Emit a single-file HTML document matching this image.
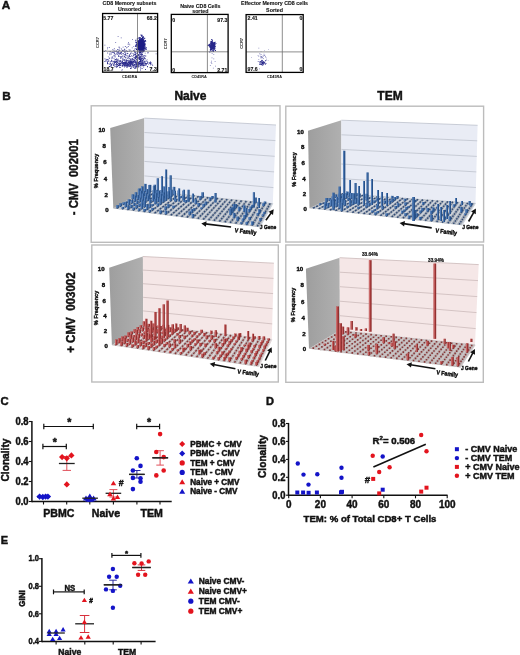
<!DOCTYPE html>
<html><head><meta charset="utf-8"><style>
html,body{margin:0;padding:0;background:#fff;width:520px;height:655px;overflow:hidden}
svg{display:block;font-family:"Liberation Sans",sans-serif;will-change:transform}
text{stroke:#111;stroke-width:0.45px;paint-order:stroke}
</style></head><body>
<svg width="520" height="655" viewBox="0 0 520 655">
<rect width="520" height="655" fill="#fff"/>
<text x="1.80" y="8.70" font-size="11.8" font-weight="bold" text-anchor="start" fill="#111">A</text>
<path d="M143.0 49.9h1.1v1.1h-1.1zM140.7 42.1h1.1v1.1h-1.1zM138.5 44.9h1.1v1.1h-1.1zM138.7 39.8h1.1v1.1h-1.1zM141.0 45.3h1.1v1.1h-1.1zM141.6 41.6h1.1v1.1h-1.1zM140.6 44.6h1.1v1.1h-1.1zM137.7 46.7h1.1v1.1h-1.1zM141.2 53.2h1.1v1.1h-1.1zM141.0 44.3h1.1v1.1h-1.1zM142.9 45.5h1.1v1.1h-1.1zM142.3 43.5h1.1v1.1h-1.1zM141.0 48.4h1.1v1.1h-1.1zM141.9 45.2h1.1v1.1h-1.1zM138.5 46.4h1.1v1.1h-1.1zM140.7 47.3h1.1v1.1h-1.1zM141.0 48.6h1.1v1.1h-1.1zM140.5 45.5h1.1v1.1h-1.1zM141.9 41.0h1.1v1.1h-1.1zM139.8 43.0h1.1v1.1h-1.1zM144.4 44.5h1.1v1.1h-1.1zM141.8 47.0h1.1v1.1h-1.1zM140.1 39.4h1.1v1.1h-1.1zM142.4 43.4h1.1v1.1h-1.1zM142.0 40.2h1.1v1.1h-1.1zM139.8 49.2h1.1v1.1h-1.1zM143.3 40.2h1.1v1.1h-1.1zM138.1 44.6h1.1v1.1h-1.1zM142.0 45.4h1.1v1.1h-1.1zM141.2 41.3h1.1v1.1h-1.1zM141.7 48.7h1.1v1.1h-1.1zM139.8 39.8h1.1v1.1h-1.1zM139.2 47.5h1.1v1.1h-1.1zM137.3 44.5h1.1v1.1h-1.1zM138.7 44.3h1.1v1.1h-1.1zM140.1 44.9h1.1v1.1h-1.1zM143.5 46.3h1.1v1.1h-1.1zM143.1 44.3h1.1v1.1h-1.1zM139.7 46.1h1.1v1.1h-1.1zM135.2 44.7h1.1v1.1h-1.1zM140.9 40.5h1.1v1.1h-1.1zM141.5 42.8h1.1v1.1h-1.1zM135.9 44.1h1.1v1.1h-1.1zM138.7 43.0h1.1v1.1h-1.1zM140.3 49.2h1.1v1.1h-1.1zM140.8 44.7h1.1v1.1h-1.1zM141.3 38.5h1.1v1.1h-1.1zM143.0 41.0h1.1v1.1h-1.1zM141.4 40.9h1.1v1.1h-1.1zM138.7 43.4h1.1v1.1h-1.1zM144.2 47.2h1.1v1.1h-1.1zM139.5 43.8h1.1v1.1h-1.1zM138.4 44.7h1.1v1.1h-1.1zM139.5 47.3h1.1v1.1h-1.1zM138.0 43.6h1.1v1.1h-1.1zM139.0 42.3h1.1v1.1h-1.1zM142.0 45.2h1.1v1.1h-1.1zM141.7 49.0h1.1v1.1h-1.1zM142.8 40.0h1.1v1.1h-1.1zM141.6 38.6h1.1v1.1h-1.1zM140.5 51.5h1.1v1.1h-1.1zM140.2 43.5h1.1v1.1h-1.1zM140.9 44.9h1.1v1.1h-1.1zM140.7 42.1h1.1v1.1h-1.1zM142.7 47.9h1.1v1.1h-1.1zM140.2 45.9h1.1v1.1h-1.1zM141.9 48.4h1.1v1.1h-1.1zM141.3 47.2h1.1v1.1h-1.1zM140.1 41.1h1.1v1.1h-1.1zM139.7 48.4h1.1v1.1h-1.1zM142.5 45.3h1.1v1.1h-1.1zM139.5 45.9h1.1v1.1h-1.1zM143.8 49.5h1.1v1.1h-1.1zM139.3 44.6h1.1v1.1h-1.1zM137.8 40.8h1.1v1.1h-1.1zM141.0 44.9h1.1v1.1h-1.1zM142.4 49.2h1.1v1.1h-1.1zM142.2 49.4h1.1v1.1h-1.1zM139.6 40.8h1.1v1.1h-1.1zM141.6 54.2h1.1v1.1h-1.1zM141.3 40.8h1.1v1.1h-1.1zM141.1 49.8h1.1v1.1h-1.1zM138.6 47.6h1.1v1.1h-1.1zM139.4 49.3h1.1v1.1h-1.1zM142.1 45.9h1.1v1.1h-1.1zM144.4 43.4h1.1v1.1h-1.1zM139.3 51.3h1.1v1.1h-1.1zM138.9 52.5h1.1v1.1h-1.1zM140.5 41.2h1.1v1.1h-1.1zM140.6 45.3h1.1v1.1h-1.1zM141.0 44.1h1.1v1.1h-1.1zM142.7 36.7h1.1v1.1h-1.1zM139.5 43.9h1.1v1.1h-1.1zM144.1 37.8h1.1v1.1h-1.1zM140.0 40.8h1.1v1.1h-1.1zM139.3 47.0h1.1v1.1h-1.1zM141.4 49.8h1.1v1.1h-1.1zM139.5 45.7h1.1v1.1h-1.1zM142.8 48.0h1.1v1.1h-1.1zM140.0 48.7h1.1v1.1h-1.1zM138.8 51.1h1.1v1.1h-1.1zM140.9 44.4h1.1v1.1h-1.1zM141.1 47.8h1.1v1.1h-1.1zM143.9 44.3h1.1v1.1h-1.1zM139.9 46.9h1.1v1.1h-1.1zM138.9 38.9h1.1v1.1h-1.1zM142.2 43.5h1.1v1.1h-1.1zM142.7 41.2h1.1v1.1h-1.1zM135.1 45.8h1.1v1.1h-1.1zM140.9 50.4h1.1v1.1h-1.1zM141.6 45.9h1.1v1.1h-1.1zM141.7 43.5h1.1v1.1h-1.1zM140.7 40.1h1.1v1.1h-1.1zM141.6 42.0h1.1v1.1h-1.1zM139.8 47.2h1.1v1.1h-1.1zM142.3 41.3h1.1v1.1h-1.1zM144.4 42.7h1.1v1.1h-1.1zM142.2 48.1h1.1v1.1h-1.1zM141.0 45.4h1.1v1.1h-1.1zM144.0 47.9h1.1v1.1h-1.1zM141.4 38.4h1.1v1.1h-1.1zM139.2 48.9h1.1v1.1h-1.1zM141.0 41.5h1.1v1.1h-1.1zM139.4 43.7h1.1v1.1h-1.1zM141.9 46.2h1.1v1.1h-1.1zM142.5 41.9h1.1v1.1h-1.1zM142.5 43.0h1.1v1.1h-1.1zM140.0 50.9h1.1v1.1h-1.1zM140.7 44.3h1.1v1.1h-1.1zM140.2 43.5h1.1v1.1h-1.1zM143.6 49.6h1.1v1.1h-1.1zM142.0 45.4h1.1v1.1h-1.1zM142.6 44.5h1.1v1.1h-1.1zM141.5 46.2h1.1v1.1h-1.1zM140.8 50.6h1.1v1.1h-1.1zM143.9 49.4h1.1v1.1h-1.1zM137.0 51.2h1.1v1.1h-1.1zM141.9 43.2h1.1v1.1h-1.1zM140.6 48.8h1.1v1.1h-1.1zM142.8 47.8h1.1v1.1h-1.1zM140.9 44.9h1.1v1.1h-1.1zM142.2 44.5h1.1v1.1h-1.1zM138.9 42.6h1.1v1.1h-1.1zM140.3 46.0h1.1v1.1h-1.1zM144.9 40.0h1.1v1.1h-1.1zM141.5 44.5h1.1v1.1h-1.1zM141.2 49.5h1.1v1.1h-1.1zM143.0 44.2h1.1v1.1h-1.1zM139.5 40.0h1.1v1.1h-1.1zM140.5 49.2h1.1v1.1h-1.1zM140.1 47.3h1.1v1.1h-1.1zM141.9 46.2h1.1v1.1h-1.1zM142.7 44.4h1.1v1.1h-1.1zM139.0 40.7h1.1v1.1h-1.1zM142.4 43.5h1.1v1.1h-1.1zM140.0 47.7h1.1v1.1h-1.1zM139.1 51.0h1.1v1.1h-1.1zM141.9 43.0h1.1v1.1h-1.1zM139.4 48.6h1.1v1.1h-1.1zM138.4 42.6h1.1v1.1h-1.1zM140.6 45.5h1.1v1.1h-1.1zM140.6 46.2h1.1v1.1h-1.1zM139.9 44.4h1.1v1.1h-1.1zM143.0 47.1h1.1v1.1h-1.1zM139.7 50.8h1.1v1.1h-1.1zM136.8 45.1h1.1v1.1h-1.1zM141.9 48.2h1.1v1.1h-1.1zM140.8 43.5h1.1v1.1h-1.1zM141.7 44.1h1.1v1.1h-1.1zM141.5 34.8h1.1v1.1h-1.1zM141.3 42.0h1.1v1.1h-1.1zM142.4 47.4h1.1v1.1h-1.1zM142.0 43.4h1.1v1.1h-1.1zM141.4 43.6h1.1v1.1h-1.1zM141.0 44.3h1.1v1.1h-1.1zM138.9 51.7h1.1v1.1h-1.1zM142.0 37.6h1.1v1.1h-1.1zM142.3 39.9h1.1v1.1h-1.1zM140.2 42.8h1.1v1.1h-1.1zM139.6 45.6h1.1v1.1h-1.1zM140.0 39.7h1.1v1.1h-1.1zM140.6 46.1h1.1v1.1h-1.1zM144.0 43.3h1.1v1.1h-1.1zM138.3 43.5h1.1v1.1h-1.1zM141.8 41.7h1.1v1.1h-1.1zM139.2 46.7h1.1v1.1h-1.1zM140.6 45.6h1.1v1.1h-1.1zM139.4 41.9h1.1v1.1h-1.1zM140.0 44.3h1.1v1.1h-1.1zM140.0 46.3h1.1v1.1h-1.1zM141.6 46.7h1.1v1.1h-1.1zM141.5 41.7h1.1v1.1h-1.1zM138.5 47.6h1.1v1.1h-1.1zM140.6 45.2h1.1v1.1h-1.1zM138.4 44.1h1.1v1.1h-1.1zM139.4 41.8h1.1v1.1h-1.1zM139.4 39.6h1.1v1.1h-1.1zM140.8 48.9h1.1v1.1h-1.1zM139.3 45.1h1.1v1.1h-1.1zM138.5 47.2h1.1v1.1h-1.1zM144.1 40.5h1.1v1.1h-1.1zM140.2 49.8h1.1v1.1h-1.1zM141.3 45.2h1.1v1.1h-1.1zM136.7 44.3h1.1v1.1h-1.1zM142.3 49.8h1.1v1.1h-1.1zM141.8 42.8h1.1v1.1h-1.1zM139.3 38.4h1.1v1.1h-1.1zM138.6 48.7h1.1v1.1h-1.1zM140.4 40.1h1.1v1.1h-1.1zM143.1 38.9h1.1v1.1h-1.1zM143.0 43.7h1.1v1.1h-1.1zM141.2 47.2h1.1v1.1h-1.1zM141.1 49.3h1.1v1.1h-1.1zM140.6 43.7h1.1v1.1h-1.1zM139.3 39.7h1.1v1.1h-1.1zM139.3 48.2h1.1v1.1h-1.1zM142.2 49.7h1.1v1.1h-1.1zM145.8 47.3h1.1v1.1h-1.1zM141.6 40.2h1.1v1.1h-1.1zM140.1 52.5h1.1v1.1h-1.1zM141.6 44.3h1.1v1.1h-1.1zM141.2 38.2h1.1v1.1h-1.1zM139.0 40.2h1.1v1.1h-1.1zM136.5 47.5h1.1v1.1h-1.1zM142.4 44.2h1.1v1.1h-1.1zM141.3 41.3h1.1v1.1h-1.1zM141.5 47.5h1.1v1.1h-1.1zM143.5 50.3h1.1v1.1h-1.1zM141.5 44.4h1.1v1.1h-1.1zM139.0 42.7h1.1v1.1h-1.1zM141.8 46.8h1.1v1.1h-1.1zM140.6 50.6h1.1v1.1h-1.1zM141.8 44.9h1.1v1.1h-1.1zM140.2 45.1h1.1v1.1h-1.1zM138.8 41.4h1.1v1.1h-1.1zM141.3 42.8h1.1v1.1h-1.1zM140.1 49.1h1.1v1.1h-1.1zM140.2 49.4h1.1v1.1h-1.1zM140.6 50.1h1.1v1.1h-1.1zM141.5 38.6h1.1v1.1h-1.1zM143.0 44.1h1.1v1.1h-1.1zM136.9 45.2h1.1v1.1h-1.1zM140.9 40.3h1.1v1.1h-1.1zM139.4 46.7h1.1v1.1h-1.1zM143.3 48.8h1.1v1.1h-1.1zM142.9 48.7h1.1v1.1h-1.1zM135.9 42.3h1.1v1.1h-1.1zM141.0 35.4h1.1v1.1h-1.1zM142.1 47.9h1.1v1.1h-1.1zM139.1 43.5h1.1v1.1h-1.1zM138.8 44.7h1.1v1.1h-1.1zM140.5 44.8h1.1v1.1h-1.1zM138.7 46.2h1.1v1.1h-1.1zM140.0 48.1h1.1v1.1h-1.1zM141.2 39.6h1.1v1.1h-1.1zM137.9 45.0h1.1v1.1h-1.1zM139.7 46.4h1.1v1.1h-1.1zM142.1 44.9h1.1v1.1h-1.1zM137.4 40.6h1.1v1.1h-1.1zM141.7 41.1h1.1v1.1h-1.1zM142.7 44.5h1.1v1.1h-1.1zM141.6 41.7h1.1v1.1h-1.1zM140.4 34.4h1.1v1.1h-1.1zM140.2 46.8h1.1v1.1h-1.1zM138.9 41.9h1.1v1.1h-1.1zM140.5 45.0h1.1v1.1h-1.1zM139.1 47.2h1.1v1.1h-1.1zM137.5 48.7h1.1v1.1h-1.1zM137.9 41.9h1.1v1.1h-1.1zM143.1 41.3h1.1v1.1h-1.1zM137.5 45.1h1.1v1.1h-1.1zM138.9 40.9h1.1v1.1h-1.1zM139.3 42.2h1.1v1.1h-1.1zM138.7 41.2h1.1v1.1h-1.1zM143.7 42.4h1.1v1.1h-1.1zM142.4 39.9h1.1v1.1h-1.1zM141.6 40.4h1.1v1.1h-1.1zM139.7 47.0h1.1v1.1h-1.1zM139.6 37.9h1.1v1.1h-1.1zM139.6 44.2h1.1v1.1h-1.1zM141.7 41.3h1.1v1.1h-1.1zM140.0 45.0h1.1v1.1h-1.1zM137.5 44.4h1.1v1.1h-1.1zM139.0 46.3h1.1v1.1h-1.1zM140.4 44.2h1.1v1.1h-1.1zM136.0 44.4h1.1v1.1h-1.1zM139.9 41.5h1.1v1.1h-1.1zM139.6 40.4h1.1v1.1h-1.1zM140.9 47.1h1.1v1.1h-1.1zM141.7 43.0h1.1v1.1h-1.1zM143.8 47.8h1.1v1.1h-1.1zM138.8 44.3h1.1v1.1h-1.1zM137.5 44.4h1.1v1.1h-1.1zM142.0 49.2h1.1v1.1h-1.1zM139.8 38.5h1.1v1.1h-1.1zM140.3 49.6h1.1v1.1h-1.1zM140.9 49.3h1.1v1.1h-1.1zM142.2 50.3h1.1v1.1h-1.1zM141.7 42.5h1.1v1.1h-1.1zM141.4 53.7h1.1v1.1h-1.1zM139.6 38.3h1.1v1.1h-1.1zM144.6 46.2h1.1v1.1h-1.1zM139.4 42.7h1.1v1.1h-1.1zM137.7 47.3h1.1v1.1h-1.1zM140.9 42.6h1.1v1.1h-1.1zM139.8 43.3h1.1v1.1h-1.1zM142.6 44.2h1.1v1.1h-1.1zM143.2 41.9h1.1v1.1h-1.1zM139.4 43.1h1.1v1.1h-1.1zM139.6 44.5h1.1v1.1h-1.1zM142.5 49.0h1.1v1.1h-1.1zM138.6 49.3h1.1v1.1h-1.1zM140.8 50.4h1.1v1.1h-1.1zM140.3 41.9h1.1v1.1h-1.1zM142.1 47.0h1.1v1.1h-1.1zM139.7 44.9h1.1v1.1h-1.1zM140.8 45.9h1.1v1.1h-1.1zM137.3 40.6h1.1v1.1h-1.1zM140.7 45.7h1.1v1.1h-1.1zM139.6 38.6h1.1v1.1h-1.1zM143.2 43.7h1.1v1.1h-1.1zM138.6 50.4h1.1v1.1h-1.1zM142.8 48.4h1.1v1.1h-1.1zM142.2 46.8h1.1v1.1h-1.1zM138.7 44.9h1.1v1.1h-1.1zM141.3 47.0h1.1v1.1h-1.1zM141.5 41.3h1.1v1.1h-1.1zM139.5 43.6h1.1v1.1h-1.1zM140.2 41.7h1.1v1.1h-1.1zM137.1 40.5h1.1v1.1h-1.1zM141.2 44.8h1.1v1.1h-1.1zM141.7 38.2h1.1v1.1h-1.1zM139.8 47.9h1.1v1.1h-1.1zM136.9 41.0h1.1v1.1h-1.1zM137.4 49.0h1.1v1.1h-1.1zM140.7 42.8h1.1v1.1h-1.1zM140.9 44.5h1.1v1.1h-1.1zM142.3 48.9h1.1v1.1h-1.1zM142.3 46.0h1.1v1.1h-1.1zM142.1 47.6h1.1v1.1h-1.1zM142.8 38.4h1.1v1.1h-1.1zM141.3 45.1h1.1v1.1h-1.1zM140.9 43.9h1.1v1.1h-1.1zM140.5 46.5h1.1v1.1h-1.1zM141.0 45.2h1.1v1.1h-1.1zM138.6 40.4h1.1v1.1h-1.1zM139.2 38.6h1.1v1.1h-1.1zM139.6 41.8h1.1v1.1h-1.1zM137.2 38.0h1.1v1.1h-1.1zM139.7 42.8h1.1v1.1h-1.1zM144.7 47.8h1.1v1.1h-1.1zM139.1 43.1h1.1v1.1h-1.1zM138.7 42.0h1.1v1.1h-1.1zM139.9 44.6h1.1v1.1h-1.1zM139.4 47.7h1.1v1.1h-1.1zM141.8 51.6h1.1v1.1h-1.1zM138.1 47.2h1.1v1.1h-1.1zM139.9 39.2h1.1v1.1h-1.1zM140.0 39.0h1.1v1.1h-1.1zM140.5 54.4h1.1v1.1h-1.1zM143.1 51.2h1.1v1.1h-1.1zM142.9 39.4h1.1v1.1h-1.1zM141.4 45.3h1.1v1.1h-1.1zM141.4 41.2h1.1v1.1h-1.1zM136.8 52.2h1.1v1.1h-1.1zM142.9 45.9h1.1v1.1h-1.1zM139.7 45.4h1.1v1.1h-1.1zM138.2 48.2h1.1v1.1h-1.1zM140.9 44.3h1.1v1.1h-1.1zM139.8 44.6h1.1v1.1h-1.1zM140.9 43.4h1.1v1.1h-1.1zM142.4 45.5h1.1v1.1h-1.1zM140.4 41.8h1.1v1.1h-1.1zM142.9 49.3h1.1v1.1h-1.1zM141.9 38.3h1.1v1.1h-1.1zM139.9 48.3h1.1v1.1h-1.1zM140.7 49.3h1.1v1.1h-1.1zM139.8 47.6h1.1v1.1h-1.1zM141.6 36.2h1.1v1.1h-1.1zM139.8 44.0h1.1v1.1h-1.1zM139.4 41.7h1.1v1.1h-1.1zM143.6 44.4h1.1v1.1h-1.1zM142.1 40.1h1.1v1.1h-1.1zM136.7 43.1h1.1v1.1h-1.1zM141.4 42.3h1.1v1.1h-1.1zM141.6 47.6h1.1v1.1h-1.1zM139.7 44.6h1.1v1.1h-1.1zM139.2 48.6h1.1v1.1h-1.1zM144.0 46.5h1.1v1.1h-1.1zM139.6 42.3h1.1v1.1h-1.1zM140.1 47.9h1.1v1.1h-1.1zM139.2 50.0h1.1v1.1h-1.1zM138.3 44.8h1.1v1.1h-1.1zM143.1 51.0h1.1v1.1h-1.1zM139.8 47.6h1.1v1.1h-1.1zM145.4 48.9h1.1v1.1h-1.1zM136.4 45.8h1.1v1.1h-1.1zM145.1 40.7h1.1v1.1h-1.1zM142.3 37.5h1.1v1.1h-1.1zM143.6 41.8h1.1v1.1h-1.1zM142.1 48.0h1.1v1.1h-1.1zM135.3 39.8h1.1v1.1h-1.1zM141.2 39.5h1.1v1.1h-1.1zM140.6 41.5h1.1v1.1h-1.1zM143.2 43.0h1.1v1.1h-1.1zM138.9 47.0h1.1v1.1h-1.1zM142.9 44.3h1.1v1.1h-1.1zM141.1 46.5h1.1v1.1h-1.1zM139.7 40.6h1.1v1.1h-1.1zM141.6 43.6h1.1v1.1h-1.1zM138.0 47.8h1.1v1.1h-1.1zM141.4 45.3h1.1v1.1h-1.1zM139.2 44.0h1.1v1.1h-1.1zM141.8 46.5h1.1v1.1h-1.1zM139.0 41.6h1.1v1.1h-1.1zM141.3 45.4h1.1v1.1h-1.1zM142.2 40.7h1.1v1.1h-1.1zM142.4 51.0h1.1v1.1h-1.1zM142.4 45.3h1.1v1.1h-1.1zM142.3 40.3h1.1v1.1h-1.1zM139.8 52.0h1.1v1.1h-1.1zM137.5 40.7h1.1v1.1h-1.1zM142.2 42.5h1.1v1.1h-1.1zM139.5 40.9h1.1v1.1h-1.1zM143.8 42.7h1.1v1.1h-1.1zM140.1 38.5h1.1v1.1h-1.1zM142.1 44.8h1.1v1.1h-1.1zM141.5 50.3h1.1v1.1h-1.1zM140.9 40.6h1.1v1.1h-1.1zM138.7 45.1h1.1v1.1h-1.1zM143.1 40.6h1.1v1.1h-1.1zM140.1 44.3h1.1v1.1h-1.1zM141.8 41.7h1.1v1.1h-1.1zM141.2 47.5h1.1v1.1h-1.1zM140.5 44.5h1.1v1.1h-1.1zM141.8 46.8h1.1v1.1h-1.1zM143.0 41.0h1.1v1.1h-1.1zM142.9 44.0h1.1v1.1h-1.1zM138.4 42.9h1.1v1.1h-1.1zM138.3 44.1h1.1v1.1h-1.1zM142.6 36.9h1.1v1.1h-1.1zM138.4 47.5h1.1v1.1h-1.1zM140.0 47.6h1.1v1.1h-1.1zM138.1 44.6h1.1v1.1h-1.1zM135.6 41.8h1.1v1.1h-1.1zM142.0 49.1h1.1v1.1h-1.1zM143.7 44.6h1.1v1.1h-1.1zM138.9 43.4h1.1v1.1h-1.1zM137.0 49.5h1.1v1.1h-1.1zM142.8 41.6h1.1v1.1h-1.1z" fill="#1c1c84" fill-opacity="0.9"/>
<path d="M143.3 40.5h1.1v1.1h-1.1zM141.4 41.9h1.1v1.1h-1.1zM138.0 45.0h1.1v1.1h-1.1zM138.9 47.1h1.1v1.1h-1.1zM139.3 44.3h1.1v1.1h-1.1zM139.9 44.4h1.1v1.1h-1.1zM139.7 46.1h1.1v1.1h-1.1zM141.5 44.2h1.1v1.1h-1.1zM140.4 49.1h1.1v1.1h-1.1zM139.6 42.9h1.1v1.1h-1.1zM141.8 44.0h1.1v1.1h-1.1zM138.1 43.6h1.1v1.1h-1.1zM140.0 41.4h1.1v1.1h-1.1zM140.9 41.0h1.1v1.1h-1.1zM140.2 41.0h1.1v1.1h-1.1zM142.9 43.3h1.1v1.1h-1.1zM141.3 44.7h1.1v1.1h-1.1zM141.7 43.6h1.1v1.1h-1.1zM141.7 44.3h1.1v1.1h-1.1zM136.9 44.8h1.1v1.1h-1.1zM138.7 46.5h1.1v1.1h-1.1zM140.9 43.0h1.1v1.1h-1.1zM136.8 38.4h1.1v1.1h-1.1zM138.8 43.0h1.1v1.1h-1.1zM138.5 49.2h1.1v1.1h-1.1zM141.3 43.8h1.1v1.1h-1.1zM139.1 43.1h1.1v1.1h-1.1zM140.2 42.8h1.1v1.1h-1.1zM140.5 46.1h1.1v1.1h-1.1zM138.0 44.6h1.1v1.1h-1.1zM142.3 40.4h1.1v1.1h-1.1zM140.3 43.0h1.1v1.1h-1.1zM138.9 46.5h1.1v1.1h-1.1zM140.1 47.0h1.1v1.1h-1.1zM141.2 43.3h1.1v1.1h-1.1zM141.0 43.0h1.1v1.1h-1.1zM138.1 47.7h1.1v1.1h-1.1zM141.1 47.0h1.1v1.1h-1.1zM137.9 46.7h1.1v1.1h-1.1zM141.8 43.9h1.1v1.1h-1.1zM137.4 44.3h1.1v1.1h-1.1zM139.6 43.5h1.1v1.1h-1.1zM140.7 41.6h1.1v1.1h-1.1zM140.4 44.0h1.1v1.1h-1.1zM142.8 43.7h1.1v1.1h-1.1zM144.1 40.9h1.1v1.1h-1.1zM140.4 47.2h1.1v1.1h-1.1zM138.2 45.6h1.1v1.1h-1.1zM141.2 42.4h1.1v1.1h-1.1zM140.2 48.0h1.1v1.1h-1.1zM139.9 44.7h1.1v1.1h-1.1zM141.2 47.1h1.1v1.1h-1.1zM137.5 40.2h1.1v1.1h-1.1zM138.6 43.3h1.1v1.1h-1.1zM141.5 46.2h1.1v1.1h-1.1zM140.2 47.9h1.1v1.1h-1.1zM140.5 45.8h1.1v1.1h-1.1zM139.5 46.2h1.1v1.1h-1.1zM139.5 47.0h1.1v1.1h-1.1zM141.9 48.9h1.1v1.1h-1.1zM140.0 41.0h1.1v1.1h-1.1zM141.8 44.8h1.1v1.1h-1.1zM139.8 40.5h1.1v1.1h-1.1zM141.8 38.9h1.1v1.1h-1.1zM139.9 46.8h1.1v1.1h-1.1zM140.2 45.2h1.1v1.1h-1.1zM141.3 45.5h1.1v1.1h-1.1zM142.2 45.7h1.1v1.1h-1.1zM140.0 40.8h1.1v1.1h-1.1zM140.2 42.3h1.1v1.1h-1.1zM141.2 47.2h1.1v1.1h-1.1zM141.8 42.2h1.1v1.1h-1.1zM140.9 44.0h1.1v1.1h-1.1zM139.9 47.4h1.1v1.1h-1.1zM141.5 44.9h1.1v1.1h-1.1zM138.8 37.2h1.1v1.1h-1.1zM139.5 47.0h1.1v1.1h-1.1zM140.3 43.9h1.1v1.1h-1.1zM140.2 45.2h1.1v1.1h-1.1zM140.6 48.5h1.1v1.1h-1.1zM140.4 43.3h1.1v1.1h-1.1zM142.7 46.0h1.1v1.1h-1.1zM141.6 45.4h1.1v1.1h-1.1zM140.5 44.8h1.1v1.1h-1.1zM141.4 44.3h1.1v1.1h-1.1zM137.8 47.6h1.1v1.1h-1.1zM139.9 42.5h1.1v1.1h-1.1zM140.1 42.1h1.1v1.1h-1.1zM139.3 43.8h1.1v1.1h-1.1zM141.9 43.2h1.1v1.1h-1.1zM141.3 40.5h1.1v1.1h-1.1zM141.7 41.0h1.1v1.1h-1.1zM141.6 42.1h1.1v1.1h-1.1zM139.7 40.7h1.1v1.1h-1.1zM138.7 43.4h1.1v1.1h-1.1zM139.1 43.4h1.1v1.1h-1.1zM142.3 41.8h1.1v1.1h-1.1zM140.1 43.7h1.1v1.1h-1.1zM139.7 43.9h1.1v1.1h-1.1zM140.9 46.7h1.1v1.1h-1.1zM139.5 43.4h1.1v1.1h-1.1zM140.4 47.2h1.1v1.1h-1.1zM139.1 44.4h1.1v1.1h-1.1zM141.8 45.5h1.1v1.1h-1.1zM139.5 41.3h1.1v1.1h-1.1zM137.8 42.6h1.1v1.1h-1.1zM140.2 40.1h1.1v1.1h-1.1zM141.9 44.4h1.1v1.1h-1.1zM140.2 42.6h1.1v1.1h-1.1zM141.3 43.3h1.1v1.1h-1.1zM141.4 42.8h1.1v1.1h-1.1zM142.2 39.8h1.1v1.1h-1.1zM139.0 48.7h1.1v1.1h-1.1zM142.2 48.3h1.1v1.1h-1.1zM139.4 45.9h1.1v1.1h-1.1zM142.1 46.4h1.1v1.1h-1.1zM140.3 47.8h1.1v1.1h-1.1zM141.2 40.6h1.1v1.1h-1.1zM144.3 44.3h1.1v1.1h-1.1zM142.5 42.2h1.1v1.1h-1.1zM139.2 46.3h1.1v1.1h-1.1zM141.8 42.1h1.1v1.1h-1.1zM141.0 40.5h1.1v1.1h-1.1zM137.5 46.8h1.1v1.1h-1.1zM138.9 45.9h1.1v1.1h-1.1zM142.2 45.0h1.1v1.1h-1.1zM142.9 44.9h1.1v1.1h-1.1zM141.0 44.0h1.1v1.1h-1.1zM141.2 44.9h1.1v1.1h-1.1zM139.2 43.9h1.1v1.1h-1.1zM140.0 51.4h1.1v1.1h-1.1zM142.4 41.9h1.1v1.1h-1.1zM141.5 39.4h1.1v1.1h-1.1zM140.7 48.7h1.1v1.1h-1.1zM140.7 47.3h1.1v1.1h-1.1zM140.0 45.2h1.1v1.1h-1.1zM141.2 38.3h1.1v1.1h-1.1zM139.4 48.9h1.1v1.1h-1.1zM139.4 47.1h1.1v1.1h-1.1zM143.2 43.9h1.1v1.1h-1.1zM142.1 45.0h1.1v1.1h-1.1zM139.7 45.5h1.1v1.1h-1.1zM141.3 41.4h1.1v1.1h-1.1zM139.9 40.5h1.1v1.1h-1.1zM140.1 43.9h1.1v1.1h-1.1zM139.1 39.1h1.1v1.1h-1.1zM141.6 47.3h1.1v1.1h-1.1zM139.2 44.2h1.1v1.1h-1.1zM139.6 37.1h1.1v1.1h-1.1zM143.8 44.8h1.1v1.1h-1.1zM138.5 47.3h1.1v1.1h-1.1zM141.7 47.7h1.1v1.1h-1.1zM141.7 45.4h1.1v1.1h-1.1zM142.8 43.3h1.1v1.1h-1.1zM141.0 41.2h1.1v1.1h-1.1zM138.9 44.5h1.1v1.1h-1.1zM140.9 39.9h1.1v1.1h-1.1zM141.2 46.6h1.1v1.1h-1.1zM138.7 43.1h1.1v1.1h-1.1zM143.2 41.8h1.1v1.1h-1.1zM141.5 46.0h1.1v1.1h-1.1zM140.9 44.4h1.1v1.1h-1.1zM141.5 44.7h1.1v1.1h-1.1zM140.8 40.2h1.1v1.1h-1.1zM141.0 42.0h1.1v1.1h-1.1zM142.8 49.8h1.1v1.1h-1.1zM142.3 38.4h1.1v1.1h-1.1zM142.1 44.3h1.1v1.1h-1.1zM139.0 40.8h1.1v1.1h-1.1zM142.2 42.3h1.1v1.1h-1.1zM140.5 44.2h1.1v1.1h-1.1zM142.0 37.0h1.1v1.1h-1.1zM142.4 41.9h1.1v1.1h-1.1zM140.0 45.6h1.1v1.1h-1.1zM141.1 38.0h1.1v1.1h-1.1zM141.5 43.6h1.1v1.1h-1.1zM139.1 42.4h1.1v1.1h-1.1zM138.2 46.0h1.1v1.1h-1.1zM142.8 42.4h1.1v1.1h-1.1zM139.9 40.2h1.1v1.1h-1.1zM139.5 41.3h1.1v1.1h-1.1zM140.6 48.5h1.1v1.1h-1.1zM142.2 46.5h1.1v1.1h-1.1zM139.1 46.2h1.1v1.1h-1.1zM139.5 41.7h1.1v1.1h-1.1zM141.7 43.7h1.1v1.1h-1.1zM144.3 44.5h1.1v1.1h-1.1zM140.1 45.9h1.1v1.1h-1.1zM138.9 45.8h1.1v1.1h-1.1zM142.9 43.6h1.1v1.1h-1.1zM139.8 46.9h1.1v1.1h-1.1zM138.9 45.0h1.1v1.1h-1.1zM139.8 44.8h1.1v1.1h-1.1zM139.4 45.6h1.1v1.1h-1.1zM141.4 48.6h1.1v1.1h-1.1zM140.1 45.1h1.1v1.1h-1.1zM138.0 42.0h1.1v1.1h-1.1zM141.0 40.4h1.1v1.1h-1.1zM140.4 41.7h1.1v1.1h-1.1zM141.3 45.6h1.1v1.1h-1.1zM139.9 45.7h1.1v1.1h-1.1zM139.8 44.3h1.1v1.1h-1.1zM141.4 45.4h1.1v1.1h-1.1zM141.5 48.4h1.1v1.1h-1.1zM139.6 43.6h1.1v1.1h-1.1zM137.9 46.3h1.1v1.1h-1.1zM138.9 42.5h1.1v1.1h-1.1zM139.8 45.1h1.1v1.1h-1.1zM140.2 43.3h1.1v1.1h-1.1zM140.7 43.1h1.1v1.1h-1.1zM140.6 41.4h1.1v1.1h-1.1zM139.8 40.8h1.1v1.1h-1.1zM141.9 46.3h1.1v1.1h-1.1zM141.6 44.9h1.1v1.1h-1.1zM139.7 45.4h1.1v1.1h-1.1zM138.3 37.5h1.1v1.1h-1.1zM138.8 47.9h1.1v1.1h-1.1zM141.0 48.0h1.1v1.1h-1.1zM139.5 46.6h1.1v1.1h-1.1zM143.0 46.6h1.1v1.1h-1.1zM141.0 46.8h1.1v1.1h-1.1zM139.9 48.6h1.1v1.1h-1.1zM138.9 42.0h1.1v1.1h-1.1zM140.6 42.0h1.1v1.1h-1.1zM143.2 45.7h1.1v1.1h-1.1zM139.5 48.4h1.1v1.1h-1.1zM142.6 43.0h1.1v1.1h-1.1zM142.9 47.1h1.1v1.1h-1.1zM139.8 42.5h1.1v1.1h-1.1zM141.1 47.0h1.1v1.1h-1.1zM143.0 47.9h1.1v1.1h-1.1zM139.9 39.4h1.1v1.1h-1.1zM138.1 47.9h1.1v1.1h-1.1zM142.2 47.1h1.1v1.1h-1.1zM140.6 44.2h1.1v1.1h-1.1zM141.3 45.2h1.1v1.1h-1.1zM140.7 41.5h1.1v1.1h-1.1zM138.5 44.4h1.1v1.1h-1.1zM140.4 47.7h1.1v1.1h-1.1zM139.0 38.8h1.1v1.1h-1.1zM137.7 43.9h1.1v1.1h-1.1zM143.1 43.1h1.1v1.1h-1.1zM139.5 45.0h1.1v1.1h-1.1zM142.9 46.8h1.1v1.1h-1.1zM141.9 46.4h1.1v1.1h-1.1zM140.2 44.2h1.1v1.1h-1.1zM141.2 48.7h1.1v1.1h-1.1zM137.3 42.6h1.1v1.1h-1.1zM141.2 43.4h1.1v1.1h-1.1zM140.4 43.3h1.1v1.1h-1.1zM139.2 45.3h1.1v1.1h-1.1zM142.5 43.1h1.1v1.1h-1.1zM141.3 46.9h1.1v1.1h-1.1zM139.6 43.8h1.1v1.1h-1.1zM138.6 48.1h1.1v1.1h-1.1zM143.2 43.5h1.1v1.1h-1.1zM143.6 46.2h1.1v1.1h-1.1zM137.9 45.3h1.1v1.1h-1.1zM141.0 45.3h1.1v1.1h-1.1zM141.6 42.8h1.1v1.1h-1.1zM142.3 44.8h1.1v1.1h-1.1zM143.4 43.7h1.1v1.1h-1.1zM136.8 49.0h1.1v1.1h-1.1zM141.4 39.2h1.1v1.1h-1.1zM139.7 41.9h1.1v1.1h-1.1zM142.0 42.4h1.1v1.1h-1.1zM142.3 42.7h1.1v1.1h-1.1zM142.0 42.4h1.1v1.1h-1.1zM138.8 45.5h1.1v1.1h-1.1zM140.2 45.3h1.1v1.1h-1.1zM138.1 41.3h1.1v1.1h-1.1zM140.1 49.1h1.1v1.1h-1.1zM141.2 39.6h1.1v1.1h-1.1zM135.9 48.8h1.1v1.1h-1.1zM141.1 40.7h1.1v1.1h-1.1zM142.1 46.2h1.1v1.1h-1.1zM143.8 44.5h1.1v1.1h-1.1zM139.9 46.1h1.1v1.1h-1.1zM138.6 42.8h1.1v1.1h-1.1zM139.1 42.5h1.1v1.1h-1.1zM138.7 40.2h1.1v1.1h-1.1zM138.9 45.0h1.1v1.1h-1.1zM140.6 43.8h1.1v1.1h-1.1zM141.3 46.0h1.1v1.1h-1.1zM141.3 49.4h1.1v1.1h-1.1zM141.0 45.0h1.1v1.1h-1.1zM139.9 46.8h1.1v1.1h-1.1zM142.7 36.3h1.1v1.1h-1.1zM141.8 41.1h1.1v1.1h-1.1zM141.1 44.2h1.1v1.1h-1.1zM138.7 40.5h1.1v1.1h-1.1zM140.2 50.8h1.1v1.1h-1.1zM138.7 42.9h1.1v1.1h-1.1zM140.2 43.3h1.1v1.1h-1.1zM142.3 49.4h1.1v1.1h-1.1zM140.5 45.1h1.1v1.1h-1.1zM140.1 48.1h1.1v1.1h-1.1zM140.5 45.8h1.1v1.1h-1.1zM140.3 46.9h1.1v1.1h-1.1zM140.5 41.8h1.1v1.1h-1.1z" fill="#1c1c84" fill-opacity="1.0"/>
<path d="M145.7 49.2h0.9v0.9h-0.9zM139.6 56.4h0.9v0.9h-0.9zM135.8 67.4h0.9v0.9h-0.9zM140.2 56.1h0.9v0.9h-0.9zM135.9 59.5h0.9v0.9h-0.9zM139.0 56.9h0.9v0.9h-0.9zM136.7 64.9h0.9v0.9h-0.9zM139.8 57.2h0.9v0.9h-0.9zM134.6 54.5h0.9v0.9h-0.9zM141.6 54.6h0.9v0.9h-0.9zM141.3 57.5h0.9v0.9h-0.9zM140.4 59.6h0.9v0.9h-0.9zM137.5 56.8h0.9v0.9h-0.9zM138.8 61.0h0.9v0.9h-0.9zM147.4 61.9h0.9v0.9h-0.9zM134.4 68.0h0.9v0.9h-0.9zM138.6 54.9h0.9v0.9h-0.9zM139.4 57.7h0.9v0.9h-0.9zM139.9 57.9h0.9v0.9h-0.9zM138.9 63.7h0.9v0.9h-0.9zM144.9 58.4h0.9v0.9h-0.9zM144.6 62.2h0.9v0.9h-0.9zM143.2 59.2h0.9v0.9h-0.9zM139.7 61.6h0.9v0.9h-0.9zM135.6 58.3h0.9v0.9h-0.9zM135.0 62.1h0.9v0.9h-0.9zM139.7 60.7h0.9v0.9h-0.9zM137.8 54.5h0.9v0.9h-0.9zM142.4 56.1h0.9v0.9h-0.9zM138.3 58.2h0.9v0.9h-0.9zM140.6 58.3h0.9v0.9h-0.9zM135.4 53.3h0.9v0.9h-0.9zM142.6 56.6h0.9v0.9h-0.9zM138.2 54.0h0.9v0.9h-0.9zM142.3 60.1h0.9v0.9h-0.9zM137.1 50.2h0.9v0.9h-0.9zM145.3 55.5h0.9v0.9h-0.9zM134.9 55.8h0.9v0.9h-0.9zM135.0 58.0h0.9v0.9h-0.9zM137.1 52.7h0.9v0.9h-0.9zM141.4 54.2h0.9v0.9h-0.9zM132.5 59.5h0.9v0.9h-0.9zM137.1 53.1h0.9v0.9h-0.9zM133.2 54.8h0.9v0.9h-0.9zM136.9 55.8h0.9v0.9h-0.9zM137.2 63.7h0.9v0.9h-0.9zM142.7 59.4h0.9v0.9h-0.9zM141.0 55.9h0.9v0.9h-0.9zM133.9 60.4h0.9v0.9h-0.9zM143.8 54.9h0.9v0.9h-0.9zM136.6 54.9h0.9v0.9h-0.9zM134.4 60.5h0.9v0.9h-0.9zM135.2 64.2h0.9v0.9h-0.9zM144.8 58.4h0.9v0.9h-0.9zM138.9 54.2h0.9v0.9h-0.9zM142.2 58.4h0.9v0.9h-0.9zM133.8 53.8h0.9v0.9h-0.9zM140.6 55.8h0.9v0.9h-0.9zM140.5 59.1h0.9v0.9h-0.9zM144.0 57.6h0.9v0.9h-0.9zM142.7 63.0h0.9v0.9h-0.9zM143.6 56.5h0.9v0.9h-0.9zM140.0 69.5h0.9v0.9h-0.9zM138.3 55.3h0.9v0.9h-0.9zM139.4 52.7h0.9v0.9h-0.9zM136.0 56.1h0.9v0.9h-0.9zM138.0 62.5h0.9v0.9h-0.9zM135.2 57.2h0.9v0.9h-0.9zM139.9 56.7h0.9v0.9h-0.9zM141.6 68.1h0.9v0.9h-0.9zM135.2 54.1h0.9v0.9h-0.9zM137.2 55.6h0.9v0.9h-0.9zM137.1 59.9h0.9v0.9h-0.9zM145.1 69.1h0.9v0.9h-0.9zM138.7 48.8h0.9v0.9h-0.9zM144.5 58.1h0.9v0.9h-0.9zM137.6 62.9h0.9v0.9h-0.9zM138.6 57.0h0.9v0.9h-0.9zM135.9 62.1h0.9v0.9h-0.9zM142.0 54.2h0.9v0.9h-0.9zM137.0 63.6h0.9v0.9h-0.9zM136.5 56.1h0.9v0.9h-0.9zM136.3 56.9h0.9v0.9h-0.9zM142.0 58.3h0.9v0.9h-0.9zM142.5 60.7h0.9v0.9h-0.9zM131.9 57.9h0.9v0.9h-0.9zM138.9 50.5h0.9v0.9h-0.9zM141.7 57.8h0.9v0.9h-0.9zM137.2 60.3h0.9v0.9h-0.9zM142.4 61.3h0.9v0.9h-0.9zM137.2 57.8h0.9v0.9h-0.9zM147.6 52.2h0.9v0.9h-0.9zM139.3 58.1h0.9v0.9h-0.9zM144.3 60.8h0.9v0.9h-0.9zM139.8 56.7h0.9v0.9h-0.9zM143.3 58.3h0.9v0.9h-0.9zM138.7 58.8h0.9v0.9h-0.9zM141.4 58.2h0.9v0.9h-0.9zM139.9 61.6h0.9v0.9h-0.9zM136.5 56.9h0.9v0.9h-0.9zM139.2 61.1h0.9v0.9h-0.9zM141.0 55.8h0.9v0.9h-0.9zM135.4 56.3h0.9v0.9h-0.9zM137.2 62.0h0.9v0.9h-0.9zM141.2 58.3h0.9v0.9h-0.9zM135.2 52.1h0.9v0.9h-0.9zM139.4 60.7h0.9v0.9h-0.9zM140.3 56.9h0.9v0.9h-0.9zM141.0 49.1h0.9v0.9h-0.9zM143.0 64.8h0.9v0.9h-0.9zM139.6 59.1h0.9v0.9h-0.9zM138.3 62.0h0.9v0.9h-0.9zM135.8 55.4h0.9v0.9h-0.9zM140.4 51.6h0.9v0.9h-0.9zM140.7 60.1h0.9v0.9h-0.9zM139.0 55.8h0.9v0.9h-0.9zM145.1 55.6h0.9v0.9h-0.9zM139.5 61.6h0.9v0.9h-0.9zM139.0 62.7h0.9v0.9h-0.9zM139.0 59.2h0.9v0.9h-0.9z" fill="#1c1c84" fill-opacity="0.9"/>
<path d="M123.9 58.9h0.8v0.8h-0.8zM117.5 60.3h0.8v0.8h-0.8zM134.3 48.7h0.8v0.8h-0.8zM109.0 47.0h0.8v0.8h-0.8zM116.0 59.1h0.8v0.8h-0.8zM124.7 66.3h0.8v0.8h-0.8zM139.8 45.8h0.8v0.8h-0.8zM120.1 53.2h0.8v0.8h-0.8zM140.1 59.7h0.8v0.8h-0.8zM133.3 50.1h0.8v0.8h-0.8zM144.3 48.4h0.8v0.8h-0.8zM124.3 49.2h0.8v0.8h-0.8zM115.0 56.5h0.8v0.8h-0.8zM115.0 59.1h0.8v0.8h-0.8zM129.2 55.3h0.8v0.8h-0.8zM130.4 61.8h0.8v0.8h-0.8zM134.9 48.2h0.8v0.8h-0.8zM130.5 60.4h0.8v0.8h-0.8zM120.2 52.7h0.8v0.8h-0.8zM136.1 59.0h0.8v0.8h-0.8zM125.3 63.6h0.8v0.8h-0.8zM133.3 65.4h0.8v0.8h-0.8zM120.1 60.9h0.8v0.8h-0.8zM104.2 51.1h0.8v0.8h-0.8zM140.7 49.2h0.8v0.8h-0.8zM122.5 52.9h0.8v0.8h-0.8zM128.8 61.8h0.8v0.8h-0.8zM140.0 54.1h0.8v0.8h-0.8zM127.4 60.3h0.8v0.8h-0.8zM135.6 53.3h0.8v0.8h-0.8zM137.6 46.4h0.8v0.8h-0.8zM126.8 46.7h0.8v0.8h-0.8zM119.4 50.3h0.8v0.8h-0.8zM141.7 65.0h0.8v0.8h-0.8zM131.8 56.0h0.8v0.8h-0.8zM104.5 44.8h0.8v0.8h-0.8zM125.9 59.4h0.8v0.8h-0.8zM129.1 50.6h0.8v0.8h-0.8zM116.3 58.2h0.8v0.8h-0.8zM146.7 59.4h0.8v0.8h-0.8zM123.6 54.3h0.8v0.8h-0.8zM128.4 56.9h0.8v0.8h-0.8zM109.7 64.3h0.8v0.8h-0.8zM128.6 58.3h0.8v0.8h-0.8zM119.5 61.6h0.8v0.8h-0.8zM134.1 50.6h0.8v0.8h-0.8zM134.3 50.7h0.8v0.8h-0.8zM105.6 60.0h0.8v0.8h-0.8zM114.1 51.7h0.8v0.8h-0.8zM114.7 54.6h0.8v0.8h-0.8zM120.4 56.0h0.8v0.8h-0.8zM128.7 64.8h0.8v0.8h-0.8zM128.6 58.1h0.8v0.8h-0.8zM128.9 59.9h0.8v0.8h-0.8zM133.0 56.7h0.8v0.8h-0.8zM112.4 49.3h0.8v0.8h-0.8zM126.9 53.1h0.8v0.8h-0.8zM119.9 51.9h0.8v0.8h-0.8zM116.8 61.6h0.8v0.8h-0.8zM131.8 47.4h0.8v0.8h-0.8zM125.9 54.9h0.8v0.8h-0.8zM119.4 61.3h0.8v0.8h-0.8zM127.2 55.4h0.8v0.8h-0.8zM115.4 60.7h0.8v0.8h-0.8zM126.5 56.7h0.8v0.8h-0.8zM117.1 64.0h0.8v0.8h-0.8zM107.4 47.3h0.8v0.8h-0.8zM113.7 52.0h0.8v0.8h-0.8zM120.7 56.2h0.8v0.8h-0.8zM137.5 58.4h0.8v0.8h-0.8zM125.2 54.1h0.8v0.8h-0.8zM127.8 59.8h0.8v0.8h-0.8zM116.7 65.5h0.8v0.8h-0.8zM123.9 60.1h0.8v0.8h-0.8zM120.1 63.2h0.8v0.8h-0.8zM134.1 56.9h0.8v0.8h-0.8zM130.3 53.1h0.8v0.8h-0.8zM115.0 61.9h0.8v0.8h-0.8zM112.0 51.9h0.8v0.8h-0.8zM112.4 49.3h0.8v0.8h-0.8zM119.9 60.0h0.8v0.8h-0.8zM114.3 59.4h0.8v0.8h-0.8zM105.4 50.0h0.8v0.8h-0.8zM115.3 59.0h0.8v0.8h-0.8zM137.2 41.1h0.8v0.8h-0.8zM124.7 64.7h0.8v0.8h-0.8zM124.2 64.9h0.8v0.8h-0.8zM135.5 56.7h0.8v0.8h-0.8zM110.0 51.0h0.8v0.8h-0.8zM139.4 49.7h0.8v0.8h-0.8zM113.2 52.3h0.8v0.8h-0.8zM136.6 55.6h0.8v0.8h-0.8zM108.8 51.2h0.8v0.8h-0.8zM130.8 61.9h0.8v0.8h-0.8zM139.3 58.1h0.8v0.8h-0.8zM128.7 49.2h0.8v0.8h-0.8zM118.4 46.8h0.8v0.8h-0.8zM122.6 57.4h0.8v0.8h-0.8zM124.5 49.4h0.8v0.8h-0.8zM129.7 60.5h0.8v0.8h-0.8zM136.4 42.1h0.8v0.8h-0.8zM129.4 61.2h0.8v0.8h-0.8zM131.3 55.2h0.8v0.8h-0.8zM126.5 53.5h0.8v0.8h-0.8zM117.3 49.1h0.8v0.8h-0.8zM155.7 53.5h0.8v0.8h-0.8zM129.6 58.3h0.8v0.8h-0.8zM132.9 54.7h0.8v0.8h-0.8zM133.3 67.0h0.8v0.8h-0.8zM117.6 51.5h0.8v0.8h-0.8zM114.1 52.9h0.8v0.8h-0.8zM111.8 57.0h0.8v0.8h-0.8zM130.7 62.3h0.8v0.8h-0.8zM136.9 52.8h0.8v0.8h-0.8zM125.9 50.2h0.8v0.8h-0.8zM124.6 55.6h0.8v0.8h-0.8zM129.0 54.6h0.8v0.8h-0.8zM113.4 61.0h0.8v0.8h-0.8zM122.7 46.7h0.8v0.8h-0.8zM106.9 59.1h0.8v0.8h-0.8zM106.2 59.0h0.8v0.8h-0.8zM139.1 58.2h0.8v0.8h-0.8zM132.1 58.4h0.8v0.8h-0.8zM118.1 56.3h0.8v0.8h-0.8zM105.4 58.7h0.8v0.8h-0.8zM130.4 55.9h0.8v0.8h-0.8zM134.8 54.0h0.8v0.8h-0.8zM107.0 63.5h0.8v0.8h-0.8zM125.0 51.3h0.8v0.8h-0.8zM118.8 52.8h0.8v0.8h-0.8zM126.1 47.4h0.8v0.8h-0.8zM125.1 52.9h0.8v0.8h-0.8zM130.5 53.1h0.8v0.8h-0.8zM130.3 49.8h0.8v0.8h-0.8zM127.5 53.2h0.8v0.8h-0.8zM134.6 57.2h0.8v0.8h-0.8zM134.1 52.2h0.8v0.8h-0.8zM118.0 54.8h0.8v0.8h-0.8zM113.8 53.4h0.8v0.8h-0.8zM136.5 48.6h0.8v0.8h-0.8zM118.4 55.5h0.8v0.8h-0.8zM140.2 67.7h0.8v0.8h-0.8zM118.5 52.2h0.8v0.8h-0.8zM126.6 51.1h0.8v0.8h-0.8zM104.4 58.5h0.8v0.8h-0.8zM127.7 56.7h0.8v0.8h-0.8zM129.4 56.1h0.8v0.8h-0.8zM117.8 58.7h0.8v0.8h-0.8zM123.7 56.0h0.8v0.8h-0.8zM113.2 55.5h0.8v0.8h-0.8zM123.5 49.9h0.8v0.8h-0.8zM116.4 52.5h0.8v0.8h-0.8zM124.1 51.3h0.8v0.8h-0.8zM113.2 55.4h0.8v0.8h-0.8zM112.0 56.9h0.8v0.8h-0.8zM115.5 53.8h0.8v0.8h-0.8zM135.0 41.8h0.8v0.8h-0.8zM110.8 51.9h0.8v0.8h-0.8zM122.6 49.8h0.8v0.8h-0.8zM114.7 51.3h0.8v0.8h-0.8zM114.0 55.6h0.8v0.8h-0.8zM117.2 54.0h0.8v0.8h-0.8zM124.4 59.0h0.8v0.8h-0.8zM117.8 52.5h0.8v0.8h-0.8zM128.2 42.2h0.8v0.8h-0.8zM124.5 49.7h0.8v0.8h-0.8zM132.6 53.1h0.8v0.8h-0.8zM115.3 61.2h0.8v0.8h-0.8zM118.5 49.8h0.8v0.8h-0.8zM128.5 43.6h0.8v0.8h-0.8zM122.3 59.2h0.8v0.8h-0.8zM111.6 60.6h0.8v0.8h-0.8zM121.0 51.7h0.8v0.8h-0.8zM107.5 63.3h0.8v0.8h-0.8zM137.2 53.0h0.8v0.8h-0.8zM127.6 43.7h0.8v0.8h-0.8zM124.6 57.2h0.8v0.8h-0.8zM116.5 51.2h0.8v0.8h-0.8zM122.0 50.1h0.8v0.8h-0.8zM107.4 59.4h0.8v0.8h-0.8zM132.5 58.4h0.8v0.8h-0.8zM131.1 61.1h0.8v0.8h-0.8zM120.8 37.4h0.8v0.8h-0.8zM124.1 51.7h0.8v0.8h-0.8zM112.5 57.9h0.8v0.8h-0.8zM113.9 47.9h0.8v0.8h-0.8zM147.5 52.6h0.8v0.8h-0.8zM125.5 58.4h0.8v0.8h-0.8zM129.8 54.3h0.8v0.8h-0.8zM129.0 54.4h0.8v0.8h-0.8zM119.5 53.4h0.8v0.8h-0.8zM130.0 59.0h0.8v0.8h-0.8zM128.2 46.0h0.8v0.8h-0.8zM121.8 58.0h0.8v0.8h-0.8zM120.1 57.9h0.8v0.8h-0.8zM125.1 62.0h0.8v0.8h-0.8zM134.4 59.0h0.8v0.8h-0.8zM118.9 53.7h0.8v0.8h-0.8zM120.5 57.5h0.8v0.8h-0.8zM131.3 51.6h0.8v0.8h-0.8zM134.4 57.7h0.8v0.8h-0.8zM122.7 51.0h0.8v0.8h-0.8zM124.8 54.7h0.8v0.8h-0.8zM123.0 53.3h0.8v0.8h-0.8zM126.7 51.5h0.8v0.8h-0.8zM129.4 44.5h0.8v0.8h-0.8zM124.7 52.1h0.8v0.8h-0.8zM120.2 56.7h0.8v0.8h-0.8zM117.7 36.2h0.8v0.8h-0.8zM109.6 53.8h0.8v0.8h-0.8zM121.2 52.1h0.8v0.8h-0.8zM117.6 59.0h0.8v0.8h-0.8zM124.0 48.8h0.8v0.8h-0.8zM115.5 60.6h0.8v0.8h-0.8zM125.0 57.1h0.8v0.8h-0.8zM124.2 56.2h0.8v0.8h-0.8zM118.6 49.2h0.8v0.8h-0.8zM114.4 49.8h0.8v0.8h-0.8zM141.3 58.7h0.8v0.8h-0.8zM124.5 54.3h0.8v0.8h-0.8zM108.1 59.5h0.8v0.8h-0.8zM106.9 61.0h0.8v0.8h-0.8zM119.0 46.7h0.8v0.8h-0.8zM138.4 49.2h0.8v0.8h-0.8zM121.3 54.0h0.8v0.8h-0.8zM109.3 57.6h0.8v0.8h-0.8zM110.9 53.8h0.8v0.8h-0.8zM112.8 64.3h0.8v0.8h-0.8zM124.4 63.6h0.8v0.8h-0.8zM118.8 56.3h0.8v0.8h-0.8zM129.2 55.4h0.8v0.8h-0.8zM121.3 61.6h0.8v0.8h-0.8zM127.7 55.4h0.8v0.8h-0.8zM132.1 38.9h0.8v0.8h-0.8zM113.8 57.8h0.8v0.8h-0.8zM120.4 53.4h0.8v0.8h-0.8zM109.5 52.8h0.8v0.8h-0.8zM137.5 52.0h0.8v0.8h-0.8zM114.1 53.3h0.8v0.8h-0.8zM134.4 51.2h0.8v0.8h-0.8zM107.9 56.4h0.8v0.8h-0.8zM120.5 55.9h0.8v0.8h-0.8zM107.2 48.4h0.8v0.8h-0.8zM120.9 57.0h0.8v0.8h-0.8zM141.1 63.0h0.8v0.8h-0.8zM135.2 60.6h0.8v0.8h-0.8zM134.2 58.8h0.8v0.8h-0.8zM130.2 52.7h0.8v0.8h-0.8zM119.2 62.7h0.8v0.8h-0.8zM112.5 51.6h0.8v0.8h-0.8zM121.8 56.1h0.8v0.8h-0.8zM117.3 52.3h0.8v0.8h-0.8zM116.2 50.6h0.8v0.8h-0.8zM112.4 69.4h0.8v0.8h-0.8zM111.8 56.0h0.8v0.8h-0.8zM123.3 58.7h0.8v0.8h-0.8zM121.0 48.6h0.8v0.8h-0.8zM118.5 53.1h0.8v0.8h-0.8zM109.4 54.4h0.8v0.8h-0.8zM124.9 46.1h0.8v0.8h-0.8zM111.0 59.7h0.8v0.8h-0.8zM114.7 51.1h0.8v0.8h-0.8zM118.2 51.3h0.8v0.8h-0.8zM129.2 56.3h0.8v0.8h-0.8zM144.8 52.8h0.8v0.8h-0.8zM127.6 50.9h0.8v0.8h-0.8zM133.4 46.0h0.8v0.8h-0.8zM115.8 53.7h0.8v0.8h-0.8zM151.4 68.0h0.8v0.8h-0.8zM143.5 54.9h0.8v0.8h-0.8zM108.8 58.2h0.8v0.8h-0.8zM134.6 51.0h0.8v0.8h-0.8zM143.3 66.6h0.8v0.8h-0.8zM107.3 52.6h0.8v0.8h-0.8zM121.4 53.5h0.8v0.8h-0.8zM122.5 55.2h0.8v0.8h-0.8zM121.5 70.2h0.8v0.8h-0.8zM119.4 47.8h0.8v0.8h-0.8zM135.6 60.9h0.8v0.8h-0.8zM112.8 49.7h0.8v0.8h-0.8zM115.3 42.3h0.8v0.8h-0.8zM111.0 57.7h0.8v0.8h-0.8zM110.9 53.5h0.8v0.8h-0.8zM121.2 51.5h0.8v0.8h-0.8zM128.7 56.0h0.8v0.8h-0.8zM136.3 57.0h0.8v0.8h-0.8zM118.1 64.9h0.8v0.8h-0.8zM127.0 57.9h0.8v0.8h-0.8zM126.9 53.1h0.8v0.8h-0.8zM114.8 62.3h0.8v0.8h-0.8zM116.7 53.2h0.8v0.8h-0.8zM132.7 60.9h0.8v0.8h-0.8zM124.2 66.8h0.8v0.8h-0.8zM121.8 68.9h0.8v0.8h-0.8z" fill="#1c1c84" fill-opacity="0.85"/>
<path d="M141.6 63.6h0.9v0.9h-0.9zM125.7 65.3h0.9v0.9h-0.9zM111.2 64.6h0.9v0.9h-0.9zM134.8 66.1h0.9v0.9h-0.9zM141.9 63.8h0.9v0.9h-0.9zM132.7 61.6h0.9v0.9h-0.9zM133.5 61.9h0.9v0.9h-0.9zM114.5 66.4h0.9v0.9h-0.9zM145.6 63.1h0.9v0.9h-0.9zM131.1 67.6h0.9v0.9h-0.9zM114.6 66.0h0.9v0.9h-0.9zM124.9 64.4h0.9v0.9h-0.9zM127.3 66.1h0.9v0.9h-0.9zM140.0 63.0h0.9v0.9h-0.9zM139.9 65.0h0.9v0.9h-0.9zM142.0 61.4h0.9v0.9h-0.9zM136.7 63.3h0.9v0.9h-0.9zM130.6 60.5h0.9v0.9h-0.9zM149.4 63.2h0.9v0.9h-0.9zM132.6 60.7h0.9v0.9h-0.9zM126.0 63.6h0.9v0.9h-0.9zM129.3 61.3h0.9v0.9h-0.9zM131.5 62.6h0.9v0.9h-0.9zM137.0 61.3h0.9v0.9h-0.9zM139.7 61.5h0.9v0.9h-0.9zM116.9 64.1h0.9v0.9h-0.9zM134.1 64.1h0.9v0.9h-0.9zM122.4 62.8h0.9v0.9h-0.9zM119.0 65.3h0.9v0.9h-0.9zM110.5 61.2h0.9v0.9h-0.9zM116.4 64.2h0.9v0.9h-0.9zM113.2 64.7h0.9v0.9h-0.9zM111.0 60.2h0.9v0.9h-0.9zM131.3 64.0h0.9v0.9h-0.9zM124.3 65.7h0.9v0.9h-0.9zM123.7 62.4h0.9v0.9h-0.9zM126.2 65.7h0.9v0.9h-0.9zM126.3 66.7h0.9v0.9h-0.9zM141.7 65.3h0.9v0.9h-0.9zM137.1 65.6h0.9v0.9h-0.9zM132.8 59.1h0.9v0.9h-0.9zM129.8 63.1h0.9v0.9h-0.9zM116.4 59.9h0.9v0.9h-0.9zM129.4 61.3h0.9v0.9h-0.9zM128.0 61.8h0.9v0.9h-0.9zM131.3 61.6h0.9v0.9h-0.9zM130.3 63.2h0.9v0.9h-0.9zM123.4 62.8h0.9v0.9h-0.9zM130.7 58.5h0.9v0.9h-0.9zM108.8 63.5h0.9v0.9h-0.9zM128.3 63.7h0.9v0.9h-0.9zM131.4 61.6h0.9v0.9h-0.9zM140.9 64.7h0.9v0.9h-0.9zM131.4 62.9h0.9v0.9h-0.9zM120.9 62.2h0.9v0.9h-0.9zM131.8 63.5h0.9v0.9h-0.9zM136.2 63.7h0.9v0.9h-0.9zM123.6 65.4h0.9v0.9h-0.9zM113.9 60.9h0.9v0.9h-0.9zM131.8 62.4h0.9v0.9h-0.9zM113.8 60.7h0.9v0.9h-0.9zM128.0 65.7h0.9v0.9h-0.9zM142.1 63.1h0.9v0.9h-0.9zM125.4 61.8h0.9v0.9h-0.9zM146.8 63.1h0.9v0.9h-0.9zM124.3 64.7h0.9v0.9h-0.9zM139.5 63.4h0.9v0.9h-0.9zM140.3 61.0h0.9v0.9h-0.9zM132.5 64.4h0.9v0.9h-0.9zM132.1 64.5h0.9v0.9h-0.9zM129.8 64.3h0.9v0.9h-0.9zM107.1 62.0h0.9v0.9h-0.9zM136.5 61.3h0.9v0.9h-0.9zM119.2 66.9h0.9v0.9h-0.9zM128.7 63.8h0.9v0.9h-0.9zM131.7 66.4h0.9v0.9h-0.9zM125.4 61.8h0.9v0.9h-0.9zM130.7 65.8h0.9v0.9h-0.9zM110.3 63.1h0.9v0.9h-0.9zM124.1 63.6h0.9v0.9h-0.9zM134.5 63.9h0.9v0.9h-0.9zM112.3 62.9h0.9v0.9h-0.9zM126.7 63.2h0.9v0.9h-0.9zM138.6 62.7h0.9v0.9h-0.9zM121.7 63.0h0.9v0.9h-0.9zM128.3 64.5h0.9v0.9h-0.9zM110.8 60.9h0.9v0.9h-0.9zM127.2 65.0h0.9v0.9h-0.9zM127.4 63.7h0.9v0.9h-0.9zM145.4 63.5h0.9v0.9h-0.9zM130.9 63.2h0.9v0.9h-0.9zM137.7 64.2h0.9v0.9h-0.9zM125.5 64.6h0.9v0.9h-0.9zM132.5 62.4h0.9v0.9h-0.9zM135.4 67.0h0.9v0.9h-0.9zM117.1 61.4h0.9v0.9h-0.9zM126.9 62.9h0.9v0.9h-0.9zM130.4 63.2h0.9v0.9h-0.9zM129.6 65.3h0.9v0.9h-0.9zM140.8 59.6h0.9v0.9h-0.9zM133.4 63.4h0.9v0.9h-0.9zM133.4 63.4h0.9v0.9h-0.9zM131.6 62.9h0.9v0.9h-0.9zM121.6 63.0h0.9v0.9h-0.9zM136.1 63.4h0.9v0.9h-0.9zM127.3 65.5h0.9v0.9h-0.9zM136.6 61.7h0.9v0.9h-0.9zM120.1 63.0h0.9v0.9h-0.9zM132.9 65.2h0.9v0.9h-0.9zM111.1 65.7h0.9v0.9h-0.9zM128.6 63.7h0.9v0.9h-0.9zM136.3 63.8h0.9v0.9h-0.9zM130.0 65.1h0.9v0.9h-0.9zM139.8 61.3h0.9v0.9h-0.9zM112.3 61.4h0.9v0.9h-0.9zM130.7 62.8h0.9v0.9h-0.9zM126.0 62.4h0.9v0.9h-0.9zM119.6 64.3h0.9v0.9h-0.9zM127.6 63.8h0.9v0.9h-0.9zM133.4 65.9h0.9v0.9h-0.9zM149.1 62.3h0.9v0.9h-0.9zM140.9 63.6h0.9v0.9h-0.9zM132.4 65.3h0.9v0.9h-0.9zM122.2 63.1h0.9v0.9h-0.9zM137.7 64.4h0.9v0.9h-0.9zM146.1 64.4h0.9v0.9h-0.9zM129.3 63.1h0.9v0.9h-0.9zM134.0 60.0h0.9v0.9h-0.9zM140.9 63.9h0.9v0.9h-0.9zM121.9 63.5h0.9v0.9h-0.9zM133.4 61.2h0.9v0.9h-0.9zM136.9 59.4h0.9v0.9h-0.9zM142.5 62.8h0.9v0.9h-0.9zM130.5 62.8h0.9v0.9h-0.9zM122.0 65.0h0.9v0.9h-0.9zM118.5 63.2h0.9v0.9h-0.9zM133.4 61.1h0.9v0.9h-0.9zM134.2 61.7h0.9v0.9h-0.9zM136.8 62.7h0.9v0.9h-0.9zM140.9 63.2h0.9v0.9h-0.9zM118.0 65.0h0.9v0.9h-0.9zM140.0 65.0h0.9v0.9h-0.9zM113.4 61.4h0.9v0.9h-0.9zM137.3 64.2h0.9v0.9h-0.9zM125.0 63.0h0.9v0.9h-0.9zM129.7 59.4h0.9v0.9h-0.9zM116.0 61.1h0.9v0.9h-0.9zM138.3 62.6h0.9v0.9h-0.9zM107.1 63.0h0.9v0.9h-0.9zM124.4 62.0h0.9v0.9h-0.9zM113.5 61.7h0.9v0.9h-0.9zM130.9 62.5h0.9v0.9h-0.9zM135.6 65.7h0.9v0.9h-0.9zM124.6 60.5h0.9v0.9h-0.9zM118.2 63.4h0.9v0.9h-0.9zM135.4 63.0h0.9v0.9h-0.9zM127.5 63.7h0.9v0.9h-0.9zM140.1 64.6h0.9v0.9h-0.9zM124.3 62.2h0.9v0.9h-0.9zM127.6 62.2h0.9v0.9h-0.9zM118.1 65.1h0.9v0.9h-0.9zM129.9 61.4h0.9v0.9h-0.9zM132.1 61.4h0.9v0.9h-0.9zM118.2 60.4h0.9v0.9h-0.9zM116.1 62.4h0.9v0.9h-0.9zM130.4 63.1h0.9v0.9h-0.9zM130.7 63.4h0.9v0.9h-0.9zM123.4 65.4h0.9v0.9h-0.9zM116.8 61.5h0.9v0.9h-0.9zM148.2 63.7h0.9v0.9h-0.9zM130.0 68.0h0.9v0.9h-0.9zM117.1 66.2h0.9v0.9h-0.9zM127.5 62.9h0.9v0.9h-0.9zM118.0 63.2h0.9v0.9h-0.9zM135.3 63.2h0.9v0.9h-0.9zM123.1 64.0h0.9v0.9h-0.9zM140.4 63.4h0.9v0.9h-0.9zM123.7 62.6h0.9v0.9h-0.9zM131.7 62.2h0.9v0.9h-0.9zM141.8 62.3h0.9v0.9h-0.9zM138.6 63.0h0.9v0.9h-0.9zM135.2 61.2h0.9v0.9h-0.9zM125.8 61.5h0.9v0.9h-0.9zM120.1 63.2h0.9v0.9h-0.9zM116.2 66.8h0.9v0.9h-0.9zM144.7 64.9h0.9v0.9h-0.9zM128.0 62.2h0.9v0.9h-0.9zM110.8 64.7h0.9v0.9h-0.9zM116.1 63.2h0.9v0.9h-0.9zM121.9 63.3h0.9v0.9h-0.9zM144.6 63.1h0.9v0.9h-0.9zM126.0 64.9h0.9v0.9h-0.9zM122.7 59.8h0.9v0.9h-0.9zM120.2 62.8h0.9v0.9h-0.9zM120.1 65.1h0.9v0.9h-0.9zM139.8 61.5h0.9v0.9h-0.9zM128.3 63.7h0.9v0.9h-0.9zM123.7 62.1h0.9v0.9h-0.9zM132.2 62.6h0.9v0.9h-0.9zM146.0 63.2h0.9v0.9h-0.9zM128.0 63.6h0.9v0.9h-0.9zM130.1 62.5h0.9v0.9h-0.9zM133.7 64.7h0.9v0.9h-0.9zM130.1 64.0h0.9v0.9h-0.9zM114.1 62.5h0.9v0.9h-0.9zM128.8 62.7h0.9v0.9h-0.9zM138.7 63.9h0.9v0.9h-0.9zM127.6 62.1h0.9v0.9h-0.9zM124.0 62.8h0.9v0.9h-0.9zM144.4 61.1h0.9v0.9h-0.9zM137.1 62.6h0.9v0.9h-0.9zM144.0 64.9h0.9v0.9h-0.9zM119.3 63.9h0.9v0.9h-0.9zM113.9 64.5h0.9v0.9h-0.9zM126.5 61.4h0.9v0.9h-0.9zM127.4 64.3h0.9v0.9h-0.9zM152.2 64.8h0.9v0.9h-0.9zM131.7 63.2h0.9v0.9h-0.9zM105.6 60.6h0.9v0.9h-0.9zM104.4 61.1h0.9v0.9h-0.9zM137.7 65.6h0.9v0.9h-0.9zM130.7 62.6h0.9v0.9h-0.9zM134.9 67.5h0.9v0.9h-0.9zM129.5 65.8h0.9v0.9h-0.9zM141.4 61.8h0.9v0.9h-0.9zM129.2 61.8h0.9v0.9h-0.9zM131.2 62.5h0.9v0.9h-0.9zM118.6 64.5h0.9v0.9h-0.9zM127.2 62.8h0.9v0.9h-0.9zM136.5 64.1h0.9v0.9h-0.9zM140.3 66.6h0.9v0.9h-0.9zM115.5 64.1h0.9v0.9h-0.9zM110.3 64.9h0.9v0.9h-0.9zM147.2 61.6h0.9v0.9h-0.9zM140.0 64.5h0.9v0.9h-0.9zM131.8 59.3h0.9v0.9h-0.9zM117.4 62.6h0.9v0.9h-0.9zM128.6 63.5h0.9v0.9h-0.9zM136.0 63.5h0.9v0.9h-0.9zM126.1 61.5h0.9v0.9h-0.9zM120.3 62.9h0.9v0.9h-0.9zM150.2 62.6h0.9v0.9h-0.9zM127.1 65.1h0.9v0.9h-0.9zM135.9 64.4h0.9v0.9h-0.9zM128.9 66.2h0.9v0.9h-0.9zM122.2 65.8h0.9v0.9h-0.9zM143.4 63.8h0.9v0.9h-0.9zM122.6 62.2h0.9v0.9h-0.9zM130.6 59.7h0.9v0.9h-0.9zM140.8 61.8h0.9v0.9h-0.9zM115.7 64.2h0.9v0.9h-0.9zM128.7 61.7h0.9v0.9h-0.9zM141.1 61.2h0.9v0.9h-0.9zM122.2 60.4h0.9v0.9h-0.9zM145.4 64.3h0.9v0.9h-0.9zM113.6 64.2h0.9v0.9h-0.9zM121.9 61.8h0.9v0.9h-0.9zM126.2 59.8h0.9v0.9h-0.9zM129.9 63.3h0.9v0.9h-0.9zM142.9 61.7h0.9v0.9h-0.9zM114.0 61.6h0.9v0.9h-0.9zM122.1 64.8h0.9v0.9h-0.9zM150.2 64.3h0.9v0.9h-0.9zM132.2 61.3h0.9v0.9h-0.9zM113.8 61.1h0.9v0.9h-0.9zM134.5 65.3h0.9v0.9h-0.9zM125.8 61.0h0.9v0.9h-0.9zM135.6 63.1h0.9v0.9h-0.9zM120.5 60.5h0.9v0.9h-0.9zM109.6 66.0h0.9v0.9h-0.9zM123.2 63.8h0.9v0.9h-0.9zM132.8 64.9h0.9v0.9h-0.9zM150.1 63.0h0.9v0.9h-0.9zM139.9 61.7h0.9v0.9h-0.9zM113.7 63.2h0.9v0.9h-0.9zM108.4 60.6h0.9v0.9h-0.9zM120.2 64.4h0.9v0.9h-0.9zM125.7 60.1h0.9v0.9h-0.9zM127.6 62.2h0.9v0.9h-0.9zM122.7 62.2h0.9v0.9h-0.9zM126.8 64.7h0.9v0.9h-0.9zM133.0 63.4h0.9v0.9h-0.9zM119.6 60.5h0.9v0.9h-0.9zM147.0 66.0h0.9v0.9h-0.9zM110.9 64.0h0.9v0.9h-0.9zM131.9 63.5h0.9v0.9h-0.9zM129.8 62.6h0.9v0.9h-0.9zM142.2 63.9h0.9v0.9h-0.9zM138.0 63.8h0.9v0.9h-0.9zM130.0 62.5h0.9v0.9h-0.9zM140.1 60.0h0.9v0.9h-0.9zM141.6 62.9h0.9v0.9h-0.9zM130.6 62.3h0.9v0.9h-0.9zM109.8 61.7h0.9v0.9h-0.9zM132.1 62.5h0.9v0.9h-0.9zM132.8 61.7h0.9v0.9h-0.9zM110.2 63.0h0.9v0.9h-0.9zM123.6 61.9h0.9v0.9h-0.9zM142.3 60.0h0.9v0.9h-0.9zM129.1 62.8h0.9v0.9h-0.9zM141.0 63.5h0.9v0.9h-0.9zM131.5 63.7h0.9v0.9h-0.9zM130.2 62.9h0.9v0.9h-0.9zM126.3 64.8h0.9v0.9h-0.9zM150.1 61.5h0.9v0.9h-0.9zM130.4 61.4h0.9v0.9h-0.9zM147.1 66.4h0.9v0.9h-0.9zM130.4 65.8h0.9v0.9h-0.9zM130.1 61.2h0.9v0.9h-0.9zM145.8 60.5h0.9v0.9h-0.9zM117.5 65.4h0.9v0.9h-0.9zM136.8 64.4h0.9v0.9h-0.9zM124.2 62.0h0.9v0.9h-0.9zM116.2 65.5h0.9v0.9h-0.9zM133.5 67.2h0.9v0.9h-0.9zM132.5 64.3h0.9v0.9h-0.9zM122.6 62.4h0.9v0.9h-0.9zM133.0 61.9h0.9v0.9h-0.9zM138.4 65.2h0.9v0.9h-0.9zM115.4 64.4h0.9v0.9h-0.9zM130.5 63.7h0.9v0.9h-0.9zM124.6 65.4h0.9v0.9h-0.9zM130.1 64.5h0.9v0.9h-0.9zM131.8 62.2h0.9v0.9h-0.9zM116.4 66.3h0.9v0.9h-0.9zM145.2 63.3h0.9v0.9h-0.9zM138.8 65.7h0.9v0.9h-0.9zM143.1 65.0h0.9v0.9h-0.9zM126.9 64.5h0.9v0.9h-0.9zM123.0 63.7h0.9v0.9h-0.9zM118.7 60.4h0.9v0.9h-0.9zM119.0 60.5h0.9v0.9h-0.9zM132.2 64.5h0.9v0.9h-0.9zM132.6 61.9h0.9v0.9h-0.9zM127.8 61.0h0.9v0.9h-0.9zM132.2 64.3h0.9v0.9h-0.9zM147.1 61.5h0.9v0.9h-0.9zM126.5 63.1h0.9v0.9h-0.9zM151.4 63.7h0.9v0.9h-0.9zM132.7 60.6h0.9v0.9h-0.9zM126.7 67.2h0.9v0.9h-0.9zM141.7 64.5h0.9v0.9h-0.9zM124.4 61.7h0.9v0.9h-0.9zM130.5 62.2h0.9v0.9h-0.9zM150.6 62.3h0.9v0.9h-0.9zM123.3 64.7h0.9v0.9h-0.9zM130.6 61.7h0.9v0.9h-0.9zM115.0 61.8h0.9v0.9h-0.9zM143.8 62.3h0.9v0.9h-0.9zM126.5 65.0h0.9v0.9h-0.9zM144.1 64.8h0.9v0.9h-0.9zM132.0 62.2h0.9v0.9h-0.9zM118.9 63.6h0.9v0.9h-0.9zM127.5 63.7h0.9v0.9h-0.9zM107.7 60.8h0.9v0.9h-0.9zM136.0 66.0h0.9v0.9h-0.9zM129.8 61.1h0.9v0.9h-0.9zM134.1 61.8h0.9v0.9h-0.9zM125.3 62.8h0.9v0.9h-0.9zM135.6 65.3h0.9v0.9h-0.9zM134.2 61.6h0.9v0.9h-0.9zM138.7 62.4h0.9v0.9h-0.9zM113.2 65.0h0.9v0.9h-0.9zM146.9 61.4h0.9v0.9h-0.9zM124.3 62.2h0.9v0.9h-0.9zM123.4 65.4h0.9v0.9h-0.9zM136.2 63.6h0.9v0.9h-0.9zM129.8 62.0h0.9v0.9h-0.9zM122.9 62.1h0.9v0.9h-0.9zM134.0 64.5h0.9v0.9h-0.9zM124.5 64.6h0.9v0.9h-0.9zM119.7 67.0h0.9v0.9h-0.9zM117.5 62.3h0.9v0.9h-0.9zM127.3 64.8h0.9v0.9h-0.9zM130.7 61.8h0.9v0.9h-0.9zM133.9 64.7h0.9v0.9h-0.9zM117.0 59.5h0.9v0.9h-0.9zM133.8 61.5h0.9v0.9h-0.9zM138.2 66.6h0.9v0.9h-0.9zM140.8 63.9h0.9v0.9h-0.9zM136.6 63.0h0.9v0.9h-0.9zM119.5 63.1h0.9v0.9h-0.9zM123.9 63.7h0.9v0.9h-0.9zM116.5 61.4h0.9v0.9h-0.9zM129.0 63.5h0.9v0.9h-0.9zM128.5 65.0h0.9v0.9h-0.9zM113.5 64.4h0.9v0.9h-0.9zM125.4 63.2h0.9v0.9h-0.9zM138.8 63.5h0.9v0.9h-0.9zM136.9 66.2h0.9v0.9h-0.9zM127.5 60.1h0.9v0.9h-0.9zM122.9 62.5h0.9v0.9h-0.9zM130.2 61.9h0.9v0.9h-0.9zM129.4 63.7h0.9v0.9h-0.9zM108.8 66.1h0.9v0.9h-0.9zM122.1 60.9h0.9v0.9h-0.9zM120.2 64.6h0.9v0.9h-0.9zM121.3 65.4h0.9v0.9h-0.9zM121.3 63.4h0.9v0.9h-0.9zM123.7 63.2h0.9v0.9h-0.9zM130.9 61.5h0.9v0.9h-0.9zM118.2 60.7h0.9v0.9h-0.9zM130.2 67.7h0.9v0.9h-0.9zM139.5 63.1h0.9v0.9h-0.9zM140.8 64.4h0.9v0.9h-0.9zM125.0 62.2h0.9v0.9h-0.9zM129.4 61.9h0.9v0.9h-0.9zM127.7 64.1h0.9v0.9h-0.9zM115.7 61.2h0.9v0.9h-0.9zM125.1 61.9h0.9v0.9h-0.9zM127.0 63.9h0.9v0.9h-0.9zM131.5 64.5h0.9v0.9h-0.9zM128.8 63.8h0.9v0.9h-0.9zM126.9 63.5h0.9v0.9h-0.9zM127.3 63.3h0.9v0.9h-0.9zM124.7 63.8h0.9v0.9h-0.9zM136.1 65.7h0.9v0.9h-0.9zM143.6 64.7h0.9v0.9h-0.9zM121.9 61.0h0.9v0.9h-0.9z" fill="#1c1c84" fill-opacity="0.9"/>
<line x1="137.5" y1="13.5" x2="137.5" y2="72.2" stroke="#707070" stroke-width="0.8"/>
<line x1="102.6" y1="51.2" x2="157.6" y2="51.2" stroke="#707070" stroke-width="0.8"/>
<rect x="102.6" y="13.5" width="55.0" height="58.7" fill="none" stroke="#000" stroke-width="1.3"/>
<text x="129.50" y="5.00" font-size="5.3" font-weight="bold" text-anchor="middle" fill="#111" style="stroke-width:0.1px">CD8 Memory subsets</text>
<text x="129.50" y="11.40" font-size="5.3" font-weight="bold" text-anchor="middle" fill="#111" style="stroke-width:0.1px">Unsorted</text>
<text x="103.30" y="19.60" font-size="5.2" font-weight="bold" text-anchor="start" fill="#111" style="stroke-width:0.12px">5.77</text>
<text x="156.80" y="19.60" font-size="5.2" font-weight="bold" text-anchor="end" fill="#111" style="stroke-width:0.12px">68.2</text>
<text x="103.60" y="71.20" font-size="5.2" font-weight="bold" text-anchor="start" fill="#111" style="stroke-width:0.12px">18.7</text>
<text x="156.80" y="71.20" font-size="5.2" font-weight="bold" text-anchor="end" fill="#111" style="stroke-width:0.12px">7.3</text>
<text x="98.60" y="42.50" font-size="4.0" font-weight="bold" text-anchor="middle" fill="#111" transform="rotate(-90 98.60 42.50)" style="stroke-width:0px">CCR7</text>
<text x="129.60" y="78.10" font-size="3.8" font-weight="bold" text-anchor="middle" fill="#111" style="stroke-width:0px">CD45RA</text>
<path d="M214.7 44.2h1.0v1.0h-1.0zM212.4 45.9h1.0v1.0h-1.0zM212.9 42.7h1.0v1.0h-1.0zM211.4 44.0h1.0v1.0h-1.0zM210.6 43.8h1.0v1.0h-1.0zM211.3 45.0h1.0v1.0h-1.0zM210.8 46.5h1.0v1.0h-1.0zM211.2 38.9h1.0v1.0h-1.0zM213.3 44.8h1.0v1.0h-1.0zM211.0 46.2h1.0v1.0h-1.0zM212.2 45.7h1.0v1.0h-1.0zM210.9 46.0h1.0v1.0h-1.0zM210.1 48.6h1.0v1.0h-1.0zM210.4 45.2h1.0v1.0h-1.0zM211.9 46.1h1.0v1.0h-1.0zM211.6 46.6h1.0v1.0h-1.0zM207.5 45.1h1.0v1.0h-1.0zM211.6 44.4h1.0v1.0h-1.0zM213.6 43.3h1.0v1.0h-1.0zM211.6 41.0h1.0v1.0h-1.0zM212.1 41.9h1.0v1.0h-1.0zM209.9 50.3h1.0v1.0h-1.0zM212.6 45.3h1.0v1.0h-1.0zM211.9 42.3h1.0v1.0h-1.0zM210.5 46.2h1.0v1.0h-1.0zM209.2 45.9h1.0v1.0h-1.0zM209.6 45.6h1.0v1.0h-1.0zM210.4 49.1h1.0v1.0h-1.0zM213.0 44.2h1.0v1.0h-1.0zM209.4 43.7h1.0v1.0h-1.0zM211.7 43.2h1.0v1.0h-1.0zM212.1 47.4h1.0v1.0h-1.0zM211.7 44.4h1.0v1.0h-1.0zM212.7 44.7h1.0v1.0h-1.0zM212.8 44.6h1.0v1.0h-1.0zM213.7 44.7h1.0v1.0h-1.0zM210.5 45.5h1.0v1.0h-1.0zM211.0 43.3h1.0v1.0h-1.0zM211.6 46.9h1.0v1.0h-1.0zM209.1 45.2h1.0v1.0h-1.0zM211.6 45.0h1.0v1.0h-1.0zM212.7 42.5h1.0v1.0h-1.0zM212.6 44.8h1.0v1.0h-1.0zM211.9 44.9h1.0v1.0h-1.0zM211.4 44.2h1.0v1.0h-1.0zM212.3 49.8h1.0v1.0h-1.0zM213.0 47.2h1.0v1.0h-1.0zM212.4 44.4h1.0v1.0h-1.0zM212.5 49.8h1.0v1.0h-1.0zM210.2 47.2h1.0v1.0h-1.0zM213.0 46.0h1.0v1.0h-1.0zM212.7 48.4h1.0v1.0h-1.0zM214.5 48.2h1.0v1.0h-1.0zM213.8 46.1h1.0v1.0h-1.0zM212.8 45.8h1.0v1.0h-1.0zM212.2 44.5h1.0v1.0h-1.0zM212.6 48.5h1.0v1.0h-1.0zM211.6 46.0h1.0v1.0h-1.0zM212.6 45.5h1.0v1.0h-1.0zM213.0 46.0h1.0v1.0h-1.0zM210.4 43.3h1.0v1.0h-1.0zM212.7 46.8h1.0v1.0h-1.0zM213.2 46.0h1.0v1.0h-1.0zM212.1 42.2h1.0v1.0h-1.0zM213.5 43.6h1.0v1.0h-1.0zM213.1 43.1h1.0v1.0h-1.0zM211.1 45.9h1.0v1.0h-1.0zM211.3 44.0h1.0v1.0h-1.0zM212.9 47.0h1.0v1.0h-1.0zM212.3 44.8h1.0v1.0h-1.0zM210.9 44.5h1.0v1.0h-1.0zM211.2 45.5h1.0v1.0h-1.0zM212.8 45.2h1.0v1.0h-1.0zM210.9 44.2h1.0v1.0h-1.0zM213.4 45.9h1.0v1.0h-1.0zM212.2 46.2h1.0v1.0h-1.0zM212.6 45.9h1.0v1.0h-1.0zM213.3 47.3h1.0v1.0h-1.0zM208.5 45.3h1.0v1.0h-1.0zM215.4 42.9h1.0v1.0h-1.0zM212.0 47.9h1.0v1.0h-1.0zM211.9 48.4h1.0v1.0h-1.0zM210.4 42.9h1.0v1.0h-1.0zM211.7 44.0h1.0v1.0h-1.0zM210.6 46.8h1.0v1.0h-1.0zM212.2 45.6h1.0v1.0h-1.0zM211.4 46.2h1.0v1.0h-1.0zM211.8 44.1h1.0v1.0h-1.0zM212.5 46.4h1.0v1.0h-1.0zM212.0 47.1h1.0v1.0h-1.0zM210.6 45.3h1.0v1.0h-1.0zM211.3 48.4h1.0v1.0h-1.0zM212.5 50.0h1.0v1.0h-1.0zM213.8 44.8h1.0v1.0h-1.0zM210.6 46.6h1.0v1.0h-1.0zM211.6 45.3h1.0v1.0h-1.0zM210.6 46.9h1.0v1.0h-1.0zM212.1 46.4h1.0v1.0h-1.0zM212.3 43.7h1.0v1.0h-1.0zM209.2 45.0h1.0v1.0h-1.0zM211.1 44.5h1.0v1.0h-1.0zM213.1 45.4h1.0v1.0h-1.0zM213.7 46.0h1.0v1.0h-1.0zM212.7 46.7h1.0v1.0h-1.0zM212.9 43.0h1.0v1.0h-1.0zM213.2 45.8h1.0v1.0h-1.0zM210.7 46.9h1.0v1.0h-1.0zM212.3 48.3h1.0v1.0h-1.0zM212.8 46.4h1.0v1.0h-1.0zM209.9 49.1h1.0v1.0h-1.0zM213.7 47.2h1.0v1.0h-1.0zM212.5 48.2h1.0v1.0h-1.0zM210.9 47.1h1.0v1.0h-1.0zM211.9 43.5h1.0v1.0h-1.0zM212.3 46.3h1.0v1.0h-1.0zM213.9 47.6h1.0v1.0h-1.0zM210.0 41.5h1.0v1.0h-1.0zM211.8 45.2h1.0v1.0h-1.0zM210.8 42.5h1.0v1.0h-1.0zM211.7 43.2h1.0v1.0h-1.0zM211.1 47.4h1.0v1.0h-1.0zM212.2 44.0h1.0v1.0h-1.0zM210.6 45.2h1.0v1.0h-1.0zM214.0 44.5h1.0v1.0h-1.0zM214.0 43.9h1.0v1.0h-1.0zM211.6 47.1h1.0v1.0h-1.0zM211.0 45.7h1.0v1.0h-1.0zM210.3 47.0h1.0v1.0h-1.0zM213.3 44.2h1.0v1.0h-1.0zM212.1 44.7h1.0v1.0h-1.0zM209.3 51.4h1.0v1.0h-1.0zM212.7 47.3h1.0v1.0h-1.0zM212.4 46.0h1.0v1.0h-1.0zM214.7 41.8h1.0v1.0h-1.0zM211.5 44.7h1.0v1.0h-1.0zM211.6 47.1h1.0v1.0h-1.0zM211.0 42.8h1.0v1.0h-1.0zM210.5 46.6h1.0v1.0h-1.0zM213.0 47.3h1.0v1.0h-1.0zM213.8 44.5h1.0v1.0h-1.0zM213.1 47.0h1.0v1.0h-1.0zM211.7 44.0h1.0v1.0h-1.0zM213.0 44.2h1.0v1.0h-1.0zM211.5 43.6h1.0v1.0h-1.0zM214.0 45.5h1.0v1.0h-1.0zM211.3 45.1h1.0v1.0h-1.0zM211.6 45.8h1.0v1.0h-1.0zM209.9 43.2h1.0v1.0h-1.0zM212.5 47.9h1.0v1.0h-1.0zM210.7 45.8h1.0v1.0h-1.0zM211.2 40.8h1.0v1.0h-1.0zM211.5 43.3h1.0v1.0h-1.0zM212.9 45.2h1.0v1.0h-1.0zM211.9 42.5h1.0v1.0h-1.0zM212.1 41.5h1.0v1.0h-1.0zM212.2 48.5h1.0v1.0h-1.0zM210.4 47.4h1.0v1.0h-1.0zM213.6 45.2h1.0v1.0h-1.0zM213.2 45.8h1.0v1.0h-1.0zM211.3 41.4h1.0v1.0h-1.0zM210.6 42.5h1.0v1.0h-1.0zM214.8 46.1h1.0v1.0h-1.0zM211.7 42.8h1.0v1.0h-1.0zM214.0 43.2h1.0v1.0h-1.0zM213.7 47.9h1.0v1.0h-1.0zM212.0 44.2h1.0v1.0h-1.0zM211.8 42.8h1.0v1.0h-1.0zM212.7 49.1h1.0v1.0h-1.0zM213.0 47.8h1.0v1.0h-1.0zM211.1 46.2h1.0v1.0h-1.0zM210.7 44.6h1.0v1.0h-1.0zM212.8 50.9h1.0v1.0h-1.0zM212.0 45.7h1.0v1.0h-1.0zM209.6 46.0h1.0v1.0h-1.0zM210.8 42.6h1.0v1.0h-1.0zM210.1 45.9h1.0v1.0h-1.0zM211.4 47.0h1.0v1.0h-1.0zM211.6 45.6h1.0v1.0h-1.0zM213.7 47.3h1.0v1.0h-1.0zM212.8 48.7h1.0v1.0h-1.0zM212.2 43.5h1.0v1.0h-1.0zM210.9 42.3h1.0v1.0h-1.0zM212.3 44.7h1.0v1.0h-1.0zM212.5 47.4h1.0v1.0h-1.0zM210.9 46.0h1.0v1.0h-1.0zM213.4 45.8h1.0v1.0h-1.0zM213.0 45.2h1.0v1.0h-1.0zM210.8 45.1h1.0v1.0h-1.0zM209.6 47.1h1.0v1.0h-1.0zM211.3 48.4h1.0v1.0h-1.0zM210.4 45.9h1.0v1.0h-1.0zM212.3 45.2h1.0v1.0h-1.0zM212.4 44.0h1.0v1.0h-1.0zM210.6 42.6h1.0v1.0h-1.0zM211.2 43.9h1.0v1.0h-1.0zM212.2 44.8h1.0v1.0h-1.0zM211.1 44.0h1.0v1.0h-1.0zM209.6 44.8h1.0v1.0h-1.0zM212.4 42.8h1.0v1.0h-1.0zM211.6 47.0h1.0v1.0h-1.0zM211.1 46.0h1.0v1.0h-1.0zM211.4 50.8h1.0v1.0h-1.0zM213.6 48.1h1.0v1.0h-1.0zM211.1 47.0h1.0v1.0h-1.0zM211.7 46.4h1.0v1.0h-1.0zM211.2 45.9h1.0v1.0h-1.0zM211.0 46.2h1.0v1.0h-1.0zM214.0 42.7h1.0v1.0h-1.0zM210.3 46.7h1.0v1.0h-1.0zM212.9 44.8h1.0v1.0h-1.0zM212.6 46.5h1.0v1.0h-1.0zM212.6 48.5h1.0v1.0h-1.0zM211.1 47.0h1.0v1.0h-1.0zM212.1 44.1h1.0v1.0h-1.0zM212.5 42.8h1.0v1.0h-1.0zM210.1 47.9h1.0v1.0h-1.0zM210.6 49.2h1.0v1.0h-1.0zM213.2 44.5h1.0v1.0h-1.0zM210.8 40.8h1.0v1.0h-1.0zM211.8 42.1h1.0v1.0h-1.0zM213.8 42.0h1.0v1.0h-1.0zM212.0 39.8h1.0v1.0h-1.0zM211.5 48.4h1.0v1.0h-1.0zM211.4 43.8h1.0v1.0h-1.0zM211.3 46.4h1.0v1.0h-1.0zM213.0 45.1h1.0v1.0h-1.0zM209.4 46.3h1.0v1.0h-1.0zM213.1 50.5h1.0v1.0h-1.0zM212.1 46.0h1.0v1.0h-1.0zM211.2 47.2h1.0v1.0h-1.0zM214.1 43.4h1.0v1.0h-1.0zM212.0 43.4h1.0v1.0h-1.0zM211.0 45.2h1.0v1.0h-1.0zM212.5 43.8h1.0v1.0h-1.0zM211.5 48.5h1.0v1.0h-1.0zM212.5 47.1h1.0v1.0h-1.0zM212.4 45.2h1.0v1.0h-1.0zM212.4 46.7h1.0v1.0h-1.0zM211.9 47.8h1.0v1.0h-1.0zM211.9 47.5h1.0v1.0h-1.0zM211.9 47.2h1.0v1.0h-1.0zM211.1 44.4h1.0v1.0h-1.0zM210.5 48.2h1.0v1.0h-1.0zM212.5 46.0h1.0v1.0h-1.0zM212.7 43.8h1.0v1.0h-1.0zM212.0 44.5h1.0v1.0h-1.0zM209.6 45.0h1.0v1.0h-1.0zM210.8 48.7h1.0v1.0h-1.0zM211.0 44.3h1.0v1.0h-1.0zM213.1 45.6h1.0v1.0h-1.0zM210.3 46.1h1.0v1.0h-1.0zM211.0 49.3h1.0v1.0h-1.0zM210.6 44.0h1.0v1.0h-1.0zM208.5 44.1h1.0v1.0h-1.0zM214.2 45.3h1.0v1.0h-1.0zM210.7 46.2h1.0v1.0h-1.0zM211.5 45.5h1.0v1.0h-1.0zM215.0 49.9h1.0v1.0h-1.0zM213.9 49.2h1.0v1.0h-1.0zM210.8 41.4h1.0v1.0h-1.0zM212.8 46.4h1.0v1.0h-1.0zM211.9 45.3h1.0v1.0h-1.0zM212.8 46.8h1.0v1.0h-1.0zM212.2 46.6h1.0v1.0h-1.0zM211.6 44.8h1.0v1.0h-1.0zM213.6 45.1h1.0v1.0h-1.0zM214.3 47.0h1.0v1.0h-1.0zM212.0 48.0h1.0v1.0h-1.0zM211.3 45.2h1.0v1.0h-1.0zM211.5 45.6h1.0v1.0h-1.0zM212.7 50.1h1.0v1.0h-1.0zM212.5 43.3h1.0v1.0h-1.0zM210.9 41.7h1.0v1.0h-1.0zM212.8 47.5h1.0v1.0h-1.0zM212.3 46.4h1.0v1.0h-1.0zM212.5 46.5h1.0v1.0h-1.0zM212.7 46.1h1.0v1.0h-1.0zM210.7 47.6h1.0v1.0h-1.0zM213.5 42.1h1.0v1.0h-1.0zM211.6 43.2h1.0v1.0h-1.0z" fill="#1c1c84" fill-opacity="0.95"/>
<path d="M213.4 58.5h0.8v0.8h-0.8zM215.1 65.7h0.8v0.8h-0.8zM211.6 57.5h0.8v0.8h-0.8zM211.4 62.9h0.8v0.8h-0.8zM210.8 62.2h0.8v0.8h-0.8zM209.9 65.3h0.8v0.8h-0.8zM213.4 54.0h0.8v0.8h-0.8zM211.0 60.7h0.8v0.8h-0.8zM213.0 45.3h0.8v0.8h-0.8zM212.9 67.7h0.8v0.8h-0.8zM211.7 53.0h0.8v0.8h-0.8zM214.7 61.2h0.8v0.8h-0.8z" fill="#1c1c84" fill-opacity="0.7"/>
<line x1="207.4" y1="14.4" x2="207.4" y2="72.6" stroke="#707070" stroke-width="0.8"/>
<line x1="171.3" y1="51.8" x2="228.1" y2="51.8" stroke="#707070" stroke-width="0.8"/>
<rect x="171.3" y="14.4" width="56.79999999999998" height="58.199999999999996" fill="none" stroke="#000" stroke-width="1.3"/>
<text x="200.30" y="7.60" font-size="5.3" font-weight="bold" text-anchor="middle" fill="#111" style="stroke-width:0.1px">Naive CD8 Cells</text>
<text x="200.30" y="13.00" font-size="5.3" font-weight="bold" text-anchor="middle" fill="#111" style="stroke-width:0.1px">sorted</text>
<text x="172.30" y="21.60" font-size="5.2" font-weight="bold" text-anchor="start" fill="#111" style="stroke-width:0.12px">0</text>
<text x="227.40" y="21.60" font-size="5.2" font-weight="bold" text-anchor="end" fill="#111" style="stroke-width:0.12px">97.3</text>
<text x="172.30" y="71.60" font-size="5.2" font-weight="bold" text-anchor="start" fill="#111" style="stroke-width:0.12px">0</text>
<text x="227.40" y="71.60" font-size="5.2" font-weight="bold" text-anchor="end" fill="#111" style="stroke-width:0.12px">2.71</text>
<text x="167.40" y="43.80" font-size="4.0" font-weight="bold" text-anchor="middle" fill="#111" transform="rotate(-90 167.40 43.80)" style="stroke-width:0px">CCR7</text>
<text x="199.20" y="78.30" font-size="3.8" font-weight="bold" text-anchor="middle" fill="#111" style="stroke-width:0px">CD45RA</text>
<path d="M262.7 64.3h0.9v0.9h-0.9zM261.0 64.0h0.9v0.9h-0.9zM262.1 62.5h0.9v0.9h-0.9zM265.5 63.0h0.9v0.9h-0.9zM262.4 63.7h0.9v0.9h-0.9zM264.3 62.8h0.9v0.9h-0.9zM263.4 61.6h0.9v0.9h-0.9zM261.9 62.3h0.9v0.9h-0.9zM260.4 61.0h0.9v0.9h-0.9zM259.9 62.5h0.9v0.9h-0.9zM262.2 62.4h0.9v0.9h-0.9zM262.6 61.2h0.9v0.9h-0.9zM262.4 63.1h0.9v0.9h-0.9zM263.7 61.8h0.9v0.9h-0.9zM261.9 60.4h0.9v0.9h-0.9zM261.7 60.2h0.9v0.9h-0.9zM260.2 64.1h0.9v0.9h-0.9zM259.0 63.8h0.9v0.9h-0.9zM263.0 62.4h0.9v0.9h-0.9zM263.2 63.4h0.9v0.9h-0.9zM264.2 62.5h0.9v0.9h-0.9zM261.6 62.1h0.9v0.9h-0.9zM260.9 62.7h0.9v0.9h-0.9zM261.2 64.1h0.9v0.9h-0.9zM259.5 61.5h0.9v0.9h-0.9zM261.0 60.3h0.9v0.9h-0.9zM265.5 59.9h0.9v0.9h-0.9zM262.0 62.2h0.9v0.9h-0.9zM265.1 60.4h0.9v0.9h-0.9zM264.2 61.9h0.9v0.9h-0.9zM262.3 62.0h0.9v0.9h-0.9zM263.5 61.4h0.9v0.9h-0.9zM262.4 63.2h0.9v0.9h-0.9zM265.4 59.9h0.9v0.9h-0.9zM264.9 63.9h0.9v0.9h-0.9zM261.7 63.2h0.9v0.9h-0.9zM261.8 64.8h0.9v0.9h-0.9zM262.8 62.5h0.9v0.9h-0.9zM262.1 62.6h0.9v0.9h-0.9zM262.2 61.7h0.9v0.9h-0.9z" fill="#1c1c84" fill-opacity="0.9"/>
<path d="M268.2 49.4h0.7v0.7h-0.7zM251.2 57.4h0.7v0.7h-0.7zM261.6 59.7h0.7v0.7h-0.7zM261.4 57.3h0.7v0.7h-0.7zM263.0 62.4h0.7v0.7h-0.7zM260.7 56.3h0.7v0.7h-0.7zM267.8 60.4h0.7v0.7h-0.7zM259.0 68.5h0.7v0.7h-0.7zM264.3 55.3h0.7v0.7h-0.7zM258.5 59.3h0.7v0.7h-0.7zM259.5 53.2h0.7v0.7h-0.7zM258.1 55.7h0.7v0.7h-0.7zM265.3 56.0h0.7v0.7h-0.7zM257.7 61.0h0.7v0.7h-0.7zM262.2 61.8h0.7v0.7h-0.7zM265.6 57.2h0.7v0.7h-0.7zM261.6 57.8h0.7v0.7h-0.7zM258.6 61.0h0.7v0.7h-0.7zM266.1 58.8h0.7v0.7h-0.7zM261.3 56.8h0.7v0.7h-0.7zM259.7 54.4h0.7v0.7h-0.7zM260.8 54.2h0.7v0.7h-0.7zM260.7 50.9h0.7v0.7h-0.7zM263.1 58.2h0.7v0.7h-0.7zM258.5 47.7h0.7v0.7h-0.7zM262.0 63.0h0.7v0.7h-0.7zM259.8 55.8h0.7v0.7h-0.7zM260.3 60.9h0.7v0.7h-0.7zM259.3 62.4h0.7v0.7h-0.7zM261.1 62.2h0.7v0.7h-0.7zM262.1 57.0h0.7v0.7h-0.7zM257.6 54.9h0.7v0.7h-0.7zM261.2 61.0h0.7v0.7h-0.7zM262.7 54.9h0.7v0.7h-0.7zM263.2 62.4h0.7v0.7h-0.7zM261.6 56.0h0.7v0.7h-0.7zM260.8 61.6h0.7v0.7h-0.7zM263.6 53.8h0.7v0.7h-0.7zM263.1 55.8h0.7v0.7h-0.7zM259.7 63.6h0.7v0.7h-0.7zM264.5 54.7h0.7v0.7h-0.7zM262.2 60.3h0.7v0.7h-0.7zM260.1 57.5h0.7v0.7h-0.7zM264.0 49.9h0.7v0.7h-0.7zM263.0 61.3h0.7v0.7h-0.7z" fill="#1c1c84" fill-opacity="0.7"/>
<line x1="282.3" y1="14.6" x2="282.3" y2="72.4" stroke="#707070" stroke-width="0.8"/>
<line x1="246.1" y1="51.9" x2="303.2" y2="51.9" stroke="#707070" stroke-width="0.8"/>
<rect x="246.1" y="14.6" width="57.099999999999994" height="57.800000000000004" fill="none" stroke="#000" stroke-width="1.3"/>
<text x="274.50" y="5.30" font-size="5.3" font-weight="bold" text-anchor="middle" fill="#111" style="stroke-width:0.1px">Effector Memory CD8 cells</text>
<text x="274.50" y="11.90" font-size="5.3" font-weight="bold" text-anchor="middle" fill="#111" style="stroke-width:0.1px">Sorted</text>
<text x="247.60" y="20.20" font-size="5.2" font-weight="bold" text-anchor="start" fill="#111" style="stroke-width:0.12px">2.41</text>
<text x="302.30" y="20.20" font-size="5.2" font-weight="bold" text-anchor="end" fill="#111" style="stroke-width:0.12px">0</text>
<text x="247.60" y="71.40" font-size="5.2" font-weight="bold" text-anchor="start" fill="#111" style="stroke-width:0.12px">97.6</text>
<text x="302.30" y="71.40" font-size="5.2" font-weight="bold" text-anchor="end" fill="#111" style="stroke-width:0.12px">0</text>
<text x="242.70" y="43.40" font-size="4.0" font-weight="bold" text-anchor="middle" fill="#111" transform="rotate(-90 242.70 43.40)" style="stroke-width:0px">CCR7</text>
<text x="274.50" y="78.30" font-size="3.8" font-weight="bold" text-anchor="middle" fill="#111" style="stroke-width:0px">CD45RA</text>
<text x="2.30" y="99.80" font-size="11.8" font-weight="bold" text-anchor="start" fill="#111">B</text>
<text x="190.40" y="99.60" font-size="12.0" font-weight="bold" text-anchor="middle" fill="#111">Naive</text>
<text x="390.00" y="100.40" font-size="12.0" font-weight="bold" text-anchor="middle" fill="#111">TEM</text>
<text x="77.90" y="177.20" font-size="13.4" font-weight="bold" text-anchor="middle" fill="#111" transform="rotate(-90 77.90 177.20)" textLength="76.0" lengthAdjust="spacingAndGlyphs">- CMV  002001</text>
<text x="74.90" y="312.60" font-size="13.4" font-weight="bold" text-anchor="middle" fill="#111" transform="rotate(-90 74.90 312.60)" textLength="80.5" lengthAdjust="spacingAndGlyphs">+ CMV  003002</text>
<rect x="91.2" y="105.8" width="188.8" height="136.5" fill="#fff" stroke="#bcbcbc" stroke-width="1.4"/>
<linearGradient id="sw1" x1="0" y1="0" x2="1" y2="0"><stop offset="0" stop-color="#9e9e9e"/><stop offset="1" stop-color="#b0b0b0"/></linearGradient>
<polygon points="110.2,128.1 144.4,118.1 144.4,190.3 113.3,208.4" fill="url(#sw1)"/>
<polygon points="144.4,118.1 276.0,125.0 272.8,203.2 144.4,190.3" fill="#e9ecf5"/>
<line x1="144.4" y1="175.9" x2="273.4" y2="187.6" stroke="#c3c7d1" stroke-width="0.9"/>
<line x1="144.4" y1="161.4" x2="274.1" y2="171.9" stroke="#c3c7d1" stroke-width="0.9"/>
<line x1="144.4" y1="147.0" x2="274.7" y2="156.3" stroke="#c3c7d1" stroke-width="0.9"/>
<line x1="144.4" y1="132.5" x2="275.4" y2="140.6" stroke="#c3c7d1" stroke-width="0.9"/>
<line x1="144.4" y1="118.1" x2="276.0" y2="125.0" stroke="#c3c7d1" stroke-width="0.9"/>
<polygon points="113.3,208.4 259.7,227.2 272.8,203.2 144.4,190.3" fill="#a7adb6"/>
<path d="M118.7 209.1L149.2 190.8M124.1 209.8L153.9 191.3M129.6 210.5L158.7 191.7M135.0 211.2L163.4 192.2M140.4 211.9L168.2 192.7M145.8 212.6L172.9 193.2M151.3 213.3L177.7 193.6M156.7 214.0L182.4 194.1M162.1 214.7L187.2 194.6M167.5 215.4L192.0 195.1M172.9 216.1L196.7 195.6M178.4 216.8L201.5 196.0M183.8 217.5L206.2 196.5M189.2 218.1L211.0 197.0M194.6 218.8L215.7 197.5M200.1 219.5L220.5 197.9M205.5 220.2L225.2 198.4M210.9 220.9L230.0 198.9M216.3 221.6L234.8 199.4M221.7 222.3L239.5 199.9M227.2 223.0L244.3 200.3M232.6 223.7L249.0 200.8M238.0 224.4L253.8 201.3M243.4 225.1L258.5 201.8M248.9 225.8L263.3 202.2M254.3 226.5L268.0 202.7M259.7 227.2L272.8 203.2" stroke="#cfd5de" stroke-width="1.3" fill="none"/>
<path d="M144.3 192.0L146.2 190.9M149.1 192.5L150.9 191.4M153.9 193.0L155.7 191.9M158.7 193.5L160.5 192.3M163.6 194.0L165.2 192.8M168.4 194.5L170.0 193.3M173.2 195.0L174.8 193.8M178.0 195.5L179.5 194.3M182.8 196.0L184.3 194.8M187.6 196.5L189.1 195.2M192.4 196.9L193.9 195.7M197.2 197.4L198.6 196.2M202.0 197.9L203.4 196.7M206.8 198.4L208.2 197.2M211.6 198.9L212.9 197.7M216.4 199.4L217.7 198.1M221.3 199.9L222.5 198.6M226.1 200.4L227.2 199.1M230.9 200.9L232.0 199.6M235.7 201.4L236.8 200.1M240.5 201.9L241.5 200.5M245.3 202.4L246.3 201.0M250.1 202.9L251.1 201.5M254.9 203.4L255.8 202.0M259.7 203.9L260.6 202.5M264.5 204.4L265.4 203.0M269.3 204.9L270.2 203.4M141.2 193.8L143.1 192.7M146.1 194.3L147.9 193.2M151.0 194.9L152.8 193.7M155.9 195.4L157.6 194.2M160.7 195.9L162.4 194.7M165.6 196.4L167.3 195.2M170.5 196.9L172.1 195.7M175.4 197.4L176.9 196.3M180.2 198.0L181.8 196.8M185.1 198.5L186.6 197.3M190.0 199.0L191.4 197.8M194.9 199.5L196.3 198.3M199.7 200.0L201.1 198.8M204.6 200.5L205.9 199.3M209.5 201.1L210.8 199.8M214.4 201.6L215.6 200.3M219.2 202.1L220.5 200.8M224.1 202.6L225.3 201.3M229.0 203.1L230.1 201.8M233.9 203.6L235.0 202.3M238.8 204.2L239.8 202.8M243.6 204.7L244.6 203.3M248.5 205.2L249.5 203.8M253.4 205.7L254.3 204.3M258.3 206.2L259.1 204.8M263.1 206.7L264.0 205.3M268.0 207.3L268.8 205.8M138.2 195.6L140.0 194.5M143.1 196.2L144.9 195.1M148.0 196.7L149.8 195.6M153.0 197.3L154.7 196.1M157.9 197.8L159.6 196.6M162.9 198.3L164.5 197.2M167.8 198.9L169.4 197.7M172.8 199.4L174.3 198.2M177.7 199.9L179.2 198.8M182.6 200.5L184.1 199.3M187.6 201.0L189.0 199.8M192.5 201.6L193.9 200.3M197.5 202.1L198.8 200.9M202.4 202.6L203.7 201.4M207.4 203.2L208.6 201.9M212.3 203.7L213.5 202.4M217.2 204.3L218.4 203.0M222.2 204.8L223.3 203.5M227.1 205.3L228.2 204.0M232.1 205.9L233.2 204.5M237.0 206.4L238.1 205.1M241.9 207.0L243.0 205.6M246.9 207.5L247.9 206.1M251.8 208.0L252.8 206.6M256.8 208.6L257.7 207.2M261.7 209.1L262.6 207.7M266.7 209.7L267.5 208.2M135.1 197.5L136.9 196.4M140.1 198.0L141.9 196.9M145.1 198.6L146.9 197.5M150.1 199.1L151.8 198.0M155.1 199.7L156.8 198.6M160.1 200.3L161.8 199.1M165.1 200.8L166.7 199.7M170.1 201.4L171.7 200.2M175.2 201.9L176.7 200.7M180.2 202.5L181.7 201.3M185.2 203.1L186.6 201.8M190.2 203.6L191.6 202.4M195.2 204.2L196.6 202.9M200.2 204.7L201.5 203.5M205.2 205.3L206.5 204.0M210.2 205.9L211.5 204.6M215.2 206.4L216.4 205.1M220.2 207.0L221.4 205.7M225.2 207.6L226.4 206.2M230.3 208.1L231.3 206.8M235.3 208.7L236.3 207.3M240.3 209.2L241.3 207.9M245.3 209.8L246.2 208.4M250.3 210.4L251.2 209.0M255.3 210.9L256.2 209.5M260.3 211.5L261.2 210.1M265.3 212.0L266.1 210.6M132.0 199.3L133.9 198.2M137.1 199.9L138.9 198.8M142.2 200.4L143.9 199.3M147.2 201.0L149.0 199.9M152.3 201.6L154.0 200.5M157.4 202.2L159.0 201.0M162.5 202.8L164.1 201.6M167.5 203.4L169.1 202.2M172.6 203.9L174.1 202.7M177.7 204.5L179.2 203.3M182.8 205.1L184.2 203.9M187.8 205.7L189.2 204.5M192.9 206.3L194.3 205.0M198.0 206.9L199.3 205.6M203.1 207.4L204.4 206.2M208.1 208.0L209.4 206.7M213.2 208.6L214.4 207.3M218.3 209.2L219.5 207.9M223.4 209.8L224.5 208.4M228.4 210.3L229.5 209.0M233.5 210.9L234.6 209.6M238.6 211.5L239.6 210.1M243.7 212.1L244.6 210.7M248.7 212.7L249.7 211.3M253.8 213.3L254.7 211.9M258.9 213.8L259.7 212.4M264.0 214.4L264.8 213.0M128.9 201.1L130.8 200.0M134.1 201.7L135.9 200.6M139.2 202.3L141.0 201.2M144.4 202.9L146.1 201.8M149.5 203.5L151.2 202.4M154.6 204.1L156.3 203.0M159.8 204.7L161.4 203.6M164.9 205.3L166.5 204.1M170.1 205.9L171.6 204.7M175.2 206.5L176.7 205.3M180.4 207.1L181.8 205.9M185.5 207.7L186.9 206.5M190.6 208.4L192.0 207.1M195.8 209.0L197.1 207.7M200.9 209.6L202.2 208.3M206.1 210.2L207.3 208.9M211.2 210.8L212.4 209.5M216.4 211.4L217.5 210.1M221.5 212.0L222.6 210.7M226.6 212.6L227.7 211.2M231.8 213.2L232.8 211.8M236.9 213.8L237.9 212.4M242.1 214.4L243.0 213.0M247.2 215.0L248.1 213.6M252.3 215.6L253.2 214.2M257.5 216.2L258.3 214.8M262.6 216.8L263.4 215.4M125.9 202.9L127.7 201.8M131.1 203.5L132.9 202.4M136.3 204.2L138.0 203.1M141.5 204.8L143.2 203.7M146.7 205.4L148.4 204.3M151.9 206.1L153.5 204.9M157.1 206.7L158.7 205.5M162.3 207.3L163.9 206.1M167.5 207.9L169.1 206.7M172.7 208.6L174.2 207.3M177.9 209.2L179.4 208.0M183.2 209.8L184.6 208.6M188.4 210.4L189.7 209.2M193.6 211.1L194.9 209.8M198.8 211.7L200.1 210.4M204.0 212.3L205.2 211.0M209.2 212.9L210.4 211.6M214.4 213.6L215.6 212.3M219.6 214.2L220.7 212.9M224.8 214.8L225.9 213.5M230.0 215.4L231.1 214.1M235.2 216.1L236.2 214.7M240.5 216.7L241.4 215.3M245.7 217.3L246.6 215.9M250.9 218.0L251.8 216.5M256.1 218.6L256.9 217.2M261.3 219.2L262.1 217.8M122.8 204.7L124.6 203.6M128.1 205.4L129.9 204.3M133.3 206.0L135.1 204.9M138.6 206.7L140.3 205.6M143.9 207.3L145.6 206.2M149.2 208.0L150.8 206.8M154.4 208.6L156.0 207.5M159.7 209.3L161.3 208.1M165.0 209.9L166.5 208.7M170.3 210.6L171.7 209.4M175.5 211.2L177.0 210.0M180.8 211.9L182.2 210.6M186.1 212.5L187.5 211.3M191.4 213.2L192.7 211.9M196.6 213.8L197.9 212.5M201.9 214.5L203.2 213.2M207.2 215.1L208.4 213.8M212.5 215.8L213.6 214.4M217.7 216.4L218.9 215.1M223.0 217.1L224.1 215.7M228.3 217.7L229.3 216.4M233.6 218.4L234.6 217.0M238.8 219.0L239.8 217.6M244.1 219.7L245.0 218.3M249.4 220.3L250.3 218.9M254.7 220.9L255.5 219.5M259.9 221.6L260.8 220.2M119.7 206.6L121.5 205.5M125.0 207.2L126.9 206.1M130.4 207.9L132.2 206.8M135.7 208.6L137.5 207.4M141.1 209.2L142.8 208.1M146.4 209.9L148.1 208.8M151.8 210.6L153.4 209.4M157.1 211.3L158.7 210.1M162.4 211.9L164.0 210.7M167.8 212.6L169.3 211.4M173.1 213.3L174.6 212.0M178.5 213.9L179.9 212.7M183.8 214.6L185.2 213.4M189.2 215.3L190.5 214.0M194.5 215.9L195.8 214.7M199.8 216.6L201.1 215.3M205.2 217.3L206.4 216.0M210.5 218.0L211.7 216.6M215.9 218.6L217.0 217.3M221.2 219.3L222.3 218.0M226.5 220.0L227.6 218.6M231.9 220.6L232.9 219.3M237.2 221.3L238.2 219.9M242.6 222.0L243.5 220.6M247.9 222.6L248.8 221.2M253.3 223.3L254.1 221.9M258.6 224.0L259.4 222.6M116.6 208.4L118.5 207.3M122.0 209.1L123.8 208.0M127.4 209.8L129.2 208.6M132.9 210.5L134.6 209.3M138.3 211.2L139.9 210.0M143.7 211.8L145.3 210.7M149.1 212.5L150.7 211.4M154.5 213.2L156.1 212.0M159.9 213.9L161.4 212.7M165.3 214.6L166.8 213.4M170.7 215.3L172.2 214.1M176.1 216.0L177.5 214.8M181.5 216.7L182.9 215.4M186.9 217.4L188.3 216.1M192.4 218.1L193.6 216.8M197.8 218.8L199.0 217.5M203.2 219.5L204.4 218.2M208.6 220.1L209.7 218.8M214.0 220.8L215.1 219.5M219.4 221.5L220.5 220.2M224.8 222.2L225.9 220.9M230.2 222.9L231.2 221.5M235.6 223.6L236.6 222.2M241.0 224.3L242.0 222.9M246.4 225.0L247.3 223.6M251.8 225.7L252.7 224.3M257.3 226.4L258.1 224.9" stroke="#2f4a76" stroke-width="1.4" fill="none"/>
<rect x="144.0" y="183.9" width="2.4" height="7.5" fill="#33609c"/><rect x="144.0" y="183.9" width="1.0" height="7.5" fill="#5a84bd"/><rect x="145.8" y="183.9" width="0.6" height="7.5" fill="#21467a"/>
<rect x="148.8" y="184.9" width="2.4" height="7.1" fill="#33609c"/><rect x="148.8" y="184.9" width="1.0" height="7.1" fill="#5a84bd"/><rect x="150.6" y="184.9" width="0.6" height="7.1" fill="#21467a"/>
<rect x="153.6" y="184.8" width="2.4" height="7.6" fill="#33609c"/><rect x="153.6" y="184.8" width="1.0" height="7.6" fill="#5a84bd"/><rect x="155.4" y="184.8" width="0.6" height="7.6" fill="#21467a"/>
<rect x="163.2" y="186.5" width="2.4" height="6.9" fill="#33609c"/><rect x="163.2" y="186.5" width="1.0" height="6.9" fill="#5a84bd"/><rect x="165.0" y="186.5" width="0.6" height="6.9" fill="#21467a"/>
<rect x="168.0" y="187.1" width="2.4" height="6.8" fill="#33609c"/><rect x="168.0" y="187.1" width="1.0" height="6.8" fill="#5a84bd"/><rect x="169.8" y="187.1" width="0.6" height="6.8" fill="#21467a"/>
<rect x="172.8" y="186.9" width="2.4" height="7.5" fill="#33609c"/><rect x="172.8" y="186.9" width="1.0" height="7.5" fill="#5a84bd"/><rect x="174.6" y="186.9" width="0.6" height="7.5" fill="#21467a"/>
<rect x="177.6" y="190.5" width="2.4" height="4.4" fill="#33609c"/><rect x="177.6" y="190.5" width="1.0" height="4.4" fill="#5a84bd"/><rect x="179.4" y="190.5" width="0.6" height="4.4" fill="#21467a"/>
<rect x="182.4" y="190.6" width="2.4" height="4.8" fill="#33609c"/><rect x="182.4" y="190.6" width="1.0" height="4.8" fill="#5a84bd"/><rect x="184.2" y="190.6" width="0.6" height="4.8" fill="#21467a"/>
<rect x="191.9" y="194.9" width="2.4" height="1.4" fill="#33609c"/><rect x="191.9" y="194.9" width="1.0" height="1.4" fill="#5a84bd"/><rect x="193.7" y="194.9" width="0.6" height="1.4" fill="#21467a"/>
<rect x="201.5" y="192.4" width="2.4" height="4.9" fill="#33609c"/><rect x="201.5" y="192.4" width="1.0" height="4.9" fill="#5a84bd"/><rect x="203.3" y="192.4" width="0.6" height="4.9" fill="#21467a"/>
<rect x="211.1" y="196.0" width="2.4" height="2.3" fill="#33609c"/><rect x="211.1" y="196.0" width="1.0" height="2.3" fill="#5a84bd"/><rect x="212.9" y="196.0" width="0.6" height="2.3" fill="#21467a"/>
<rect x="254.2" y="197.6" width="2.4" height="5.1" fill="#33609c"/><rect x="254.2" y="197.6" width="1.0" height="5.1" fill="#5a84bd"/><rect x="256.0" y="197.6" width="0.6" height="5.1" fill="#21467a"/>
<rect x="263.8" y="201.6" width="2.4" height="2.1" fill="#33609c"/><rect x="263.8" y="201.6" width="1.0" height="2.1" fill="#5a84bd"/><rect x="265.6" y="201.6" width="0.6" height="2.1" fill="#21467a"/>
<rect x="139.5" y="188.5" width="1.9" height="10.2" fill="#33609c"/><rect x="139.5" y="188.5" width="0.8" height="10.2" fill="#5a84bd"/><rect x="140.8" y="188.5" width="0.6" height="10.2" fill="#21467a"/>
<rect x="148.5" y="185.0" width="1.9" height="14.4" fill="#33609c"/><rect x="148.5" y="185.0" width="0.8" height="14.4" fill="#5a84bd"/><rect x="149.8" y="185.0" width="0.6" height="14.4" fill="#21467a"/>
<rect x="152.9" y="186.0" width="1.9" height="13.7" fill="#33609c"/><rect x="152.9" y="186.0" width="0.8" height="13.7" fill="#5a84bd"/><rect x="154.2" y="186.0" width="0.6" height="13.7" fill="#21467a"/>
<rect x="156.8" y="178.3" width="1.9" height="21.7" fill="#33609c"/><rect x="156.8" y="178.3" width="0.8" height="21.7" fill="#5a84bd"/><rect x="158.0" y="178.3" width="0.6" height="21.7" fill="#21467a"/>
<rect x="161.0" y="176.3" width="1.9" height="24.0" fill="#33609c"/><rect x="161.0" y="176.3" width="0.8" height="24.0" fill="#5a84bd"/><rect x="162.2" y="176.3" width="0.6" height="24.0" fill="#21467a"/>
<rect x="165.2" y="169.6" width="1.9" height="31.0" fill="#33609c"/><rect x="165.2" y="169.6" width="0.8" height="31.0" fill="#5a84bd"/><rect x="166.5" y="169.6" width="0.6" height="31.0" fill="#21467a"/>
<rect x="169.7" y="175.4" width="1.9" height="25.5" fill="#33609c"/><rect x="169.7" y="175.4" width="0.8" height="25.5" fill="#5a84bd"/><rect x="170.9" y="175.4" width="0.6" height="25.5" fill="#21467a"/>
<rect x="174.1" y="190.8" width="1.9" height="10.4" fill="#33609c"/><rect x="174.1" y="190.8" width="0.8" height="10.4" fill="#5a84bd"/><rect x="175.3" y="190.8" width="0.6" height="10.4" fill="#21467a"/>
<rect x="178.2" y="188.5" width="1.9" height="13.0" fill="#33609c"/><rect x="178.2" y="188.5" width="0.8" height="13.0" fill="#5a84bd"/><rect x="179.5" y="188.5" width="0.6" height="13.0" fill="#21467a"/>
<rect x="183.1" y="189.8" width="1.9" height="12.0" fill="#33609c"/><rect x="183.1" y="189.8" width="0.8" height="12.0" fill="#5a84bd"/><rect x="184.3" y="189.8" width="0.6" height="12.0" fill="#21467a"/>
<rect x="187.6" y="189.8" width="1.9" height="12.3" fill="#33609c"/><rect x="187.6" y="189.8" width="0.8" height="12.3" fill="#5a84bd"/><rect x="188.8" y="189.8" width="0.6" height="12.3" fill="#21467a"/>
<rect x="192.1" y="193.7" width="1.9" height="8.7" fill="#33609c"/><rect x="192.1" y="193.7" width="0.8" height="8.7" fill="#5a84bd"/><rect x="193.3" y="193.7" width="0.6" height="8.7" fill="#21467a"/>
<rect x="214.6" y="193.0" width="1.9" height="9.5" fill="#33609c"/><rect x="214.6" y="193.0" width="0.8" height="9.5" fill="#5a84bd"/><rect x="215.8" y="193.0" width="0.6" height="9.5" fill="#21467a"/>
<rect x="252.9" y="192.3" width="1.9" height="15.2" fill="#33609c"/><rect x="252.9" y="192.3" width="0.8" height="15.2" fill="#5a84bd"/><rect x="254.2" y="192.3" width="0.6" height="15.2" fill="#21467a"/>
<rect x="258.1" y="198.0" width="1.9" height="10.0" fill="#33609c"/><rect x="258.1" y="198.0" width="0.8" height="10.0" fill="#5a84bd"/><rect x="259.3" y="198.0" width="0.6" height="10.0" fill="#21467a"/>
<rect x="141.0" y="186.4" width="2.4" height="6.9" fill="#33609c"/><rect x="141.0" y="186.4" width="1.0" height="6.9" fill="#5a84bd"/><rect x="142.8" y="186.4" width="0.6" height="6.9" fill="#21467a"/>
<rect x="145.8" y="189.1" width="2.4" height="4.7" fill="#33609c"/><rect x="145.8" y="189.1" width="1.0" height="4.7" fill="#5a84bd"/><rect x="147.6" y="189.1" width="0.6" height="4.7" fill="#21467a"/>
<rect x="155.5" y="189.9" width="2.4" height="4.9" fill="#33609c"/><rect x="155.5" y="189.9" width="1.0" height="4.9" fill="#5a84bd"/><rect x="157.3" y="189.9" width="0.6" height="4.9" fill="#21467a"/>
<rect x="160.4" y="190.0" width="2.4" height="5.3" fill="#33609c"/><rect x="160.4" y="190.0" width="1.0" height="5.3" fill="#5a84bd"/><rect x="162.2" y="190.0" width="0.6" height="5.3" fill="#21467a"/>
<rect x="170.1" y="189.7" width="2.4" height="6.6" fill="#33609c"/><rect x="170.1" y="189.7" width="1.0" height="6.6" fill="#5a84bd"/><rect x="171.9" y="189.7" width="0.6" height="6.6" fill="#21467a"/>
<rect x="179.8" y="196.2" width="2.4" height="1.2" fill="#33609c"/><rect x="179.8" y="196.2" width="1.0" height="1.2" fill="#5a84bd"/><rect x="181.6" y="196.2" width="0.6" height="1.2" fill="#21467a"/>
<rect x="199.2" y="196.1" width="2.4" height="3.3" fill="#33609c"/><rect x="199.2" y="196.1" width="1.0" height="3.3" fill="#5a84bd"/><rect x="201.0" y="196.1" width="0.6" height="3.3" fill="#21467a"/>
<rect x="208.9" y="197.5" width="2.4" height="3.0" fill="#33609c"/><rect x="208.9" y="197.5" width="1.0" height="3.0" fill="#5a84bd"/><rect x="210.7" y="197.5" width="0.6" height="3.0" fill="#21467a"/>
<rect x="257.5" y="202.2" width="2.4" height="3.3" fill="#33609c"/><rect x="257.5" y="202.2" width="1.0" height="3.3" fill="#5a84bd"/><rect x="259.3" y="202.2" width="0.6" height="3.3" fill="#21467a"/>
<rect x="262.4" y="203.3" width="2.4" height="2.7" fill="#33609c"/><rect x="262.4" y="203.3" width="1.0" height="2.7" fill="#5a84bd"/><rect x="264.2" y="203.3" width="0.6" height="2.7" fill="#21467a"/>
<rect x="137.9" y="188.7" width="2.4" height="6.4" fill="#33609c"/><rect x="137.9" y="188.7" width="1.0" height="6.4" fill="#5a84bd"/><rect x="139.7" y="188.7" width="0.6" height="6.4" fill="#21467a"/>
<rect x="142.8" y="191.2" width="2.4" height="4.5" fill="#33609c"/><rect x="142.8" y="191.2" width="1.0" height="4.5" fill="#5a84bd"/><rect x="144.6" y="191.2" width="0.6" height="4.5" fill="#21467a"/>
<rect x="147.7" y="194.2" width="2.4" height="2.0" fill="#33609c"/><rect x="147.7" y="194.2" width="1.0" height="2.0" fill="#5a84bd"/><rect x="149.5" y="194.2" width="0.6" height="2.0" fill="#21467a"/>
<rect x="152.7" y="190.0" width="2.4" height="6.7" fill="#33609c"/><rect x="152.7" y="190.0" width="1.0" height="6.7" fill="#5a84bd"/><rect x="154.5" y="190.0" width="0.6" height="6.7" fill="#21467a"/>
<rect x="157.6" y="190.6" width="2.4" height="6.6" fill="#33609c"/><rect x="157.6" y="190.6" width="1.0" height="6.6" fill="#5a84bd"/><rect x="159.4" y="190.6" width="0.6" height="6.6" fill="#21467a"/>
<rect x="162.5" y="192.5" width="2.4" height="5.2" fill="#33609c"/><rect x="162.5" y="192.5" width="1.0" height="5.2" fill="#5a84bd"/><rect x="164.3" y="192.5" width="0.6" height="5.2" fill="#21467a"/>
<rect x="167.4" y="191.4" width="2.4" height="6.9" fill="#33609c"/><rect x="167.4" y="191.4" width="1.0" height="6.9" fill="#5a84bd"/><rect x="169.2" y="191.4" width="0.6" height="6.9" fill="#21467a"/>
<rect x="182.2" y="195.7" width="2.4" height="4.2" fill="#33609c"/><rect x="182.2" y="195.7" width="1.0" height="4.2" fill="#5a84bd"/><rect x="184.0" y="195.7" width="0.6" height="4.2" fill="#21467a"/>
<rect x="187.1" y="197.6" width="2.4" height="2.8" fill="#33609c"/><rect x="187.1" y="197.6" width="1.0" height="2.8" fill="#5a84bd"/><rect x="188.9" y="197.6" width="0.6" height="2.8" fill="#21467a"/>
<rect x="251.1" y="204.9" width="2.4" height="2.4" fill="#33609c"/><rect x="251.1" y="204.9" width="1.0" height="2.4" fill="#5a84bd"/><rect x="252.9" y="204.9" width="0.6" height="2.4" fill="#21467a"/>
<rect x="134.8" y="192.3" width="2.4" height="4.6" fill="#33609c"/><rect x="134.8" y="192.3" width="1.0" height="4.6" fill="#5a84bd"/><rect x="136.6" y="192.3" width="0.6" height="4.6" fill="#21467a"/>
<rect x="139.8" y="190.8" width="2.4" height="6.7" fill="#33609c"/><rect x="139.8" y="190.8" width="1.0" height="6.7" fill="#5a84bd"/><rect x="141.6" y="190.8" width="0.6" height="6.7" fill="#21467a"/>
<rect x="144.8" y="193.3" width="2.4" height="4.7" fill="#33609c"/><rect x="144.8" y="193.3" width="1.0" height="4.7" fill="#5a84bd"/><rect x="146.6" y="193.3" width="0.6" height="4.7" fill="#21467a"/>
<rect x="154.8" y="193.2" width="2.4" height="5.9" fill="#33609c"/><rect x="154.8" y="193.2" width="1.0" height="5.9" fill="#5a84bd"/><rect x="156.6" y="193.2" width="0.6" height="5.9" fill="#21467a"/>
<rect x="159.8" y="194.1" width="2.4" height="5.5" fill="#33609c"/><rect x="159.8" y="194.1" width="1.0" height="5.5" fill="#5a84bd"/><rect x="161.6" y="194.1" width="0.6" height="5.5" fill="#21467a"/>
<rect x="164.7" y="194.8" width="2.4" height="5.5" fill="#33609c"/><rect x="164.7" y="194.8" width="1.0" height="5.5" fill="#5a84bd"/><rect x="166.5" y="194.8" width="0.6" height="5.5" fill="#21467a"/>
<rect x="174.7" y="198.6" width="2.4" height="2.8" fill="#33609c"/><rect x="174.7" y="198.6" width="1.0" height="2.8" fill="#5a84bd"/><rect x="176.5" y="198.6" width="0.6" height="2.8" fill="#21467a"/>
<rect x="184.7" y="200.0" width="2.4" height="2.4" fill="#33609c"/><rect x="184.7" y="200.0" width="1.0" height="2.4" fill="#5a84bd"/><rect x="186.5" y="200.0" width="0.6" height="2.4" fill="#21467a"/>
<rect x="194.7" y="199.4" width="2.4" height="4.2" fill="#33609c"/><rect x="194.7" y="199.4" width="1.0" height="4.2" fill="#5a84bd"/><rect x="196.5" y="199.4" width="0.6" height="4.2" fill="#21467a"/>
<rect x="204.7" y="201.6" width="2.4" height="3.1" fill="#33609c"/><rect x="204.7" y="201.6" width="1.0" height="3.1" fill="#5a84bd"/><rect x="206.5" y="201.6" width="0.6" height="3.1" fill="#21467a"/>
<rect x="234.6" y="204.2" width="2.4" height="3.8" fill="#33609c"/><rect x="234.6" y="204.2" width="1.0" height="3.8" fill="#5a84bd"/><rect x="236.4" y="204.2" width="0.6" height="3.8" fill="#21467a"/>
<rect x="249.6" y="206.6" width="2.4" height="3.0" fill="#33609c"/><rect x="249.6" y="206.6" width="1.0" height="3.0" fill="#5a84bd"/><rect x="251.4" y="206.6" width="0.6" height="3.0" fill="#21467a"/>
<rect x="131.7" y="194.4" width="2.4" height="4.4" fill="#33609c"/><rect x="131.7" y="194.4" width="1.0" height="4.4" fill="#5a84bd"/><rect x="133.5" y="194.4" width="0.6" height="4.4" fill="#21467a"/>
<rect x="136.8" y="195.6" width="2.4" height="3.7" fill="#33609c"/><rect x="136.8" y="195.6" width="1.0" height="3.7" fill="#5a84bd"/><rect x="138.6" y="195.6" width="0.6" height="3.7" fill="#21467a"/>
<rect x="141.8" y="193.5" width="2.4" height="6.4" fill="#33609c"/><rect x="141.8" y="193.5" width="1.0" height="6.4" fill="#5a84bd"/><rect x="143.6" y="193.5" width="0.6" height="6.4" fill="#21467a"/>
<rect x="146.9" y="195.6" width="2.4" height="4.8" fill="#33609c"/><rect x="146.9" y="195.6" width="1.0" height="4.8" fill="#5a84bd"/><rect x="148.7" y="195.6" width="0.6" height="4.8" fill="#21467a"/>
<rect x="152.0" y="194.6" width="2.4" height="6.4" fill="#33609c"/><rect x="152.0" y="194.6" width="1.0" height="6.4" fill="#5a84bd"/><rect x="153.8" y="194.6" width="0.6" height="6.4" fill="#21467a"/>
<rect x="157.0" y="197.6" width="2.4" height="4.0" fill="#33609c"/><rect x="157.0" y="197.6" width="1.0" height="4.0" fill="#5a84bd"/><rect x="158.8" y="197.6" width="0.6" height="4.0" fill="#21467a"/>
<rect x="162.1" y="195.6" width="2.4" height="6.5" fill="#33609c"/><rect x="162.1" y="195.6" width="1.0" height="6.5" fill="#5a84bd"/><rect x="163.9" y="195.6" width="0.6" height="6.5" fill="#21467a"/>
<rect x="197.5" y="203.0" width="2.4" height="3.2" fill="#33609c"/><rect x="197.5" y="203.0" width="1.0" height="3.2" fill="#5a84bd"/><rect x="199.3" y="203.0" width="0.6" height="3.2" fill="#21467a"/>
<rect x="202.5" y="203.8" width="2.4" height="3.0" fill="#33609c"/><rect x="202.5" y="203.8" width="1.0" height="3.0" fill="#5a84bd"/><rect x="204.3" y="203.8" width="0.6" height="3.0" fill="#21467a"/>
<rect x="232.8" y="204.1" width="2.4" height="6.2" fill="#33609c"/><rect x="232.8" y="204.1" width="1.0" height="6.2" fill="#5a84bd"/><rect x="234.6" y="204.1" width="0.6" height="6.2" fill="#21467a"/>
<rect x="237.9" y="206.7" width="2.4" height="4.1" fill="#33609c"/><rect x="237.9" y="206.7" width="1.0" height="4.1" fill="#5a84bd"/><rect x="239.7" y="206.7" width="0.6" height="4.1" fill="#21467a"/>
<rect x="243.0" y="205.4" width="2.4" height="6.0" fill="#33609c"/><rect x="243.0" y="205.4" width="1.0" height="6.0" fill="#5a84bd"/><rect x="244.8" y="205.4" width="0.6" height="6.0" fill="#21467a"/>
<rect x="248.0" y="209.1" width="2.4" height="2.9" fill="#33609c"/><rect x="248.0" y="209.1" width="1.0" height="2.9" fill="#5a84bd"/><rect x="249.8" y="209.1" width="0.6" height="2.9" fill="#21467a"/>
<rect x="258.1" y="209.3" width="2.4" height="3.9" fill="#33609c"/><rect x="258.1" y="209.3" width="1.0" height="3.9" fill="#5a84bd"/><rect x="259.9" y="209.3" width="0.6" height="3.9" fill="#21467a"/>
<rect x="263.2" y="211.9" width="2.4" height="1.8" fill="#33609c"/><rect x="263.2" y="211.9" width="1.0" height="1.8" fill="#5a84bd"/><rect x="265.0" y="211.9" width="0.6" height="1.8" fill="#21467a"/>
<rect x="133.8" y="195.7" width="2.4" height="5.5" fill="#33609c"/><rect x="133.8" y="195.7" width="1.0" height="5.5" fill="#5a84bd"/><rect x="135.6" y="195.7" width="0.6" height="5.5" fill="#21467a"/>
<rect x="138.9" y="198.0" width="2.4" height="3.7" fill="#33609c"/><rect x="138.9" y="198.0" width="1.0" height="3.7" fill="#5a84bd"/><rect x="140.7" y="198.0" width="0.6" height="3.7" fill="#21467a"/>
<rect x="144.0" y="197.4" width="2.4" height="5.0" fill="#33609c"/><rect x="144.0" y="197.4" width="1.0" height="5.0" fill="#5a84bd"/><rect x="145.8" y="197.4" width="0.6" height="5.0" fill="#21467a"/>
<rect x="149.1" y="199.5" width="2.4" height="3.4" fill="#33609c"/><rect x="149.1" y="199.5" width="1.0" height="3.4" fill="#5a84bd"/><rect x="150.9" y="199.5" width="0.6" height="3.4" fill="#21467a"/>
<rect x="154.3" y="199.1" width="2.4" height="4.5" fill="#33609c"/><rect x="154.3" y="199.1" width="1.0" height="4.5" fill="#5a84bd"/><rect x="156.1" y="199.1" width="0.6" height="4.5" fill="#21467a"/>
<rect x="159.4" y="198.8" width="2.4" height="5.4" fill="#33609c"/><rect x="159.4" y="198.8" width="1.0" height="5.4" fill="#5a84bd"/><rect x="161.2" y="198.8" width="0.6" height="5.4" fill="#21467a"/>
<rect x="200.4" y="207.5" width="2.4" height="1.4" fill="#33609c"/><rect x="200.4" y="207.5" width="1.0" height="1.4" fill="#5a84bd"/><rect x="202.2" y="207.5" width="0.6" height="1.4" fill="#21467a"/>
<rect x="231.1" y="207.4" width="2.4" height="5.1" fill="#33609c"/><rect x="231.1" y="207.4" width="1.0" height="5.1" fill="#5a84bd"/><rect x="232.9" y="207.4" width="0.6" height="5.1" fill="#21467a"/>
<rect x="256.7" y="213.1" width="2.4" height="2.4" fill="#33609c"/><rect x="256.7" y="213.1" width="1.0" height="2.4" fill="#5a84bd"/><rect x="258.5" y="213.1" width="0.6" height="2.4" fill="#21467a"/>
<rect x="261.8" y="214.4" width="2.4" height="1.7" fill="#33609c"/><rect x="261.8" y="214.4" width="1.0" height="1.7" fill="#5a84bd"/><rect x="263.6" y="214.4" width="0.6" height="1.7" fill="#21467a"/>
<rect x="130.8" y="200.0" width="2.4" height="2.9" fill="#33609c"/><rect x="130.8" y="200.0" width="1.0" height="2.9" fill="#5a84bd"/><rect x="132.6" y="200.0" width="0.6" height="2.9" fill="#21467a"/>
<rect x="136.0" y="200.5" width="2.4" height="3.1" fill="#33609c"/><rect x="136.0" y="200.5" width="1.0" height="3.1" fill="#5a84bd"/><rect x="137.8" y="200.5" width="0.6" height="3.1" fill="#21467a"/>
<rect x="141.1" y="199.7" width="2.4" height="4.6" fill="#33609c"/><rect x="141.1" y="199.7" width="1.0" height="4.6" fill="#5a84bd"/><rect x="142.9" y="199.7" width="0.6" height="4.6" fill="#21467a"/>
<rect x="151.5" y="204.3" width="2.4" height="1.2" fill="#33609c"/><rect x="151.5" y="204.3" width="1.0" height="1.2" fill="#5a84bd"/><rect x="153.3" y="204.3" width="0.6" height="1.2" fill="#21467a"/>
<rect x="156.7" y="203.4" width="2.4" height="2.7" fill="#33609c"/><rect x="156.7" y="203.4" width="1.0" height="2.7" fill="#5a84bd"/><rect x="158.5" y="203.4" width="0.6" height="2.7" fill="#21467a"/>
<rect x="167.1" y="204.2" width="2.4" height="3.2" fill="#33609c"/><rect x="167.1" y="204.2" width="1.0" height="3.2" fill="#5a84bd"/><rect x="168.9" y="204.2" width="0.6" height="3.2" fill="#21467a"/>
<rect x="172.3" y="205.7" width="2.4" height="2.2" fill="#33609c"/><rect x="172.3" y="205.7" width="1.0" height="2.2" fill="#5a84bd"/><rect x="174.1" y="205.7" width="0.6" height="2.2" fill="#21467a"/>
<rect x="193.0" y="208.2" width="2.4" height="2.3" fill="#33609c"/><rect x="193.0" y="208.2" width="1.0" height="2.3" fill="#5a84bd"/><rect x="194.8" y="208.2" width="0.6" height="2.3" fill="#21467a"/>
<rect x="229.4" y="208.5" width="2.4" height="6.3" fill="#33609c"/><rect x="229.4" y="208.5" width="1.0" height="6.3" fill="#5a84bd"/><rect x="231.2" y="208.5" width="0.6" height="6.3" fill="#21467a"/>
<rect x="244.9" y="208.0" width="2.4" height="8.6" fill="#33609c"/><rect x="244.9" y="208.0" width="1.0" height="8.6" fill="#5a84bd"/><rect x="246.7" y="208.0" width="0.6" height="8.6" fill="#21467a"/>
<rect x="122.5" y="202.4" width="2.4" height="1.8" fill="#33609c"/><rect x="122.5" y="202.4" width="1.0" height="1.8" fill="#5a84bd"/><rect x="124.3" y="202.4" width="0.6" height="1.8" fill="#21467a"/>
<rect x="127.8" y="199.4" width="2.4" height="5.4" fill="#33609c"/><rect x="127.8" y="199.4" width="1.0" height="5.4" fill="#5a84bd"/><rect x="129.6" y="199.4" width="0.6" height="5.4" fill="#21467a"/>
<rect x="133.0" y="202.7" width="2.4" height="2.8" fill="#33609c"/><rect x="133.0" y="202.7" width="1.0" height="2.8" fill="#5a84bd"/><rect x="134.8" y="202.7" width="0.6" height="2.8" fill="#21467a"/>
<rect x="138.3" y="203.5" width="2.4" height="2.6" fill="#33609c"/><rect x="138.3" y="203.5" width="1.0" height="2.6" fill="#5a84bd"/><rect x="140.1" y="203.5" width="0.6" height="2.6" fill="#21467a"/>
<rect x="143.5" y="201.4" width="2.4" height="5.4" fill="#33609c"/><rect x="143.5" y="201.4" width="1.0" height="5.4" fill="#5a84bd"/><rect x="145.3" y="201.4" width="0.6" height="5.4" fill="#21467a"/>
<rect x="148.8" y="204.1" width="2.4" height="3.3" fill="#33609c"/><rect x="148.8" y="204.1" width="1.0" height="3.3" fill="#5a84bd"/><rect x="150.6" y="204.1" width="0.6" height="3.3" fill="#21467a"/>
<rect x="164.5" y="206.4" width="2.4" height="3.0" fill="#33609c"/><rect x="164.5" y="206.4" width="1.0" height="3.0" fill="#5a84bd"/><rect x="166.3" y="206.4" width="0.6" height="3.0" fill="#21467a"/>
<rect x="190.8" y="209.1" width="2.4" height="3.5" fill="#33609c"/><rect x="190.8" y="209.1" width="1.0" height="3.5" fill="#5a84bd"/><rect x="192.6" y="209.1" width="0.6" height="3.5" fill="#21467a"/>
<rect x="232.9" y="212.9" width="2.4" height="4.8" fill="#33609c"/><rect x="232.9" y="212.9" width="1.0" height="4.8" fill="#5a84bd"/><rect x="234.7" y="212.9" width="0.6" height="4.8" fill="#21467a"/>
<rect x="243.4" y="215.1" width="2.4" height="3.8" fill="#33609c"/><rect x="243.4" y="215.1" width="1.0" height="3.8" fill="#5a84bd"/><rect x="245.2" y="215.1" width="0.6" height="3.8" fill="#21467a"/>
<rect x="248.6" y="217.1" width="2.4" height="2.5" fill="#33609c"/><rect x="248.6" y="217.1" width="1.0" height="2.5" fill="#5a84bd"/><rect x="250.4" y="217.1" width="0.6" height="2.5" fill="#21467a"/>
<rect x="259.1" y="218.1" width="2.4" height="2.8" fill="#33609c"/><rect x="259.1" y="218.1" width="1.0" height="2.8" fill="#5a84bd"/><rect x="260.9" y="218.1" width="0.6" height="2.8" fill="#21467a"/>
<rect x="119.4" y="203.3" width="2.4" height="2.8" fill="#33609c"/><rect x="119.4" y="203.3" width="1.0" height="2.8" fill="#5a84bd"/><rect x="121.2" y="203.3" width="0.6" height="2.8" fill="#21467a"/>
<rect x="124.7" y="201.8" width="2.4" height="4.9" fill="#33609c"/><rect x="124.7" y="201.8" width="1.0" height="4.9" fill="#5a84bd"/><rect x="126.5" y="201.8" width="0.6" height="4.9" fill="#21467a"/>
<rect x="130.1" y="204.8" width="2.4" height="2.6" fill="#33609c"/><rect x="130.1" y="204.8" width="1.0" height="2.6" fill="#5a84bd"/><rect x="131.9" y="204.8" width="0.6" height="2.6" fill="#21467a"/>
<rect x="135.4" y="205.0" width="2.4" height="3.0" fill="#33609c"/><rect x="135.4" y="205.0" width="1.0" height="3.0" fill="#5a84bd"/><rect x="137.2" y="205.0" width="0.6" height="3.0" fill="#21467a"/>
<rect x="140.7" y="203.7" width="2.4" height="5.0" fill="#33609c"/><rect x="140.7" y="203.7" width="1.0" height="5.0" fill="#5a84bd"/><rect x="142.5" y="203.7" width="0.6" height="5.0" fill="#21467a"/>
<rect x="146.0" y="204.6" width="2.4" height="4.7" fill="#33609c"/><rect x="146.0" y="204.6" width="1.0" height="4.7" fill="#5a84bd"/><rect x="147.8" y="204.6" width="0.6" height="4.7" fill="#21467a"/>
<rect x="151.4" y="207.9" width="2.4" height="2.1" fill="#33609c"/><rect x="151.4" y="207.9" width="1.0" height="2.1" fill="#5a84bd"/><rect x="153.2" y="207.9" width="0.6" height="2.1" fill="#21467a"/>
<rect x="188.6" y="211.5" width="2.4" height="3.1" fill="#33609c"/><rect x="188.6" y="211.5" width="1.0" height="3.1" fill="#5a84bd"/><rect x="190.4" y="211.5" width="0.6" height="3.1" fill="#21467a"/>
<rect x="236.5" y="216.6" width="2.4" height="4.0" fill="#33609c"/><rect x="236.5" y="216.6" width="1.0" height="4.0" fill="#5a84bd"/><rect x="238.3" y="216.6" width="0.6" height="4.0" fill="#21467a"/>
<rect x="241.8" y="218.6" width="2.4" height="2.7" fill="#33609c"/><rect x="241.8" y="218.6" width="1.0" height="2.7" fill="#5a84bd"/><rect x="243.6" y="218.6" width="0.6" height="2.7" fill="#21467a"/>
<rect x="116.3" y="205.1" width="2.4" height="2.7" fill="#33609c"/><rect x="116.3" y="205.1" width="1.0" height="2.7" fill="#5a84bd"/><rect x="118.1" y="205.1" width="0.6" height="2.7" fill="#21467a"/>
<rect x="121.7" y="206.9" width="2.4" height="1.6" fill="#33609c"/><rect x="121.7" y="206.9" width="1.0" height="1.6" fill="#5a84bd"/><rect x="123.5" y="206.9" width="0.6" height="1.6" fill="#21467a"/>
<rect x="127.1" y="205.8" width="2.4" height="3.4" fill="#33609c"/><rect x="127.1" y="205.8" width="1.0" height="3.4" fill="#5a84bd"/><rect x="128.9" y="205.8" width="0.6" height="3.4" fill="#21467a"/>
<rect x="132.5" y="207.5" width="2.4" height="2.4" fill="#33609c"/><rect x="132.5" y="207.5" width="1.0" height="2.4" fill="#5a84bd"/><rect x="134.3" y="207.5" width="0.6" height="2.4" fill="#21467a"/>
<rect x="137.9" y="208.4" width="2.4" height="2.2" fill="#33609c"/><rect x="137.9" y="208.4" width="1.0" height="2.2" fill="#5a84bd"/><rect x="139.7" y="208.4" width="0.6" height="2.2" fill="#21467a"/>
<rect x="143.3" y="208.9" width="2.4" height="2.4" fill="#33609c"/><rect x="143.3" y="208.9" width="1.0" height="2.4" fill="#5a84bd"/><rect x="145.1" y="208.9" width="0.6" height="2.4" fill="#21467a"/>
<rect x="148.7" y="209.9" width="2.4" height="2.1" fill="#33609c"/><rect x="148.7" y="209.9" width="1.0" height="2.1" fill="#5a84bd"/><rect x="150.5" y="209.9" width="0.6" height="2.1" fill="#21467a"/>
<rect x="159.5" y="210.5" width="2.4" height="2.8" fill="#33609c"/><rect x="159.5" y="210.5" width="1.0" height="2.8" fill="#5a84bd"/><rect x="161.3" y="210.5" width="0.6" height="2.8" fill="#21467a"/>
<rect x="164.8" y="210.6" width="2.4" height="3.4" fill="#33609c"/><rect x="164.8" y="210.6" width="1.0" height="3.4" fill="#5a84bd"/><rect x="166.6" y="210.6" width="0.6" height="3.4" fill="#21467a"/>
<rect x="191.8" y="214.0" width="2.4" height="3.4" fill="#33609c"/><rect x="191.8" y="214.0" width="1.0" height="3.4" fill="#5a84bd"/><rect x="193.6" y="214.0" width="0.6" height="3.4" fill="#21467a"/>
<rect x="240.3" y="222.3" width="2.4" height="1.3" fill="#33609c"/><rect x="240.3" y="222.3" width="1.0" height="1.3" fill="#5a84bd"/><rect x="242.1" y="222.3" width="0.6" height="1.3" fill="#21467a"/>
<rect x="245.7" y="221.9" width="2.4" height="2.4" fill="#33609c"/><rect x="245.7" y="221.9" width="1.0" height="2.4" fill="#5a84bd"/><rect x="247.5" y="221.9" width="0.6" height="2.4" fill="#21467a"/>
<rect x="251.1" y="221.5" width="2.4" height="3.5" fill="#33609c"/><rect x="251.1" y="221.5" width="1.0" height="3.5" fill="#5a84bd"/><rect x="252.9" y="221.5" width="0.6" height="3.5" fill="#21467a"/>
<text x="105.20" y="131.70" font-size="6.1" font-weight="bold" text-anchor="end" fill="#111" style="stroke-width:0.4px">10</text>
<text x="105.88" y="148.10" font-size="6.1" font-weight="bold" text-anchor="end" fill="#111" style="stroke-width:0.4px">8</text>
<text x="106.56" y="164.10" font-size="6.1" font-weight="bold" text-anchor="end" fill="#111" style="stroke-width:0.4px">6</text>
<text x="107.24" y="180.70" font-size="6.1" font-weight="bold" text-anchor="end" fill="#111" style="stroke-width:0.4px">4</text>
<text x="107.92" y="196.70" font-size="6.1" font-weight="bold" text-anchor="end" fill="#111" style="stroke-width:0.4px">2</text>
<text x="108.60" y="212.10" font-size="6.1" font-weight="bold" text-anchor="end" fill="#111" style="stroke-width:0.4px">0</text>
<text x="98.20" y="171.00" font-size="6.0" font-weight="bold" text-anchor="middle" fill="#111" transform="rotate(-90 98.20 171.00)" style="stroke-width:0.4px" textLength="34.5" lengthAdjust="spacingAndGlyphs">% Frequency</text>
<line x1="231.1" y1="227.0" x2="205.3" y2="223.9" stroke="#111" stroke-width="1.6"/><polygon points="201.3,223.4 206.6,221.3 205.9,226.7" fill="#111"/>
<line x1="265.9" y1="220.3" x2="271.4" y2="212.6" stroke="#111" stroke-width="1.6"/><polygon points="273.7,209.3 273.0,214.9 268.6,211.8" fill="#111"/>
<text x="234.60" y="232.20" font-size="6.0" font-weight="bold" text-anchor="start" fill="#111" transform="rotate(7 234.60 232.20)" style="stroke-width:0.45px" textLength="21.6" lengthAdjust="spacingAndGlyphs">V Family</text>
<text x="259.80" y="228.60" font-size="6.0" font-weight="bold" text-anchor="start" fill="#111" style="stroke-width:0.45px" textLength="16.4" lengthAdjust="spacingAndGlyphs">J Gene</text>
<rect x="285.8" y="106.2" width="197.8" height="135.8" fill="#fff" stroke="#bcbcbc" stroke-width="1.4"/>
<linearGradient id="sw2" x1="0" y1="0" x2="1" y2="0"><stop offset="0" stop-color="#9e9e9e"/><stop offset="1" stop-color="#b0b0b0"/></linearGradient>
<polygon points="308.0,130.8 341.4,120.2 341.3,193.2 309.5,208.2" fill="url(#sw2)"/>
<polygon points="341.4,120.2 477.6,125.3 475.5,203.0 341.3,193.2" fill="#e9ecf5"/>
<line x1="341.3" y1="178.6" x2="475.9" y2="187.5" stroke="#c3c7d1" stroke-width="0.9"/>
<line x1="341.3" y1="164.0" x2="476.3" y2="171.9" stroke="#c3c7d1" stroke-width="0.9"/>
<line x1="341.4" y1="149.4" x2="476.8" y2="156.4" stroke="#c3c7d1" stroke-width="0.9"/>
<line x1="341.4" y1="134.8" x2="477.2" y2="140.8" stroke="#c3c7d1" stroke-width="0.9"/>
<line x1="341.4" y1="120.2" x2="477.6" y2="125.3" stroke="#c3c7d1" stroke-width="0.9"/>
<polygon points="309.5,208.2 461.6,225.3 475.5,203.0 341.3,193.2" fill="#a7adb6"/>
<path d="M315.1 208.8L346.3 193.6M320.8 209.5L351.2 193.9M326.4 210.1L356.2 194.3M332.0 210.7L361.2 194.7M337.7 211.4L366.2 195.0M343.3 212.0L371.1 195.4M348.9 212.6L376.1 195.7M354.6 213.3L381.1 196.1M360.2 213.9L386.0 196.5M365.8 214.5L391.0 196.8M371.5 215.2L396.0 197.2M377.1 215.8L400.9 197.6M382.7 216.4L405.9 197.9M388.4 217.1L410.9 198.3M394.0 217.7L415.9 198.6M399.6 218.3L420.8 199.0M405.3 219.0L425.8 199.4M410.9 219.6L430.8 199.7M416.5 220.2L435.7 200.1M422.2 220.9L440.7 200.5M427.8 221.5L445.7 200.8M433.4 222.1L450.6 201.2M439.1 222.8L455.6 201.5M444.7 223.4L460.6 201.9M450.3 224.0L465.6 202.3M456.0 224.7L470.5 202.6M461.6 225.3L475.5 203.0" stroke="#cfd5de" stroke-width="1.3" fill="none"/>
<path d="M341.3 194.6L343.2 193.7M346.3 195.0L348.1 194.1M351.3 195.4L353.1 194.4M356.3 195.7L358.1 194.8M361.4 196.1L363.1 195.2M366.4 196.5L368.1 195.5M371.4 196.9L373.1 195.9M376.4 197.3L378.0 196.3M381.5 197.7L383.0 196.6M386.5 198.1L388.0 197.0M391.5 198.4L393.0 197.4M396.5 198.8L398.0 197.7M401.5 199.2L403.0 198.1M406.6 199.6L407.9 198.5M411.6 200.0L412.9 198.8M416.6 200.4L417.9 199.2M421.6 200.7L422.9 199.6M426.7 201.1L427.9 199.9M431.7 201.5L432.9 200.3M436.7 201.9L437.8 200.7M441.7 202.3L442.8 201.1M446.8 202.7L447.8 201.4M451.8 203.1L452.8 201.8M456.8 203.4L457.8 202.2M461.8 203.8L462.8 202.5M466.9 204.2L467.7 202.9M471.9 204.6L472.7 203.3M338.1 196.1L340.0 195.2M343.2 196.5L345.1 195.6M348.3 196.9L350.1 196.0M353.4 197.3L355.2 196.4M358.5 197.8L360.2 196.8M363.6 198.2L365.3 197.2M368.7 198.6L370.3 197.6M373.7 199.0L375.4 198.0M378.8 199.4L380.4 198.4M383.9 199.8L385.5 198.8M389.0 200.2L390.5 199.2M394.1 200.6L395.6 199.5M399.2 201.0L400.6 199.9M404.3 201.5L405.7 200.3M409.4 201.9L410.7 200.7M414.5 202.3L415.8 201.1M419.6 202.7L420.8 201.5M424.6 203.1L425.9 201.9M429.7 203.5L430.9 202.3M434.8 203.9L436.0 202.7M439.9 204.3L441.0 203.1M445.0 204.8L446.1 203.5M450.1 205.2L451.1 203.9M455.2 205.6L456.2 204.3M460.3 206.0L461.2 204.7M465.4 206.4L466.3 205.1M470.5 206.8L471.3 205.5M335.0 197.6L336.9 196.7M340.1 198.1L342.0 197.1M345.3 198.5L347.1 197.6M350.4 198.9L352.2 198.0M355.6 199.4L357.3 198.4M360.8 199.8L362.4 198.8M365.9 200.3L367.6 199.2M371.1 200.7L372.7 199.7M376.2 201.1L377.8 200.1M381.4 201.6L382.9 200.5M386.5 202.0L388.0 200.9M391.7 202.4L393.1 201.4M396.8 202.9L398.3 201.8M402.0 203.3L403.4 202.2M407.2 203.8L408.5 202.6M412.3 204.2L413.6 203.0M417.5 204.6L418.7 203.5M422.6 205.1L423.8 203.9M427.8 205.5L429.0 204.3M432.9 206.0L434.1 204.7M438.1 206.4L439.2 205.2M443.2 206.8L444.3 205.6M448.4 207.3L449.4 206.0M453.6 207.7L454.5 206.4M458.7 208.1L459.7 206.8M463.9 208.6L464.8 207.3M469.0 209.0L469.9 207.7M331.8 199.1L333.7 198.2M337.0 199.6L338.9 198.7M342.3 200.1L344.1 199.1M347.5 200.5L349.3 199.6M352.7 201.0L354.4 200.0M357.9 201.5L359.6 200.5M363.2 201.9L364.8 200.9M368.4 202.4L370.0 201.4M373.6 202.9L375.2 201.8M378.8 203.3L380.4 202.3M384.1 203.8L385.5 202.7M389.3 204.3L390.7 203.2M394.5 204.7L395.9 203.6M399.7 205.2L401.1 204.1M404.9 205.7L406.3 204.5M410.2 206.1L411.5 205.0M415.4 206.6L416.6 205.4M420.6 207.0L421.8 205.9M425.8 207.5L427.0 206.3M431.1 208.0L432.2 206.8M436.3 208.4L437.4 207.2M441.5 208.9L442.5 207.7M446.7 209.4L447.7 208.1M451.9 209.8L452.9 208.6M457.2 210.3L458.1 209.0M462.4 210.8L463.3 209.5M467.6 211.2L468.5 209.9M328.7 200.6L330.6 199.7M334.0 201.1L335.8 200.2M339.3 201.6L341.1 200.7M344.5 202.1L346.3 201.2M349.8 202.6L351.6 201.6M355.1 203.1L356.8 202.1M360.4 203.6L362.1 202.6M365.7 204.1L367.3 203.1M371.0 204.6L372.6 203.6M376.3 205.1L377.8 204.0M381.6 205.6L383.1 204.5M386.9 206.1L388.3 205.0M392.1 206.6L393.6 205.5M397.4 207.1L398.8 205.9M402.7 207.5L404.1 206.4M408.0 208.0L409.3 206.9M413.3 208.5L414.5 207.4M418.6 209.0L419.8 207.8M423.9 209.5L425.0 208.3M429.2 210.0L430.3 208.8M434.5 210.5L435.5 209.3M439.7 211.0L440.8 209.7M445.0 211.5L446.0 210.2M450.3 212.0L451.3 210.7M455.6 212.5L456.5 211.2M460.9 213.0L461.8 211.7M466.2 213.5L467.0 212.1M325.5 202.2L327.4 201.3M330.9 202.7L332.7 201.8M336.2 203.2L338.1 202.3M341.6 203.7L343.4 202.8M347.0 204.2L348.7 203.3M352.3 204.8L354.0 203.8M357.7 205.3L359.3 204.3M363.0 205.8L364.6 204.8M368.4 206.3L369.9 205.3M373.7 206.8L375.3 205.8M379.1 207.4L380.6 206.3M384.4 207.9L385.9 206.8M389.8 208.4L391.2 207.3M395.1 208.9L396.5 207.8M400.5 209.4L401.8 208.3M405.9 210.0L407.1 208.8M411.2 210.5L412.5 209.3M416.6 211.0L417.8 209.8M421.9 211.5L423.1 210.3M427.3 212.0L428.4 210.8M432.6 212.6L433.7 211.3M438.0 213.1L439.0 211.8M443.3 213.6L444.4 212.3M448.7 214.1L449.7 212.8M454.1 214.6L455.0 213.3M459.4 215.2L460.3 213.8M464.8 215.7L465.6 214.3M322.4 203.7L324.3 202.8M327.8 204.2L329.7 203.3M333.2 204.8L335.0 203.8M338.7 205.3L340.4 204.4M344.1 205.9L345.8 204.9M349.5 206.4L351.2 205.4M354.9 207.0L356.6 205.9M360.3 207.5L361.9 206.5M365.8 208.0L367.3 207.0M371.2 208.6L372.7 207.5M376.6 209.1L378.1 208.1M382.0 209.7L383.5 208.6M387.4 210.2L388.9 209.1M392.9 210.8L394.2 209.7M398.3 211.3L399.6 210.2M403.7 211.9L405.0 210.7M409.1 212.4L410.4 211.3M414.5 213.0L415.8 211.8M420.0 213.5L421.1 212.3M425.4 214.1L426.5 212.8M430.8 214.6L431.9 213.4M436.2 215.2L437.3 213.9M441.7 215.7L442.7 214.4M447.1 216.3L448.0 215.0M452.5 216.8L453.4 215.5M457.9 217.3L458.8 216.0M463.3 217.9L464.2 216.6M319.2 205.2L321.1 204.3M324.7 205.8L326.6 204.8M330.2 206.3L332.0 205.4M335.7 206.9L337.5 206.0M341.2 207.5L342.9 206.5M346.7 208.1L348.4 207.1M352.2 208.6L353.8 207.6M357.7 209.2L359.3 208.2M363.1 209.8L364.7 208.7M368.6 210.4L370.2 209.3M374.1 210.9L375.6 209.9M379.6 211.5L381.1 210.4M385.1 212.1L386.5 211.0M390.6 212.6L391.9 211.5M396.1 213.2L397.4 212.1M401.6 213.8L402.8 212.6M407.0 214.4L408.3 213.2M412.5 214.9L413.7 213.8M418.0 215.5L419.2 214.3M423.5 216.1L424.6 214.9M429.0 216.7L430.1 215.4M434.5 217.2L435.5 216.0M440.0 217.8L441.0 216.5M445.5 218.4L446.4 217.1M450.9 219.0L451.9 217.7M456.4 219.5L457.3 218.2M461.9 220.1L462.8 218.8M316.1 206.7L318.0 205.8M321.6 207.3L323.5 206.4M327.2 207.9L329.0 207.0M332.8 208.5L334.5 207.5M338.3 209.1L340.0 208.1M343.9 209.7L345.6 208.7M349.4 210.3L351.1 209.3M355.0 210.9L356.6 209.9M360.5 211.5L362.1 210.5M366.1 212.1L367.6 211.1M371.6 212.7L373.1 211.6M377.2 213.3L378.6 212.2M382.7 213.9L384.1 212.8M388.3 214.5L389.7 213.4M393.8 215.1L395.2 214.0M399.4 215.7L400.7 214.6M405.0 216.3L406.2 215.1M410.5 216.9L411.7 215.7M416.1 217.5L417.2 216.3M421.6 218.1L422.7 216.9M427.2 218.7L428.3 217.5M432.7 219.3L433.8 218.1M438.3 219.9L439.3 218.7M443.8 220.5L444.8 219.2M449.4 221.1L450.3 219.8M454.9 221.7L455.8 220.4M460.5 222.3L461.3 221.0M312.9 208.2L314.8 207.3M318.6 208.8L320.4 207.9M324.2 209.5L326.0 208.5M329.8 210.1L331.6 209.1M335.4 210.7L337.2 209.8M341.0 211.4L342.7 210.4M346.7 212.0L348.3 211.0M352.3 212.6L353.9 211.6M357.9 213.2L359.5 212.2M363.5 213.9L365.1 212.8M369.1 214.5L370.6 213.4M374.8 215.1L376.2 214.0M380.4 215.7L381.8 214.6M386.0 216.4L387.4 215.3M391.6 217.0L393.0 215.9M397.2 217.6L398.5 216.5M402.9 218.3L404.1 217.1M408.5 218.9L409.7 217.7M414.1 219.5L415.3 218.3M419.7 220.1L420.9 218.9M425.3 220.8L426.4 219.5M431.0 221.4L432.0 220.2M436.6 222.0L437.6 220.8M442.2 222.7L443.2 221.4M447.8 223.3L448.8 222.0M453.4 223.9L454.3 222.6M459.1 224.5L459.9 223.2" stroke="#2f4a76" stroke-width="1.4" fill="none"/>
<rect x="346.0" y="191.6" width="2.4" height="2.9" fill="#33609c"/><rect x="346.0" y="191.6" width="1.0" height="2.9" fill="#5a84bd"/><rect x="347.8" y="191.6" width="0.6" height="2.9" fill="#21467a"/>
<rect x="356.0" y="193.4" width="2.4" height="1.8" fill="#33609c"/><rect x="356.0" y="193.4" width="1.0" height="1.8" fill="#5a84bd"/><rect x="357.8" y="193.4" width="0.6" height="1.8" fill="#21467a"/>
<rect x="391.0" y="195.9" width="2.4" height="2.0" fill="#33609c"/><rect x="391.0" y="195.9" width="1.0" height="2.0" fill="#5a84bd"/><rect x="392.8" y="195.9" width="0.6" height="2.0" fill="#21467a"/>
<rect x="396.1" y="196.0" width="2.4" height="2.3" fill="#33609c"/><rect x="396.1" y="196.0" width="1.0" height="2.3" fill="#5a84bd"/><rect x="397.9" y="196.0" width="0.6" height="2.3" fill="#21467a"/>
<rect x="455.1" y="198.0" width="1.9" height="6.0" fill="#33609c"/><rect x="455.1" y="198.0" width="0.8" height="6.0" fill="#5a84bd"/><rect x="456.3" y="198.0" width="0.6" height="6.0" fill="#21467a"/>
<rect x="461.1" y="201.0" width="1.9" height="4.0" fill="#33609c"/><rect x="461.1" y="201.0" width="0.8" height="4.0" fill="#5a84bd"/><rect x="462.3" y="201.0" width="0.6" height="4.0" fill="#21467a"/>
<rect x="468.7" y="201.0" width="1.9" height="4.0" fill="#33609c"/><rect x="468.7" y="201.0" width="0.8" height="4.0" fill="#5a84bd"/><rect x="469.9" y="201.0" width="0.6" height="4.0" fill="#21467a"/>
<rect x="343.1" y="150.8" width="2.1" height="54.2" fill="#33609c"/><rect x="343.1" y="150.8" width="0.8" height="54.2" fill="#5a84bd"/><rect x="344.6" y="150.8" width="0.6" height="54.2" fill="#21467a"/>
<rect x="349.1" y="180.0" width="1.9" height="24.0" fill="#33609c"/><rect x="349.1" y="180.0" width="0.8" height="24.0" fill="#5a84bd"/><rect x="350.3" y="180.0" width="0.6" height="24.0" fill="#21467a"/>
<rect x="354.6" y="183.0" width="1.9" height="21.0" fill="#33609c"/><rect x="354.6" y="183.0" width="0.8" height="21.0" fill="#5a84bd"/><rect x="355.8" y="183.0" width="0.6" height="21.0" fill="#21467a"/>
<rect x="358.1" y="186.0" width="1.9" height="18.0" fill="#33609c"/><rect x="358.1" y="186.0" width="0.8" height="18.0" fill="#5a84bd"/><rect x="359.3" y="186.0" width="0.6" height="18.0" fill="#21467a"/>
<rect x="363.1" y="181.0" width="1.9" height="24.0" fill="#33609c"/><rect x="363.1" y="181.0" width="0.8" height="24.0" fill="#5a84bd"/><rect x="364.3" y="181.0" width="0.6" height="24.0" fill="#21467a"/>
<rect x="366.6" y="172.5" width="1.9" height="32.5" fill="#33609c"/><rect x="366.6" y="172.5" width="0.8" height="32.5" fill="#5a84bd"/><rect x="367.8" y="172.5" width="0.6" height="32.5" fill="#21467a"/>
<rect x="371.1" y="179.0" width="1.9" height="26.0" fill="#33609c"/><rect x="371.1" y="179.0" width="0.8" height="26.0" fill="#5a84bd"/><rect x="372.3" y="179.0" width="0.6" height="26.0" fill="#21467a"/>
<rect x="377.1" y="190.0" width="1.9" height="16.0" fill="#33609c"/><rect x="377.1" y="190.0" width="0.8" height="16.0" fill="#5a84bd"/><rect x="378.3" y="190.0" width="0.6" height="16.0" fill="#21467a"/>
<rect x="381.1" y="192.0" width="1.9" height="14.0" fill="#33609c"/><rect x="381.1" y="192.0" width="0.8" height="14.0" fill="#5a84bd"/><rect x="382.3" y="192.0" width="0.6" height="14.0" fill="#21467a"/>
<rect x="386.1" y="193.0" width="1.9" height="13.0" fill="#33609c"/><rect x="386.1" y="193.0" width="0.8" height="13.0" fill="#5a84bd"/><rect x="387.3" y="193.0" width="0.6" height="13.0" fill="#21467a"/>
<rect x="337.9" y="193.8" width="2.4" height="1.9" fill="#33609c"/><rect x="337.9" y="193.8" width="1.0" height="1.9" fill="#5a84bd"/><rect x="339.7" y="193.8" width="0.6" height="1.9" fill="#21467a"/>
<rect x="348.0" y="192.8" width="2.4" height="3.7" fill="#33609c"/><rect x="348.0" y="192.8" width="1.0" height="3.7" fill="#5a84bd"/><rect x="349.8" y="192.8" width="0.6" height="3.7" fill="#21467a"/>
<rect x="358.1" y="193.5" width="2.4" height="3.8" fill="#33609c"/><rect x="358.1" y="193.5" width="1.0" height="3.8" fill="#5a84bd"/><rect x="359.9" y="193.5" width="0.6" height="3.8" fill="#21467a"/>
<rect x="393.6" y="197.2" width="2.4" height="2.9" fill="#33609c"/><rect x="393.6" y="197.2" width="1.0" height="2.9" fill="#5a84bd"/><rect x="395.4" y="197.2" width="0.6" height="2.9" fill="#21467a"/>
<rect x="403.8" y="198.8" width="2.4" height="2.1" fill="#33609c"/><rect x="403.8" y="198.8" width="1.0" height="2.1" fill="#5a84bd"/><rect x="405.6" y="198.8" width="0.6" height="2.1" fill="#21467a"/>
<rect x="413.9" y="199.9" width="2.4" height="1.8" fill="#33609c"/><rect x="413.9" y="199.9" width="1.0" height="1.8" fill="#5a84bd"/><rect x="415.7" y="199.9" width="0.6" height="1.8" fill="#21467a"/>
<rect x="469.7" y="203.0" width="2.4" height="3.1" fill="#33609c"/><rect x="469.7" y="203.0" width="1.0" height="3.1" fill="#5a84bd"/><rect x="471.5" y="203.0" width="0.6" height="3.1" fill="#21467a"/>
<rect x="334.7" y="194.5" width="2.4" height="2.7" fill="#33609c"/><rect x="334.7" y="194.5" width="1.0" height="2.7" fill="#5a84bd"/><rect x="336.5" y="194.5" width="0.6" height="2.7" fill="#21467a"/>
<rect x="339.9" y="195.3" width="2.4" height="2.3" fill="#33609c"/><rect x="339.9" y="195.3" width="1.0" height="2.3" fill="#5a84bd"/><rect x="341.7" y="195.3" width="0.6" height="2.3" fill="#21467a"/>
<rect x="345.0" y="193.4" width="2.4" height="4.6" fill="#33609c"/><rect x="345.0" y="193.4" width="1.0" height="4.6" fill="#5a84bd"/><rect x="346.8" y="193.4" width="0.6" height="4.6" fill="#21467a"/>
<rect x="350.1" y="193.0" width="2.4" height="5.5" fill="#33609c"/><rect x="350.1" y="193.0" width="1.0" height="5.5" fill="#5a84bd"/><rect x="351.9" y="193.0" width="0.6" height="5.5" fill="#21467a"/>
<rect x="365.5" y="193.8" width="2.4" height="6.0" fill="#33609c"/><rect x="365.5" y="193.8" width="1.0" height="6.0" fill="#5a84bd"/><rect x="367.3" y="193.8" width="0.6" height="6.0" fill="#21467a"/>
<rect x="375.8" y="198.5" width="2.4" height="2.1" fill="#33609c"/><rect x="375.8" y="198.5" width="1.0" height="2.1" fill="#5a84bd"/><rect x="377.6" y="198.5" width="0.6" height="2.1" fill="#21467a"/>
<rect x="391.2" y="198.8" width="2.4" height="3.2" fill="#33609c"/><rect x="391.2" y="198.8" width="1.0" height="3.2" fill="#5a84bd"/><rect x="393.0" y="198.8" width="0.6" height="3.2" fill="#21467a"/>
<rect x="422.0" y="202.1" width="2.4" height="2.4" fill="#33609c"/><rect x="422.0" y="202.1" width="1.0" height="2.4" fill="#5a84bd"/><rect x="423.8" y="202.1" width="0.6" height="2.4" fill="#21467a"/>
<rect x="452.8" y="204.4" width="2.4" height="2.6" fill="#33609c"/><rect x="452.8" y="204.4" width="1.0" height="2.6" fill="#5a84bd"/><rect x="454.6" y="204.4" width="0.6" height="2.6" fill="#21467a"/>
<rect x="331.6" y="196.5" width="2.4" height="2.2" fill="#33609c"/><rect x="331.6" y="196.5" width="1.0" height="2.2" fill="#5a84bd"/><rect x="333.4" y="196.5" width="0.6" height="2.2" fill="#21467a"/>
<rect x="342.0" y="194.0" width="2.4" height="5.6" fill="#33609c"/><rect x="342.0" y="194.0" width="1.0" height="5.6" fill="#5a84bd"/><rect x="343.8" y="194.0" width="0.6" height="5.6" fill="#21467a"/>
<rect x="347.2" y="197.8" width="2.4" height="2.3" fill="#33609c"/><rect x="347.2" y="197.8" width="1.0" height="2.3" fill="#5a84bd"/><rect x="349.0" y="197.8" width="0.6" height="2.3" fill="#21467a"/>
<rect x="352.4" y="193.3" width="2.4" height="7.3" fill="#33609c"/><rect x="352.4" y="193.3" width="1.0" height="7.3" fill="#5a84bd"/><rect x="354.2" y="193.3" width="0.6" height="7.3" fill="#21467a"/>
<rect x="357.6" y="193.5" width="2.4" height="7.4" fill="#33609c"/><rect x="357.6" y="193.5" width="1.0" height="7.4" fill="#5a84bd"/><rect x="359.4" y="193.5" width="0.6" height="7.4" fill="#21467a"/>
<rect x="373.2" y="200.4" width="2.4" height="2.0" fill="#33609c"/><rect x="373.2" y="200.4" width="1.0" height="2.0" fill="#5a84bd"/><rect x="375.0" y="200.4" width="0.6" height="2.0" fill="#21467a"/>
<rect x="383.6" y="200.6" width="2.4" height="2.6" fill="#33609c"/><rect x="383.6" y="200.6" width="1.0" height="2.6" fill="#5a84bd"/><rect x="385.4" y="200.6" width="0.6" height="2.6" fill="#21467a"/>
<rect x="388.8" y="200.6" width="2.4" height="3.1" fill="#33609c"/><rect x="388.8" y="200.6" width="1.0" height="3.1" fill="#5a84bd"/><rect x="390.6" y="200.6" width="0.6" height="3.1" fill="#21467a"/>
<rect x="404.4" y="202.4" width="2.4" height="2.7" fill="#33609c"/><rect x="404.4" y="202.4" width="1.0" height="2.7" fill="#5a84bd"/><rect x="406.2" y="202.4" width="0.6" height="2.7" fill="#21467a"/>
<rect x="328.4" y="198.1" width="2.4" height="2.1" fill="#33609c"/><rect x="328.4" y="198.1" width="1.0" height="2.1" fill="#5a84bd"/><rect x="330.2" y="198.1" width="0.6" height="2.1" fill="#21467a"/>
<rect x="339.0" y="197.4" width="2.4" height="3.7" fill="#33609c"/><rect x="339.0" y="197.4" width="1.0" height="3.7" fill="#5a84bd"/><rect x="340.8" y="197.4" width="0.6" height="3.7" fill="#21467a"/>
<rect x="354.8" y="199.1" width="2.4" height="3.6" fill="#33609c"/><rect x="354.8" y="199.1" width="1.0" height="3.6" fill="#5a84bd"/><rect x="356.6" y="199.1" width="0.6" height="3.6" fill="#21467a"/>
<rect x="370.6" y="202.2" width="2.4" height="1.9" fill="#33609c"/><rect x="370.6" y="202.2" width="1.0" height="1.9" fill="#5a84bd"/><rect x="372.4" y="202.2" width="0.6" height="1.9" fill="#21467a"/>
<rect x="396.9" y="203.2" width="2.4" height="3.3" fill="#33609c"/><rect x="396.9" y="203.2" width="1.0" height="3.3" fill="#5a84bd"/><rect x="398.7" y="203.2" width="0.6" height="3.3" fill="#21467a"/>
<rect x="407.5" y="206.1" width="2.4" height="1.4" fill="#33609c"/><rect x="407.5" y="206.1" width="1.0" height="1.4" fill="#5a84bd"/><rect x="409.3" y="206.1" width="0.6" height="1.4" fill="#21467a"/>
<rect x="460.1" y="206.9" width="2.4" height="5.4" fill="#33609c"/><rect x="460.1" y="206.9" width="1.0" height="5.4" fill="#5a84bd"/><rect x="461.9" y="206.9" width="0.6" height="5.4" fill="#21467a"/>
<rect x="465.4" y="209.3" width="2.4" height="3.5" fill="#33609c"/><rect x="465.4" y="209.3" width="1.0" height="3.5" fill="#5a84bd"/><rect x="467.2" y="209.3" width="0.6" height="3.5" fill="#21467a"/>
<rect x="325.3" y="198.0" width="2.4" height="3.7" fill="#33609c"/><rect x="325.3" y="198.0" width="1.0" height="3.7" fill="#5a84bd"/><rect x="327.1" y="198.0" width="0.6" height="3.7" fill="#21467a"/>
<rect x="335.9" y="196.8" width="2.4" height="6.0" fill="#33609c"/><rect x="335.9" y="196.8" width="1.0" height="6.0" fill="#5a84bd"/><rect x="337.7" y="196.8" width="0.6" height="6.0" fill="#21467a"/>
<rect x="341.3" y="199.5" width="2.4" height="3.7" fill="#33609c"/><rect x="341.3" y="199.5" width="1.0" height="3.7" fill="#5a84bd"/><rect x="343.1" y="199.5" width="0.6" height="3.7" fill="#21467a"/>
<rect x="352.0" y="201.1" width="2.4" height="3.2" fill="#33609c"/><rect x="352.0" y="201.1" width="1.0" height="3.2" fill="#5a84bd"/><rect x="353.8" y="201.1" width="0.6" height="3.2" fill="#21467a"/>
<rect x="357.3" y="200.5" width="2.4" height="4.3" fill="#33609c"/><rect x="357.3" y="200.5" width="1.0" height="4.3" fill="#5a84bd"/><rect x="359.1" y="200.5" width="0.6" height="4.3" fill="#21467a"/>
<rect x="368.0" y="203.1" width="2.4" height="2.7" fill="#33609c"/><rect x="368.0" y="203.1" width="1.0" height="2.7" fill="#5a84bd"/><rect x="369.8" y="203.1" width="0.6" height="2.7" fill="#21467a"/>
<rect x="394.6" y="206.0" width="2.4" height="2.4" fill="#33609c"/><rect x="394.6" y="206.0" width="1.0" height="2.4" fill="#5a84bd"/><rect x="396.4" y="206.0" width="0.6" height="2.4" fill="#21467a"/>
<rect x="405.3" y="206.9" width="2.4" height="2.4" fill="#33609c"/><rect x="405.3" y="206.9" width="1.0" height="2.4" fill="#5a84bd"/><rect x="407.1" y="206.9" width="0.6" height="2.4" fill="#21467a"/>
<rect x="421.3" y="207.9" width="2.4" height="3.0" fill="#33609c"/><rect x="421.3" y="207.9" width="1.0" height="3.0" fill="#5a84bd"/><rect x="423.1" y="207.9" width="0.6" height="3.0" fill="#21467a"/>
<rect x="426.6" y="208.1" width="2.4" height="3.3" fill="#33609c"/><rect x="426.6" y="208.1" width="1.0" height="3.3" fill="#5a84bd"/><rect x="428.4" y="208.1" width="0.6" height="3.3" fill="#21467a"/>
<rect x="432.0" y="207.5" width="2.4" height="4.4" fill="#33609c"/><rect x="432.0" y="207.5" width="1.0" height="4.4" fill="#5a84bd"/><rect x="433.8" y="207.5" width="0.6" height="4.4" fill="#21467a"/>
<rect x="464.0" y="213.6" width="2.4" height="1.4" fill="#33609c"/><rect x="464.0" y="213.6" width="1.0" height="1.4" fill="#5a84bd"/><rect x="465.8" y="213.6" width="0.6" height="1.4" fill="#21467a"/>
<rect x="332.9" y="199.1" width="2.4" height="5.2" fill="#33609c"/><rect x="332.9" y="199.1" width="1.0" height="5.2" fill="#5a84bd"/><rect x="334.7" y="199.1" width="0.6" height="5.2" fill="#21467a"/>
<rect x="343.7" y="200.2" width="2.4" height="5.1" fill="#33609c"/><rect x="343.7" y="200.2" width="1.0" height="5.1" fill="#5a84bd"/><rect x="345.5" y="200.2" width="0.6" height="5.1" fill="#21467a"/>
<rect x="349.1" y="199.9" width="2.4" height="6.0" fill="#33609c"/><rect x="349.1" y="199.9" width="1.0" height="6.0" fill="#5a84bd"/><rect x="350.9" y="199.9" width="0.6" height="6.0" fill="#21467a"/>
<rect x="365.3" y="205.2" width="2.4" height="2.3" fill="#33609c"/><rect x="365.3" y="205.2" width="1.0" height="2.3" fill="#5a84bd"/><rect x="367.1" y="205.2" width="0.6" height="2.3" fill="#21467a"/>
<rect x="376.1" y="205.3" width="2.4" height="3.3" fill="#33609c"/><rect x="376.1" y="205.3" width="1.0" height="3.3" fill="#5a84bd"/><rect x="377.9" y="205.3" width="0.6" height="3.3" fill="#21467a"/>
<rect x="381.5" y="206.0" width="2.4" height="3.1" fill="#33609c"/><rect x="381.5" y="206.0" width="1.0" height="3.1" fill="#5a84bd"/><rect x="383.3" y="206.0" width="0.6" height="3.1" fill="#21467a"/>
<rect x="403.2" y="209.6" width="2.4" height="1.7" fill="#33609c"/><rect x="403.2" y="209.6" width="1.0" height="1.7" fill="#5a84bd"/><rect x="405.0" y="209.6" width="0.6" height="1.7" fill="#21467a"/>
<rect x="414.0" y="209.9" width="2.4" height="2.5" fill="#33609c"/><rect x="414.0" y="209.9" width="1.0" height="2.5" fill="#5a84bd"/><rect x="415.8" y="209.9" width="0.6" height="2.5" fill="#21467a"/>
<rect x="419.4" y="210.5" width="2.4" height="2.4" fill="#33609c"/><rect x="419.4" y="210.5" width="1.0" height="2.4" fill="#5a84bd"/><rect x="421.2" y="210.5" width="0.6" height="2.4" fill="#21467a"/>
<rect x="430.2" y="210.6" width="2.4" height="3.4" fill="#33609c"/><rect x="430.2" y="210.6" width="1.0" height="3.4" fill="#5a84bd"/><rect x="432.0" y="210.6" width="0.6" height="3.4" fill="#21467a"/>
<rect x="446.4" y="214.0" width="2.4" height="1.7" fill="#33609c"/><rect x="446.4" y="214.0" width="1.0" height="1.7" fill="#5a84bd"/><rect x="448.2" y="214.0" width="0.6" height="1.7" fill="#21467a"/>
<rect x="338.6" y="186.6" width="2.1" height="21.6" fill="#33609c"/><rect x="338.6" y="186.6" width="0.8" height="21.6" fill="#5a84bd"/><rect x="340.1" y="186.6" width="0.6" height="21.6" fill="#21467a"/>
<rect x="449.0" y="201.0" width="2" height="13.0" fill="#33609c"/><rect x="449.0" y="201.0" width="0.8" height="13.0" fill="#5a84bd"/><rect x="450.4" y="201.0" width="0.6" height="13.0" fill="#21467a"/>
<rect x="319.0" y="203.1" width="2.4" height="1.7" fill="#33609c"/><rect x="319.0" y="203.1" width="1.0" height="1.7" fill="#5a84bd"/><rect x="320.8" y="203.1" width="0.6" height="1.7" fill="#21467a"/>
<rect x="324.5" y="202.1" width="2.4" height="3.2" fill="#33609c"/><rect x="324.5" y="202.1" width="1.0" height="3.2" fill="#5a84bd"/><rect x="326.3" y="202.1" width="0.6" height="3.2" fill="#21467a"/>
<rect x="329.9" y="199.4" width="2.4" height="6.4" fill="#33609c"/><rect x="329.9" y="199.4" width="1.0" height="6.4" fill="#5a84bd"/><rect x="331.7" y="199.4" width="0.6" height="6.4" fill="#21467a"/>
<rect x="335.4" y="203.1" width="2.4" height="3.3" fill="#33609c"/><rect x="335.4" y="203.1" width="1.0" height="3.3" fill="#5a84bd"/><rect x="337.2" y="203.1" width="0.6" height="3.3" fill="#21467a"/>
<rect x="346.3" y="205.7" width="2.4" height="1.8" fill="#33609c"/><rect x="346.3" y="205.7" width="1.0" height="1.8" fill="#5a84bd"/><rect x="348.1" y="205.7" width="0.6" height="1.8" fill="#21467a"/>
<rect x="357.3" y="206.7" width="2.4" height="2.0" fill="#33609c"/><rect x="357.3" y="206.7" width="1.0" height="2.0" fill="#5a84bd"/><rect x="359.1" y="206.7" width="0.6" height="2.0" fill="#21467a"/>
<rect x="373.7" y="209.1" width="2.4" height="1.3" fill="#33609c"/><rect x="373.7" y="209.1" width="1.0" height="1.3" fill="#5a84bd"/><rect x="375.5" y="209.1" width="0.6" height="1.3" fill="#21467a"/>
<rect x="401.0" y="210.7" width="2.4" height="2.5" fill="#33609c"/><rect x="401.0" y="210.7" width="1.0" height="2.5" fill="#5a84bd"/><rect x="402.8" y="210.7" width="0.6" height="2.5" fill="#21467a"/>
<rect x="411.9" y="211.2" width="2.4" height="3.1" fill="#33609c"/><rect x="411.9" y="211.2" width="1.0" height="3.1" fill="#5a84bd"/><rect x="413.7" y="211.2" width="0.6" height="3.1" fill="#21467a"/>
<rect x="332.4" y="192.7" width="2.1" height="17.3" fill="#33609c"/><rect x="332.4" y="192.7" width="0.8" height="17.3" fill="#5a84bd"/><rect x="333.9" y="192.7" width="0.6" height="17.3" fill="#21467a"/>
<rect x="326.9" y="202.8" width="2.4" height="4.6" fill="#33609c"/><rect x="326.9" y="202.8" width="1.0" height="4.6" fill="#5a84bd"/><rect x="328.7" y="202.8" width="0.6" height="4.6" fill="#21467a"/>
<rect x="332.4" y="200.7" width="2.4" height="7.3" fill="#33609c"/><rect x="332.4" y="200.7" width="1.0" height="7.3" fill="#5a84bd"/><rect x="334.2" y="200.7" width="0.6" height="7.3" fill="#21467a"/>
<rect x="371.2" y="210.5" width="2.4" height="1.7" fill="#33609c"/><rect x="371.2" y="210.5" width="1.0" height="1.7" fill="#5a84bd"/><rect x="373.0" y="210.5" width="0.6" height="1.7" fill="#21467a"/>
<rect x="376.7" y="211.1" width="2.4" height="1.7" fill="#33609c"/><rect x="376.7" y="211.1" width="1.0" height="1.7" fill="#5a84bd"/><rect x="378.5" y="211.1" width="0.6" height="1.7" fill="#21467a"/>
<rect x="404.4" y="213.2" width="2.4" height="2.5" fill="#33609c"/><rect x="404.4" y="213.2" width="1.0" height="2.5" fill="#5a84bd"/><rect x="406.2" y="213.2" width="0.6" height="2.5" fill="#21467a"/>
<rect x="415.4" y="213.3" width="2.4" height="3.6" fill="#33609c"/><rect x="415.4" y="213.3" width="1.0" height="3.6" fill="#5a84bd"/><rect x="417.2" y="213.3" width="0.6" height="3.6" fill="#21467a"/>
<rect x="443.1" y="216.6" width="2.4" height="3.3" fill="#33609c"/><rect x="443.1" y="216.6" width="1.0" height="3.3" fill="#5a84bd"/><rect x="444.9" y="216.6" width="0.6" height="3.3" fill="#21467a"/>
<rect x="448.7" y="216.4" width="2.4" height="4.0" fill="#33609c"/><rect x="448.7" y="216.4" width="1.0" height="4.0" fill="#5a84bd"/><rect x="450.5" y="216.4" width="0.6" height="4.0" fill="#21467a"/>
<rect x="437.0" y="204.0" width="2" height="16.0" fill="#33609c"/><rect x="437.0" y="204.0" width="0.8" height="16.0" fill="#5a84bd"/><rect x="438.4" y="204.0" width="0.6" height="16.0" fill="#21467a"/>
<rect x="446.0" y="205.0" width="2" height="14.0" fill="#33609c"/><rect x="446.0" y="205.0" width="0.8" height="14.0" fill="#5a84bd"/><rect x="447.4" y="205.0" width="0.6" height="14.0" fill="#21467a"/>
<rect x="440.0" y="207.0" width="2" height="14.0" fill="#33609c"/><rect x="440.0" y="207.0" width="0.8" height="14.0" fill="#5a84bd"/><rect x="441.4" y="207.0" width="0.6" height="14.0" fill="#21467a"/>
<rect x="443.0" y="210.0" width="2" height="12.0" fill="#33609c"/><rect x="443.0" y="210.0" width="0.8" height="12.0" fill="#5a84bd"/><rect x="444.4" y="210.0" width="0.6" height="12.0" fill="#21467a"/>
<rect x="323.9" y="203.9" width="2.4" height="5.1" fill="#33609c"/><rect x="323.9" y="203.9" width="1.0" height="5.1" fill="#5a84bd"/><rect x="325.7" y="203.9" width="0.6" height="5.1" fill="#21467a"/>
<rect x="340.7" y="203.3" width="2.4" height="7.5" fill="#33609c"/><rect x="340.7" y="203.3" width="1.0" height="7.5" fill="#5a84bd"/><rect x="342.5" y="203.3" width="0.6" height="7.5" fill="#21467a"/>
<rect x="374.3" y="212.4" width="2.4" height="2.1" fill="#33609c"/><rect x="374.3" y="212.4" width="1.0" height="2.1" fill="#5a84bd"/><rect x="376.1" y="212.4" width="0.6" height="2.1" fill="#21467a"/>
<rect x="385.5" y="213.4" width="2.4" height="2.5" fill="#33609c"/><rect x="385.5" y="213.4" width="1.0" height="2.5" fill="#5a84bd"/><rect x="387.3" y="213.4" width="0.6" height="2.5" fill="#21467a"/>
<rect x="407.9" y="215.6" width="2.4" height="2.7" fill="#33609c"/><rect x="407.9" y="215.6" width="1.0" height="2.7" fill="#5a84bd"/><rect x="409.7" y="215.6" width="0.6" height="2.7" fill="#21467a"/>
<rect x="413.5" y="213.3" width="2.4" height="5.6" fill="#33609c"/><rect x="413.5" y="213.3" width="1.0" height="5.6" fill="#5a84bd"/><rect x="415.3" y="213.3" width="0.6" height="5.6" fill="#21467a"/>
<rect x="419.1" y="216.9" width="2.4" height="2.6" fill="#33609c"/><rect x="419.1" y="216.9" width="1.0" height="2.6" fill="#5a84bd"/><rect x="420.9" y="216.9" width="0.6" height="2.6" fill="#21467a"/>
<rect x="430.3" y="214.8" width="2.4" height="6.0" fill="#33609c"/><rect x="430.3" y="214.8" width="1.0" height="6.0" fill="#5a84bd"/><rect x="432.1" y="214.8" width="0.6" height="6.0" fill="#21467a"/>
<rect x="412.3" y="197.0" width="2.6" height="24.0" fill="#33609c"/><rect x="412.3" y="197.0" width="1.0" height="24.0" fill="#5a84bd"/><rect x="414.3" y="197.0" width="0.6" height="24.0" fill="#21467a"/>
<text x="303.80" y="133.50" font-size="6.1" font-weight="bold" text-anchor="end" fill="#111" style="stroke-width:0.4px">10</text>
<text x="304.40" y="149.40" font-size="6.1" font-weight="bold" text-anchor="end" fill="#111" style="stroke-width:0.4px">8</text>
<text x="305.00" y="165.30" font-size="6.1" font-weight="bold" text-anchor="end" fill="#111" style="stroke-width:0.4px">6</text>
<text x="305.60" y="180.70" font-size="6.1" font-weight="bold" text-anchor="end" fill="#111" style="stroke-width:0.4px">4</text>
<text x="306.20" y="195.90" font-size="6.1" font-weight="bold" text-anchor="end" fill="#111" style="stroke-width:0.4px">2</text>
<text x="306.80" y="211.20" font-size="6.1" font-weight="bold" text-anchor="end" fill="#111" style="stroke-width:0.4px">0</text>
<text x="296.20" y="169.50" font-size="6.0" font-weight="bold" text-anchor="middle" fill="#111" transform="rotate(-90 296.20 169.50)" style="stroke-width:0.4px" textLength="34.5" lengthAdjust="spacingAndGlyphs">% Frequency</text>
<line x1="431.7" y1="227.9" x2="403.6" y2="223.6" stroke="#111" stroke-width="1.6"/><polygon points="399.6,223.0 405.0,221.1 404.1,226.4" fill="#111"/>
<line x1="468.6" y1="221.5" x2="473.9" y2="212.1" stroke="#111" stroke-width="1.6"/><polygon points="475.9,208.6 475.8,214.3 471.1,211.6" fill="#111"/>
<text x="435.20" y="232.40" font-size="6.0" font-weight="bold" text-anchor="start" fill="#111" transform="rotate(7 435.20 232.40)" style="stroke-width:0.45px" textLength="21.6" lengthAdjust="spacingAndGlyphs">V Family</text>
<text x="462.20" y="229.20" font-size="6.0" font-weight="bold" text-anchor="start" fill="#111" style="stroke-width:0.45px" textLength="16.4" lengthAdjust="spacingAndGlyphs">J Gene</text>
<rect x="91.8" y="245.0" width="186.5" height="137.0" fill="#fff" stroke="#bcbcbc" stroke-width="1.4"/>
<linearGradient id="sw3" x1="0" y1="0" x2="1" y2="0"><stop offset="0" stop-color="#9e9e9e"/><stop offset="1" stop-color="#b0b0b0"/></linearGradient>
<polygon points="109.2,267.7 142.9,256.5 143.2,324.5 111.9,345.2" fill="url(#sw3)"/>
<polygon points="142.9,256.5 273.9,263.2 271.8,339.1 143.2,324.5" fill="#f5e7e7"/>
<line x1="143.1" y1="310.9" x2="272.2" y2="323.9" stroke="#d0c0c0" stroke-width="0.9"/>
<line x1="143.1" y1="297.3" x2="272.6" y2="308.7" stroke="#d0c0c0" stroke-width="0.9"/>
<line x1="143.0" y1="283.7" x2="273.1" y2="293.6" stroke="#d0c0c0" stroke-width="0.9"/>
<line x1="143.0" y1="270.1" x2="273.5" y2="278.4" stroke="#d0c0c0" stroke-width="0.9"/>
<line x1="142.9" y1="256.5" x2="273.9" y2="263.2" stroke="#d0c0c0" stroke-width="0.9"/>
<polygon points="111.9,345.2 258.6,366.8 271.8,339.1 143.2,324.5" fill="#bcb5b6"/>
<path d="M117.3 346.0L148.0 325.0M122.8 346.8L152.7 325.6M128.2 347.6L157.5 326.1M133.6 348.4L162.3 326.7M139.1 349.2L167.0 327.2M144.5 350.0L171.8 327.7M149.9 350.8L176.5 328.3M155.4 351.6L181.3 328.8M160.8 352.4L186.1 329.4M166.2 353.2L190.8 329.9M171.7 354.0L195.6 330.4M177.1 354.8L200.4 331.0M182.5 355.6L205.1 331.5M188.0 356.4L209.9 332.1M193.4 357.2L214.6 332.6M198.8 358.0L219.4 333.2M204.3 358.8L224.2 333.7M209.7 359.6L228.9 334.2M215.1 360.4L233.7 334.8M220.6 361.2L238.5 335.3M226.0 362.0L243.2 335.9M231.4 362.8L248.0 336.4M236.9 363.6L252.7 336.9M242.3 364.4L257.5 337.5M247.7 365.2L262.3 338.0M253.2 366.0L267.0 338.6M258.6 366.8L271.8 339.1" stroke="#e3d9da" stroke-width="1.3" fill="none"/>
<path d="M143.1 326.4L145.0 325.2M147.9 327.0L149.7 325.7M152.7 327.6L154.5 326.3M157.6 328.1L159.3 326.8M162.4 328.7L164.1 327.4M167.2 329.2L168.8 327.9M172.0 329.8L173.6 328.5M176.8 330.4L178.4 329.0M181.6 330.9L183.2 329.6M186.5 331.5L187.9 330.1M191.3 332.1L192.7 330.6M196.1 332.6L197.5 331.2M200.9 333.2L202.3 331.7M205.7 333.7L207.1 332.3M210.5 334.3L211.8 332.8M215.4 334.9L216.6 333.4M220.2 335.4L221.4 333.9M225.0 336.0L226.2 334.5M229.8 336.5L230.9 335.0M234.6 337.1L235.7 335.6M239.4 337.7L240.5 336.1M244.3 338.2L245.3 336.7M249.1 338.8L250.0 337.2M253.9 339.4L254.8 337.7M258.7 339.9L259.6 338.3M263.5 340.5L264.4 338.8M268.3 341.0L269.1 339.4M140.0 328.5L141.9 327.3M144.9 329.1L146.7 327.8M149.8 329.7L151.6 328.4M154.7 330.3L156.4 329.0M159.5 330.9L161.2 329.6M164.4 331.5L166.1 330.1M169.3 332.0L170.9 330.7M174.2 332.6L175.8 331.3M179.1 333.2L180.6 331.8M184.0 333.8L185.5 332.4M188.8 334.4L190.3 333.0M193.7 335.0L195.1 333.6M198.6 335.6L200.0 334.1M203.5 336.2L204.8 334.7M208.4 336.7L209.7 335.3M213.3 337.3L214.5 335.8M218.1 337.9L219.4 336.4M223.0 338.5L224.2 337.0M227.9 339.1L229.0 337.6M232.8 339.7L233.9 338.1M237.7 340.3L238.7 338.7M242.6 340.9L243.6 339.3M247.4 341.4L248.4 339.9M252.3 342.0L253.3 340.4M257.2 342.6L258.1 341.0M262.1 343.2L263.0 341.6M267.0 343.8L267.8 342.1M136.9 330.6L138.8 329.4M141.9 331.2L143.7 330.0M146.8 331.8L148.6 330.5M151.8 332.4L153.5 331.1M156.7 333.1L158.4 331.7M161.7 333.7L163.3 332.3M166.6 334.3L168.2 332.9M171.6 334.9L173.1 333.5M176.5 335.5L178.1 334.1M181.5 336.1L183.0 334.7M186.4 336.7L187.9 335.3M191.4 337.3L192.8 335.9M196.3 338.0L197.7 336.5M201.3 338.6L202.6 337.1M206.2 339.2L207.5 337.7M211.2 339.8L212.4 338.3M216.1 340.4L217.3 338.9M221.1 341.0L222.2 339.5M226.0 341.6L227.2 340.1M231.0 342.3L232.1 340.7M235.9 342.9L237.0 341.3M240.9 343.5L241.9 341.9M245.8 344.1L246.8 342.5M250.8 344.7L251.7 343.1M255.7 345.3L256.6 343.7M260.7 345.9L261.5 344.3M265.6 346.5L266.4 344.9M133.8 332.7L135.7 331.4M138.8 333.3L140.7 332.1M143.9 334.0L145.6 332.7M148.9 334.6L150.6 333.3M153.9 335.2L155.6 333.9M158.9 335.9L160.6 334.6M163.9 336.5L165.5 335.2M168.9 337.2L170.5 335.8M174.0 337.8L175.5 336.4M179.0 338.4L180.5 337.0M184.0 339.1L185.4 337.7M189.0 339.7L190.4 338.3M194.0 340.4L195.4 338.9M199.0 341.0L200.4 339.5M204.1 341.6L205.4 340.2M209.1 342.3L210.3 340.8M214.1 342.9L215.3 341.4M219.1 343.6L220.3 342.0M224.1 344.2L225.3 342.7M229.2 344.8L230.2 343.3M234.2 345.5L235.2 343.9M239.2 346.1L240.2 344.5M244.2 346.7L245.2 345.2M249.2 347.4L250.2 345.8M254.2 348.0L255.1 346.4M259.3 348.7L260.1 347.0M264.3 349.3L265.1 347.7M130.7 334.8L132.6 333.5M135.8 335.4L137.6 334.2M140.9 336.1L142.7 334.8M146.0 336.8L147.7 335.5M151.1 337.4L152.8 336.1M156.1 338.1L157.8 336.8M161.2 338.8L162.8 337.4M166.3 339.4L167.9 338.1M171.4 340.1L172.9 338.7M176.5 340.8L178.0 339.4M181.6 341.4L183.0 340.0M186.7 342.1L188.1 340.7M191.7 342.8L193.1 341.3M196.8 343.4L198.2 342.0M201.9 344.1L203.2 342.6M207.0 344.7L208.2 343.3M212.1 345.4L213.3 343.9M217.2 346.1L218.3 344.6M222.2 346.7L223.4 345.2M227.3 347.4L228.4 345.9M232.4 348.1L233.5 346.5M237.5 348.7L238.5 347.2M242.6 349.4L243.6 347.8M247.7 350.1L248.6 348.5M252.8 350.7L253.6 349.1M257.8 351.4L258.7 349.8M262.9 352.1L263.7 350.4M127.6 336.9L129.5 335.6M132.8 337.5L134.6 336.3M137.9 338.2L139.7 337.0M143.1 338.9L144.8 337.6M148.2 339.6L149.9 338.3M153.4 340.3L155.0 339.0M158.5 341.0L160.1 339.7M163.7 341.7L165.3 340.3M168.8 342.4L170.4 341.0M174.0 343.1L175.5 341.7M179.1 343.8L180.6 342.4M184.3 344.5L185.7 343.0M189.4 345.1L190.8 343.7M194.6 345.8L195.9 344.4M199.7 346.5L201.0 345.1M204.9 347.2L206.2 345.7M210.1 347.9L211.3 346.4M215.2 348.6L216.4 347.1M220.4 349.3L221.5 347.8M225.5 350.0L226.6 348.4M230.7 350.7L231.7 349.1M235.8 351.4L236.8 349.8M241.0 352.1L241.9 350.5M246.1 352.7L247.0 351.1M251.3 353.4L252.2 351.8M256.4 354.1L257.3 352.5M261.6 354.8L262.4 353.2M124.5 338.9L126.4 337.7M129.7 339.7L131.6 338.4M135.0 340.4L136.7 339.1M140.2 341.1L141.9 339.8M145.4 341.8L147.1 340.5M150.6 342.5L152.3 341.2M155.8 343.2L157.5 341.9M161.1 344.0L162.6 342.6M166.3 344.7L167.8 343.3M171.5 345.4L173.0 344.0M176.7 346.1L178.2 344.7M181.9 346.8L183.3 345.4M187.2 347.5L188.5 346.1M192.4 348.3L193.7 346.8M197.6 349.0L198.9 347.5M202.8 349.7L204.1 348.2M208.0 350.4L209.2 348.9M213.2 351.1L214.4 349.6M218.5 351.8L219.6 350.3M223.7 352.6L224.8 351.0M228.9 353.3L230.0 351.7M234.1 354.0L235.1 352.4M239.3 354.7L240.3 353.1M244.6 355.4L245.5 353.8M249.8 356.1L250.7 354.5M255.0 356.9L255.8 355.2M260.2 357.6L261.0 355.9M121.4 341.0L123.3 339.8M126.7 341.8L128.5 340.5M132.0 342.5L133.8 341.2M137.3 343.2L139.0 341.9M142.6 344.0L144.3 342.7M147.9 344.7L149.5 343.4M153.1 345.5L154.8 344.1M158.4 346.2L160.0 344.9M163.7 347.0L165.3 345.6M169.0 347.7L170.5 346.3M174.3 348.4L175.7 347.0M179.6 349.2L181.0 347.8M184.9 349.9L186.2 348.5M190.1 350.7L191.5 349.2M195.4 351.4L196.7 350.0M200.7 352.2L202.0 350.7M206.0 352.9L207.2 351.4M211.3 353.6L212.5 352.1M216.6 354.4L217.7 352.9M221.9 355.1L223.0 353.6M227.1 355.9L228.2 354.3M232.4 356.6L233.4 355.0M237.7 357.4L238.7 355.8M243.0 358.1L243.9 356.5M248.3 358.8L249.2 357.2M253.6 359.6L254.4 358.0M258.9 360.3L259.7 358.7M118.3 343.1L120.2 341.9M123.7 343.9L125.5 342.6M129.0 344.6L130.8 343.4M134.4 345.4L136.1 344.1M139.7 346.2L141.4 344.9M145.1 346.9L146.8 345.6M150.4 347.7L152.1 346.4M155.8 348.5L157.4 347.1M161.2 349.3L162.7 347.9M166.5 350.0L168.0 348.6M171.9 350.8L173.3 349.4M177.2 351.6L178.6 350.1M182.6 352.3L183.9 350.9M187.9 353.1L189.3 351.6M193.3 353.9L194.6 352.4M198.6 354.6L199.9 353.2M204.0 355.4L205.2 353.9M209.3 356.2L210.5 354.7M214.7 356.9L215.8 355.4M220.0 357.7L221.1 356.2M225.4 358.5L226.4 356.9M230.7 359.2L231.8 357.7M236.1 360.0L237.1 358.4M241.4 360.8L242.4 359.2M246.8 361.6L247.7 359.9M252.2 362.3L253.0 360.7M257.5 363.1L258.3 361.4M115.2 345.2L117.1 343.9M120.7 346.0L122.5 344.7M126.1 346.8L127.9 345.5M131.5 347.6L133.2 346.3M136.9 348.4L138.6 347.1M142.3 349.2L144.0 347.8M147.8 350.0L149.4 348.6M153.2 350.7L154.8 349.4M158.6 351.5L160.1 350.2M164.0 352.3L165.5 350.9M169.4 353.1L170.9 351.7M174.9 353.9L176.3 352.5M180.3 354.7L181.7 353.3M185.7 355.5L187.0 354.1M191.1 356.3L192.4 354.8M196.5 357.1L197.8 355.6M202.0 357.9L203.2 356.4M207.4 358.7L208.5 357.2M212.8 359.5L213.9 358.0M218.2 360.3L219.3 358.7M223.6 361.1L224.7 359.5M229.1 361.9L230.1 360.3M234.5 362.7L235.4 361.1M239.9 363.5L240.8 361.9M245.3 364.3L246.2 362.6M250.7 365.1L251.6 363.4M256.2 365.8L257.0 364.2" stroke="#883838" stroke-width="1.4" fill="none"/>
<rect x="142.8" y="321.4" width="2.4" height="4.5" fill="#ac3c3c"/><rect x="142.8" y="321.4" width="1.0" height="4.5" fill="#cc6e6e"/><rect x="144.6" y="321.4" width="0.6" height="4.5" fill="#7c2626"/>
<rect x="147.6" y="323.9" width="2.4" height="2.5" fill="#ac3c3c"/><rect x="147.6" y="323.9" width="1.0" height="2.5" fill="#cc6e6e"/><rect x="149.4" y="323.9" width="0.6" height="2.5" fill="#7c2626"/>
<rect x="152.4" y="323.5" width="2.4" height="3.5" fill="#ac3c3c"/><rect x="152.4" y="323.5" width="1.0" height="3.5" fill="#cc6e6e"/><rect x="154.2" y="323.5" width="0.6" height="3.5" fill="#7c2626"/>
<rect x="157.2" y="325.6" width="2.4" height="1.8" fill="#ac3c3c"/><rect x="157.2" y="325.6" width="1.0" height="1.8" fill="#cc6e6e"/><rect x="159.0" y="325.6" width="0.6" height="1.8" fill="#7c2626"/>
<rect x="162.0" y="324.9" width="2.4" height="3.1" fill="#ac3c3c"/><rect x="162.0" y="324.9" width="1.0" height="3.1" fill="#cc6e6e"/><rect x="163.8" y="324.9" width="0.6" height="3.1" fill="#7c2626"/>
<rect x="166.8" y="324.9" width="2.4" height="3.7" fill="#ac3c3c"/><rect x="166.8" y="324.9" width="1.0" height="3.7" fill="#cc6e6e"/><rect x="168.6" y="324.9" width="0.6" height="3.7" fill="#7c2626"/>
<rect x="171.6" y="324.4" width="2.4" height="4.7" fill="#ac3c3c"/><rect x="171.6" y="324.4" width="1.0" height="4.7" fill="#cc6e6e"/><rect x="173.4" y="324.4" width="0.6" height="4.7" fill="#7c2626"/>
<rect x="176.4" y="327.4" width="2.4" height="2.2" fill="#ac3c3c"/><rect x="176.4" y="327.4" width="1.0" height="2.2" fill="#cc6e6e"/><rect x="178.2" y="327.4" width="0.6" height="2.2" fill="#7c2626"/>
<rect x="186.0" y="327.8" width="2.4" height="3.0" fill="#ac3c3c"/><rect x="186.0" y="327.8" width="1.0" height="3.0" fill="#cc6e6e"/><rect x="187.8" y="327.8" width="0.6" height="3.0" fill="#7c2626"/>
<rect x="200.4" y="329.8" width="2.4" height="2.7" fill="#ac3c3c"/><rect x="200.4" y="329.8" width="1.0" height="2.7" fill="#cc6e6e"/><rect x="202.2" y="329.8" width="0.6" height="2.7" fill="#7c2626"/>
<rect x="210.0" y="330.7" width="2.4" height="2.9" fill="#ac3c3c"/><rect x="210.0" y="330.7" width="1.0" height="2.9" fill="#cc6e6e"/><rect x="211.8" y="330.7" width="0.6" height="2.9" fill="#7c2626"/>
<rect x="214.8" y="331.9" width="2.4" height="2.2" fill="#ac3c3c"/><rect x="214.8" y="331.9" width="1.0" height="2.2" fill="#cc6e6e"/><rect x="216.6" y="331.9" width="0.6" height="2.2" fill="#7c2626"/>
<rect x="234.0" y="333.6" width="2.4" height="2.7" fill="#ac3c3c"/><rect x="234.0" y="333.6" width="1.0" height="2.7" fill="#cc6e6e"/><rect x="235.8" y="333.6" width="0.6" height="2.7" fill="#7c2626"/>
<rect x="238.8" y="333.1" width="2.4" height="3.8" fill="#ac3c3c"/><rect x="238.8" y="333.1" width="1.0" height="3.8" fill="#cc6e6e"/><rect x="240.6" y="333.1" width="0.6" height="3.8" fill="#7c2626"/>
<rect x="253.2" y="336.3" width="2.4" height="2.3" fill="#ac3c3c"/><rect x="253.2" y="336.3" width="1.0" height="2.3" fill="#cc6e6e"/><rect x="255.0" y="336.3" width="0.6" height="2.3" fill="#7c2626"/>
<rect x="257.9" y="336.0" width="2.4" height="3.1" fill="#ac3c3c"/><rect x="257.9" y="336.0" width="1.0" height="3.1" fill="#cc6e6e"/><rect x="259.7" y="336.0" width="0.6" height="3.1" fill="#7c2626"/>
<rect x="262.7" y="336.5" width="2.4" height="3.2" fill="#ac3c3c"/><rect x="262.7" y="336.5" width="1.0" height="3.2" fill="#cc6e6e"/><rect x="264.5" y="336.5" width="0.6" height="3.2" fill="#7c2626"/>
<rect x="267.5" y="338.5" width="2.4" height="1.7" fill="#ac3c3c"/><rect x="267.5" y="338.5" width="1.0" height="1.7" fill="#cc6e6e"/><rect x="269.3" y="338.5" width="0.6" height="1.7" fill="#7c2626"/>
<rect x="175.2" y="323.6" width="2.0" height="7.7" fill="#ac3c3c"/><rect x="175.2" y="323.6" width="0.8" height="7.7" fill="#cc6e6e"/><rect x="176.6" y="323.6" width="0.6" height="7.7" fill="#7c2626"/>
<rect x="179.6" y="324.0" width="2.0" height="7.8" fill="#ac3c3c"/><rect x="179.6" y="324.0" width="0.8" height="7.8" fill="#cc6e6e"/><rect x="181.0" y="324.0" width="0.6" height="7.8" fill="#7c2626"/>
<rect x="183.8" y="325.5" width="2.0" height="6.7" fill="#ac3c3c"/><rect x="183.8" y="325.5" width="0.8" height="6.7" fill="#cc6e6e"/><rect x="185.2" y="325.5" width="0.6" height="6.7" fill="#7c2626"/>
<rect x="224.4" y="324.6" width="1.9" height="11.4" fill="#ac3c3c"/><rect x="224.4" y="324.6" width="0.8" height="11.4" fill="#cc6e6e"/><rect x="225.7" y="324.6" width="0.6" height="11.4" fill="#7c2626"/>
<rect x="214.8" y="330.2" width="1.9" height="6.8" fill="#ac3c3c"/><rect x="214.8" y="330.2" width="0.8" height="6.8" fill="#cc6e6e"/><rect x="216.0" y="330.2" width="0.6" height="6.8" fill="#7c2626"/>
<rect x="247.2" y="331.0" width="1.9" height="9.0" fill="#ac3c3c"/><rect x="247.2" y="331.0" width="0.8" height="9.0" fill="#cc6e6e"/><rect x="248.5" y="331.0" width="0.6" height="9.0" fill="#7c2626"/>
<rect x="252.2" y="333.8" width="1.9" height="7.2" fill="#ac3c3c"/><rect x="252.2" y="333.8" width="0.8" height="7.2" fill="#cc6e6e"/><rect x="253.4" y="333.8" width="0.6" height="7.2" fill="#7c2626"/>
<rect x="237.9" y="333.8" width="1.9" height="6.2" fill="#ac3c3c"/><rect x="237.9" y="333.8" width="0.8" height="6.2" fill="#cc6e6e"/><rect x="239.2" y="333.8" width="0.6" height="6.2" fill="#7c2626"/>
<rect x="139.7" y="325.3" width="2.4" height="2.6" fill="#ac3c3c"/><rect x="139.7" y="325.3" width="1.0" height="2.6" fill="#cc6e6e"/><rect x="141.5" y="325.3" width="0.6" height="2.6" fill="#7c2626"/>
<rect x="144.6" y="324.4" width="2.4" height="4.1" fill="#ac3c3c"/><rect x="144.6" y="324.4" width="1.0" height="4.1" fill="#cc6e6e"/><rect x="146.4" y="324.4" width="0.6" height="4.1" fill="#7c2626"/>
<rect x="149.5" y="326.7" width="2.4" height="2.4" fill="#ac3c3c"/><rect x="149.5" y="326.7" width="1.0" height="2.4" fill="#cc6e6e"/><rect x="151.3" y="326.7" width="0.6" height="2.4" fill="#7c2626"/>
<rect x="154.3" y="326.2" width="2.4" height="3.4" fill="#ac3c3c"/><rect x="154.3" y="326.2" width="1.0" height="3.4" fill="#cc6e6e"/><rect x="156.1" y="326.2" width="0.6" height="3.4" fill="#7c2626"/>
<rect x="159.2" y="326.0" width="2.4" height="4.2" fill="#ac3c3c"/><rect x="159.2" y="326.0" width="1.0" height="4.2" fill="#cc6e6e"/><rect x="161.0" y="326.0" width="0.6" height="4.2" fill="#7c2626"/>
<rect x="164.1" y="328.5" width="2.4" height="2.3" fill="#ac3c3c"/><rect x="164.1" y="328.5" width="1.0" height="2.3" fill="#cc6e6e"/><rect x="165.9" y="328.5" width="0.6" height="2.3" fill="#7c2626"/>
<rect x="168.9" y="327.4" width="2.4" height="4.0" fill="#ac3c3c"/><rect x="168.9" y="327.4" width="1.0" height="4.0" fill="#cc6e6e"/><rect x="170.7" y="327.4" width="0.6" height="4.0" fill="#7c2626"/>
<rect x="173.8" y="329.0" width="2.4" height="3.0" fill="#ac3c3c"/><rect x="173.8" y="329.0" width="1.0" height="3.0" fill="#cc6e6e"/><rect x="175.6" y="329.0" width="0.6" height="3.0" fill="#7c2626"/>
<rect x="188.4" y="330.9" width="2.4" height="2.8" fill="#ac3c3c"/><rect x="188.4" y="330.9" width="1.0" height="2.8" fill="#cc6e6e"/><rect x="190.2" y="330.9" width="0.6" height="2.8" fill="#7c2626"/>
<rect x="193.2" y="331.8" width="2.4" height="2.5" fill="#ac3c3c"/><rect x="193.2" y="331.8" width="1.0" height="2.5" fill="#cc6e6e"/><rect x="195.0" y="331.8" width="0.6" height="2.5" fill="#7c2626"/>
<rect x="198.1" y="333.3" width="2.4" height="1.5" fill="#ac3c3c"/><rect x="198.1" y="333.3" width="1.0" height="1.5" fill="#cc6e6e"/><rect x="199.9" y="333.3" width="0.6" height="1.5" fill="#7c2626"/>
<rect x="203.0" y="332.9" width="2.4" height="2.5" fill="#ac3c3c"/><rect x="203.0" y="332.9" width="1.0" height="2.5" fill="#cc6e6e"/><rect x="204.8" y="332.9" width="0.6" height="2.5" fill="#7c2626"/>
<rect x="232.1" y="336.6" width="2.4" height="2.3" fill="#ac3c3c"/><rect x="232.1" y="336.6" width="1.0" height="2.3" fill="#cc6e6e"/><rect x="233.9" y="336.6" width="0.6" height="2.3" fill="#7c2626"/>
<rect x="237.0" y="336.7" width="2.4" height="2.8" fill="#ac3c3c"/><rect x="237.0" y="336.7" width="1.0" height="2.8" fill="#cc6e6e"/><rect x="238.8" y="336.7" width="0.6" height="2.8" fill="#7c2626"/>
<rect x="251.6" y="338.8" width="2.4" height="2.5" fill="#ac3c3c"/><rect x="251.6" y="338.8" width="1.0" height="2.5" fill="#cc6e6e"/><rect x="253.4" y="338.8" width="0.6" height="2.5" fill="#7c2626"/>
<rect x="261.3" y="340.4" width="2.4" height="2.0" fill="#ac3c3c"/><rect x="261.3" y="340.4" width="1.0" height="2.0" fill="#cc6e6e"/><rect x="263.1" y="340.4" width="0.6" height="2.0" fill="#7c2626"/>
<rect x="266.2" y="341.2" width="2.4" height="1.8" fill="#ac3c3c"/><rect x="266.2" y="341.2" width="1.0" height="1.8" fill="#cc6e6e"/><rect x="268.0" y="341.2" width="0.6" height="1.8" fill="#7c2626"/>
<rect x="136.6" y="327.1" width="2.4" height="2.9" fill="#ac3c3c"/><rect x="136.6" y="327.1" width="1.0" height="2.9" fill="#cc6e6e"/><rect x="138.4" y="327.1" width="0.6" height="2.9" fill="#7c2626"/>
<rect x="141.6" y="327.4" width="2.4" height="3.2" fill="#ac3c3c"/><rect x="141.6" y="327.4" width="1.0" height="3.2" fill="#cc6e6e"/><rect x="143.4" y="327.4" width="0.6" height="3.2" fill="#7c2626"/>
<rect x="146.5" y="327.6" width="2.4" height="3.6" fill="#ac3c3c"/><rect x="146.5" y="327.6" width="1.0" height="3.6" fill="#cc6e6e"/><rect x="148.3" y="327.6" width="0.6" height="3.6" fill="#7c2626"/>
<rect x="151.4" y="327.8" width="2.4" height="4.0" fill="#ac3c3c"/><rect x="151.4" y="327.8" width="1.0" height="4.0" fill="#cc6e6e"/><rect x="153.2" y="327.8" width="0.6" height="4.0" fill="#7c2626"/>
<rect x="156.4" y="329.2" width="2.4" height="3.2" fill="#ac3c3c"/><rect x="156.4" y="329.2" width="1.0" height="3.2" fill="#cc6e6e"/><rect x="158.2" y="329.2" width="0.6" height="3.2" fill="#7c2626"/>
<rect x="161.3" y="331.8" width="2.4" height="1.2" fill="#ac3c3c"/><rect x="161.3" y="331.8" width="1.0" height="1.2" fill="#cc6e6e"/><rect x="163.1" y="331.8" width="0.6" height="1.2" fill="#7c2626"/>
<rect x="166.2" y="328.9" width="2.4" height="4.7" fill="#ac3c3c"/><rect x="166.2" y="328.9" width="1.0" height="4.7" fill="#cc6e6e"/><rect x="168.0" y="328.9" width="0.6" height="4.7" fill="#7c2626"/>
<rect x="171.2" y="329.3" width="2.4" height="4.9" fill="#ac3c3c"/><rect x="171.2" y="329.3" width="1.0" height="4.9" fill="#cc6e6e"/><rect x="173.0" y="329.3" width="0.6" height="4.9" fill="#7c2626"/>
<rect x="176.1" y="333.2" width="2.4" height="1.7" fill="#ac3c3c"/><rect x="176.1" y="333.2" width="1.0" height="1.7" fill="#cc6e6e"/><rect x="177.9" y="333.2" width="0.6" height="1.7" fill="#7c2626"/>
<rect x="190.9" y="334.7" width="2.4" height="1.9" fill="#ac3c3c"/><rect x="190.9" y="334.7" width="1.0" height="1.9" fill="#cc6e6e"/><rect x="192.7" y="334.7" width="0.6" height="1.9" fill="#7c2626"/>
<rect x="195.8" y="335.5" width="2.4" height="1.7" fill="#ac3c3c"/><rect x="195.8" y="335.5" width="1.0" height="1.7" fill="#cc6e6e"/><rect x="197.6" y="335.5" width="0.6" height="1.7" fill="#7c2626"/>
<rect x="205.7" y="335.5" width="2.4" height="2.9" fill="#ac3c3c"/><rect x="205.7" y="335.5" width="1.0" height="2.9" fill="#cc6e6e"/><rect x="207.5" y="335.5" width="0.6" height="2.9" fill="#7c2626"/>
<rect x="210.6" y="335.3" width="2.4" height="3.8" fill="#ac3c3c"/><rect x="210.6" y="335.3" width="1.0" height="3.8" fill="#cc6e6e"/><rect x="212.4" y="335.3" width="0.6" height="3.8" fill="#7c2626"/>
<rect x="225.4" y="338.5" width="2.4" height="2.3" fill="#ac3c3c"/><rect x="225.4" y="338.5" width="1.0" height="2.3" fill="#cc6e6e"/><rect x="227.2" y="338.5" width="0.6" height="2.3" fill="#7c2626"/>
<rect x="230.3" y="339.2" width="2.4" height="2.3" fill="#ac3c3c"/><rect x="230.3" y="339.2" width="1.0" height="2.3" fill="#cc6e6e"/><rect x="232.1" y="339.2" width="0.6" height="2.3" fill="#7c2626"/>
<rect x="235.3" y="340.5" width="2.4" height="1.6" fill="#ac3c3c"/><rect x="235.3" y="340.5" width="1.0" height="1.6" fill="#cc6e6e"/><rect x="237.1" y="340.5" width="0.6" height="1.6" fill="#7c2626"/>
<rect x="259.9" y="342.2" width="2.4" height="2.9" fill="#ac3c3c"/><rect x="259.9" y="342.2" width="1.0" height="2.9" fill="#cc6e6e"/><rect x="261.7" y="342.2" width="0.6" height="2.9" fill="#7c2626"/>
<rect x="264.8" y="343.6" width="2.4" height="2.1" fill="#ac3c3c"/><rect x="264.8" y="343.6" width="1.0" height="2.1" fill="#cc6e6e"/><rect x="266.6" y="343.6" width="0.6" height="2.1" fill="#7c2626"/>
<rect x="133.5" y="329.3" width="2.4" height="2.7" fill="#ac3c3c"/><rect x="133.5" y="329.3" width="1.0" height="2.7" fill="#cc6e6e"/><rect x="135.3" y="329.3" width="0.6" height="2.7" fill="#7c2626"/>
<rect x="138.5" y="329.3" width="2.4" height="3.4" fill="#ac3c3c"/><rect x="138.5" y="329.3" width="1.0" height="3.4" fill="#cc6e6e"/><rect x="140.3" y="329.3" width="0.6" height="3.4" fill="#7c2626"/>
<rect x="143.5" y="331.4" width="2.4" height="1.9" fill="#ac3c3c"/><rect x="143.5" y="331.4" width="1.0" height="1.9" fill="#cc6e6e"/><rect x="145.3" y="331.4" width="0.6" height="1.9" fill="#7c2626"/>
<rect x="148.5" y="329.2" width="2.4" height="4.8" fill="#ac3c3c"/><rect x="148.5" y="329.2" width="1.0" height="4.8" fill="#cc6e6e"/><rect x="150.3" y="329.2" width="0.6" height="4.8" fill="#7c2626"/>
<rect x="153.5" y="330.1" width="2.4" height="4.5" fill="#ac3c3c"/><rect x="153.5" y="330.1" width="1.0" height="4.5" fill="#cc6e6e"/><rect x="155.3" y="330.1" width="0.6" height="4.5" fill="#7c2626"/>
<rect x="158.5" y="331.7" width="2.4" height="3.6" fill="#ac3c3c"/><rect x="158.5" y="331.7" width="1.0" height="3.6" fill="#cc6e6e"/><rect x="160.3" y="331.7" width="0.6" height="3.6" fill="#7c2626"/>
<rect x="163.5" y="331.6" width="2.4" height="4.3" fill="#ac3c3c"/><rect x="163.5" y="331.6" width="1.0" height="4.3" fill="#cc6e6e"/><rect x="165.3" y="331.6" width="0.6" height="4.3" fill="#7c2626"/>
<rect x="168.5" y="334.5" width="2.4" height="2.0" fill="#ac3c3c"/><rect x="168.5" y="334.5" width="1.0" height="2.0" fill="#cc6e6e"/><rect x="170.3" y="334.5" width="0.6" height="2.0" fill="#7c2626"/>
<rect x="178.5" y="335.0" width="2.4" height="2.8" fill="#ac3c3c"/><rect x="178.5" y="335.0" width="1.0" height="2.8" fill="#cc6e6e"/><rect x="180.3" y="335.0" width="0.6" height="2.8" fill="#7c2626"/>
<rect x="183.5" y="335.7" width="2.4" height="2.7" fill="#ac3c3c"/><rect x="183.5" y="335.7" width="1.0" height="2.7" fill="#cc6e6e"/><rect x="185.3" y="335.7" width="0.6" height="2.7" fill="#7c2626"/>
<rect x="193.5" y="338.4" width="2.4" height="1.3" fill="#ac3c3c"/><rect x="193.5" y="338.4" width="1.0" height="1.3" fill="#cc6e6e"/><rect x="195.3" y="338.4" width="0.6" height="1.3" fill="#7c2626"/>
<rect x="208.5" y="339.9" width="2.4" height="1.7" fill="#ac3c3c"/><rect x="208.5" y="339.9" width="1.0" height="1.7" fill="#cc6e6e"/><rect x="210.3" y="339.9" width="0.6" height="1.7" fill="#7c2626"/>
<rect x="213.5" y="338.9" width="2.4" height="3.2" fill="#ac3c3c"/><rect x="213.5" y="338.9" width="1.0" height="3.2" fill="#cc6e6e"/><rect x="215.3" y="338.9" width="0.6" height="3.2" fill="#7c2626"/>
<rect x="223.5" y="338.9" width="2.4" height="4.5" fill="#ac3c3c"/><rect x="223.5" y="338.9" width="1.0" height="4.5" fill="#cc6e6e"/><rect x="225.3" y="338.9" width="0.6" height="4.5" fill="#7c2626"/>
<rect x="228.5" y="340.9" width="2.4" height="3.2" fill="#ac3c3c"/><rect x="228.5" y="340.9" width="1.0" height="3.2" fill="#cc6e6e"/><rect x="230.3" y="340.9" width="0.6" height="3.2" fill="#7c2626"/>
<rect x="233.5" y="343.4" width="2.4" height="1.3" fill="#ac3c3c"/><rect x="233.5" y="343.4" width="1.0" height="1.3" fill="#cc6e6e"/><rect x="235.3" y="343.4" width="0.6" height="1.3" fill="#7c2626"/>
<rect x="243.5" y="344.7" width="2.4" height="1.2" fill="#ac3c3c"/><rect x="243.5" y="344.7" width="1.0" height="1.2" fill="#cc6e6e"/><rect x="245.3" y="344.7" width="0.6" height="1.2" fill="#7c2626"/>
<rect x="248.5" y="342.6" width="2.4" height="4.0" fill="#ac3c3c"/><rect x="248.5" y="342.6" width="1.0" height="4.0" fill="#cc6e6e"/><rect x="250.3" y="342.6" width="0.6" height="4.0" fill="#7c2626"/>
<rect x="253.5" y="344.9" width="2.4" height="2.3" fill="#ac3c3c"/><rect x="253.5" y="344.9" width="1.0" height="2.3" fill="#cc6e6e"/><rect x="255.3" y="344.9" width="0.6" height="2.3" fill="#7c2626"/>
<rect x="258.5" y="344.8" width="2.4" height="3.1" fill="#ac3c3c"/><rect x="258.5" y="344.8" width="1.0" height="3.1" fill="#cc6e6e"/><rect x="260.3" y="344.8" width="0.6" height="3.1" fill="#7c2626"/>
<rect x="263.5" y="345.6" width="2.4" height="2.9" fill="#ac3c3c"/><rect x="263.5" y="345.6" width="1.0" height="2.9" fill="#cc6e6e"/><rect x="265.3" y="345.6" width="0.6" height="2.9" fill="#7c2626"/>
<rect x="130.4" y="331.5" width="2.4" height="2.7" fill="#ac3c3c"/><rect x="130.4" y="331.5" width="1.0" height="2.7" fill="#cc6e6e"/><rect x="132.2" y="331.5" width="0.6" height="2.7" fill="#7c2626"/>
<rect x="135.5" y="330.1" width="2.4" height="4.7" fill="#ac3c3c"/><rect x="135.5" y="330.1" width="1.0" height="4.7" fill="#cc6e6e"/><rect x="137.3" y="330.1" width="0.6" height="4.7" fill="#7c2626"/>
<rect x="140.6" y="333.5" width="2.4" height="2.0" fill="#ac3c3c"/><rect x="140.6" y="333.5" width="1.0" height="2.0" fill="#cc6e6e"/><rect x="142.4" y="333.5" width="0.6" height="2.0" fill="#7c2626"/>
<rect x="145.6" y="333.3" width="2.4" height="2.9" fill="#ac3c3c"/><rect x="145.6" y="333.3" width="1.0" height="2.9" fill="#cc6e6e"/><rect x="147.4" y="333.3" width="0.6" height="2.9" fill="#7c2626"/>
<rect x="150.7" y="334.4" width="2.4" height="2.3" fill="#ac3c3c"/><rect x="150.7" y="334.4" width="1.0" height="2.3" fill="#cc6e6e"/><rect x="152.5" y="334.4" width="0.6" height="2.3" fill="#7c2626"/>
<rect x="160.8" y="335.7" width="2.4" height="2.4" fill="#ac3c3c"/><rect x="160.8" y="335.7" width="1.0" height="2.4" fill="#cc6e6e"/><rect x="162.6" y="335.7" width="0.6" height="2.4" fill="#7c2626"/>
<rect x="165.9" y="336.7" width="2.4" height="2.0" fill="#ac3c3c"/><rect x="165.9" y="336.7" width="1.0" height="2.0" fill="#cc6e6e"/><rect x="167.7" y="336.7" width="0.6" height="2.0" fill="#7c2626"/>
<rect x="191.2" y="339.6" width="2.4" height="2.4" fill="#ac3c3c"/><rect x="191.2" y="339.6" width="1.0" height="2.4" fill="#cc6e6e"/><rect x="193.0" y="339.6" width="0.6" height="2.4" fill="#7c2626"/>
<rect x="196.3" y="339.5" width="2.4" height="3.2" fill="#ac3c3c"/><rect x="196.3" y="339.5" width="1.0" height="3.2" fill="#cc6e6e"/><rect x="198.1" y="339.5" width="0.6" height="3.2" fill="#7c2626"/>
<rect x="221.6" y="343.1" width="2.4" height="2.9" fill="#ac3c3c"/><rect x="221.6" y="343.1" width="1.0" height="2.9" fill="#cc6e6e"/><rect x="223.4" y="343.1" width="0.6" height="2.9" fill="#7c2626"/>
<rect x="226.7" y="344.5" width="2.4" height="2.1" fill="#ac3c3c"/><rect x="226.7" y="344.5" width="1.0" height="2.1" fill="#cc6e6e"/><rect x="228.5" y="344.5" width="0.6" height="2.1" fill="#7c2626"/>
<rect x="246.9" y="344.7" width="2.4" height="4.6" fill="#ac3c3c"/><rect x="246.9" y="344.7" width="1.0" height="4.6" fill="#cc6e6e"/><rect x="248.7" y="344.7" width="0.6" height="4.6" fill="#7c2626"/>
<rect x="252.0" y="348.4" width="2.4" height="1.6" fill="#ac3c3c"/><rect x="252.0" y="348.4" width="1.0" height="1.6" fill="#cc6e6e"/><rect x="253.8" y="348.4" width="0.6" height="1.6" fill="#7c2626"/>
<rect x="257.1" y="349.3" width="2.4" height="1.3" fill="#ac3c3c"/><rect x="257.1" y="349.3" width="1.0" height="1.3" fill="#cc6e6e"/><rect x="258.9" y="349.3" width="0.6" height="1.3" fill="#7c2626"/>
<rect x="262.1" y="349.4" width="2.4" height="1.8" fill="#ac3c3c"/><rect x="262.1" y="349.4" width="1.0" height="1.8" fill="#cc6e6e"/><rect x="263.9" y="349.4" width="0.6" height="1.8" fill="#7c2626"/>
<rect x="145.3" y="318.8" width="2.0" height="21.2" fill="#ac3c3c"/><rect x="145.3" y="318.8" width="0.8" height="21.2" fill="#cc6e6e"/><rect x="146.7" y="318.8" width="0.6" height="21.2" fill="#7c2626"/>
<rect x="150.2" y="320.8" width="2.0" height="18.7" fill="#ac3c3c"/><rect x="150.2" y="320.8" width="0.8" height="18.7" fill="#cc6e6e"/><rect x="151.6" y="320.8" width="0.6" height="18.7" fill="#7c2626"/>
<rect x="154.4" y="312.0" width="2.0" height="27.0" fill="#ac3c3c"/><rect x="154.4" y="312.0" width="0.8" height="27.0" fill="#cc6e6e"/><rect x="155.8" y="312.0" width="0.6" height="27.0" fill="#7c2626"/>
<rect x="158.4" y="308.3" width="2.0" height="30.2" fill="#ac3c3c"/><rect x="158.4" y="308.3" width="0.8" height="30.2" fill="#cc6e6e"/><rect x="159.8" y="308.3" width="0.6" height="30.2" fill="#7c2626"/>
<rect x="162.7" y="304.4" width="2.0" height="33.6" fill="#ac3c3c"/><rect x="162.7" y="304.4" width="0.8" height="33.6" fill="#cc6e6e"/><rect x="164.1" y="304.4" width="0.6" height="33.6" fill="#7c2626"/>
<rect x="166.5" y="300.6" width="2.0" height="36.4" fill="#ac3c3c"/><rect x="166.5" y="300.6" width="0.8" height="36.4" fill="#cc6e6e"/><rect x="167.9" y="300.6" width="0.6" height="36.4" fill="#7c2626"/>
<rect x="127.4" y="332.4" width="2.4" height="3.9" fill="#ac3c3c"/><rect x="127.4" y="332.4" width="1.0" height="3.9" fill="#cc6e6e"/><rect x="129.2" y="332.4" width="0.6" height="3.9" fill="#7c2626"/>
<rect x="132.5" y="335.1" width="2.4" height="1.8" fill="#ac3c3c"/><rect x="132.5" y="335.1" width="1.0" height="1.8" fill="#cc6e6e"/><rect x="134.3" y="335.1" width="0.6" height="1.8" fill="#7c2626"/>
<rect x="137.6" y="334.1" width="2.4" height="3.5" fill="#ac3c3c"/><rect x="137.6" y="334.1" width="1.0" height="3.5" fill="#cc6e6e"/><rect x="139.4" y="334.1" width="0.6" height="3.5" fill="#7c2626"/>
<rect x="142.7" y="334.7" width="2.4" height="3.6" fill="#ac3c3c"/><rect x="142.7" y="334.7" width="1.0" height="3.6" fill="#cc6e6e"/><rect x="144.5" y="334.7" width="0.6" height="3.6" fill="#7c2626"/>
<rect x="147.9" y="334.7" width="2.4" height="4.3" fill="#ac3c3c"/><rect x="147.9" y="334.7" width="1.0" height="4.3" fill="#cc6e6e"/><rect x="149.7" y="334.7" width="0.6" height="4.3" fill="#7c2626"/>
<rect x="153.0" y="336.3" width="2.4" height="3.4" fill="#ac3c3c"/><rect x="153.0" y="336.3" width="1.0" height="3.4" fill="#cc6e6e"/><rect x="154.8" y="336.3" width="0.6" height="3.4" fill="#7c2626"/>
<rect x="158.1" y="335.2" width="2.4" height="5.2" fill="#ac3c3c"/><rect x="158.1" y="335.2" width="1.0" height="5.2" fill="#cc6e6e"/><rect x="159.9" y="335.2" width="0.6" height="5.2" fill="#7c2626"/>
<rect x="163.3" y="338.5" width="2.4" height="2.5" fill="#ac3c3c"/><rect x="163.3" y="338.5" width="1.0" height="2.5" fill="#cc6e6e"/><rect x="165.1" y="338.5" width="0.6" height="2.5" fill="#7c2626"/>
<rect x="173.5" y="339.3" width="2.4" height="3.0" fill="#ac3c3c"/><rect x="173.5" y="339.3" width="1.0" height="3.0" fill="#cc6e6e"/><rect x="175.3" y="339.3" width="0.6" height="3.0" fill="#7c2626"/>
<rect x="178.7" y="339.4" width="2.4" height="3.7" fill="#ac3c3c"/><rect x="178.7" y="339.4" width="1.0" height="3.7" fill="#cc6e6e"/><rect x="180.5" y="339.4" width="0.6" height="3.7" fill="#7c2626"/>
<rect x="188.9" y="341.5" width="2.4" height="3.0" fill="#ac3c3c"/><rect x="188.9" y="341.5" width="1.0" height="3.0" fill="#cc6e6e"/><rect x="190.7" y="341.5" width="0.6" height="3.0" fill="#7c2626"/>
<rect x="194.1" y="343.4" width="2.4" height="1.7" fill="#ac3c3c"/><rect x="194.1" y="343.4" width="1.0" height="1.7" fill="#cc6e6e"/><rect x="195.9" y="343.4" width="0.6" height="1.7" fill="#7c2626"/>
<rect x="199.2" y="342.9" width="2.4" height="2.9" fill="#ac3c3c"/><rect x="199.2" y="342.9" width="1.0" height="2.9" fill="#cc6e6e"/><rect x="201.0" y="342.9" width="0.6" height="2.9" fill="#7c2626"/>
<rect x="204.3" y="343.6" width="2.4" height="2.9" fill="#ac3c3c"/><rect x="204.3" y="343.6" width="1.0" height="2.9" fill="#cc6e6e"/><rect x="206.1" y="343.6" width="0.6" height="2.9" fill="#7c2626"/>
<rect x="214.6" y="343.3" width="2.4" height="4.6" fill="#ac3c3c"/><rect x="214.6" y="343.3" width="1.0" height="4.6" fill="#cc6e6e"/><rect x="216.4" y="343.3" width="0.6" height="4.6" fill="#7c2626"/>
<rect x="219.7" y="347.0" width="2.4" height="1.5" fill="#ac3c3c"/><rect x="219.7" y="347.0" width="1.0" height="1.5" fill="#cc6e6e"/><rect x="221.5" y="347.0" width="0.6" height="1.5" fill="#7c2626"/>
<rect x="224.9" y="348.0" width="2.4" height="1.2" fill="#ac3c3c"/><rect x="224.9" y="348.0" width="1.0" height="1.2" fill="#cc6e6e"/><rect x="226.7" y="348.0" width="0.6" height="1.2" fill="#7c2626"/>
<rect x="230.0" y="348.3" width="2.4" height="1.5" fill="#ac3c3c"/><rect x="230.0" y="348.3" width="1.0" height="1.5" fill="#cc6e6e"/><rect x="231.8" y="348.3" width="0.6" height="1.5" fill="#7c2626"/>
<rect x="240.2" y="347.2" width="2.4" height="4.0" fill="#ac3c3c"/><rect x="240.2" y="347.2" width="1.0" height="4.0" fill="#cc6e6e"/><rect x="242.0" y="347.2" width="0.6" height="4.0" fill="#7c2626"/>
<rect x="245.4" y="348.7" width="2.4" height="3.2" fill="#ac3c3c"/><rect x="245.4" y="348.7" width="1.0" height="3.2" fill="#cc6e6e"/><rect x="247.2" y="348.7" width="0.6" height="3.2" fill="#7c2626"/>
<rect x="250.5" y="350.3" width="2.4" height="2.3" fill="#ac3c3c"/><rect x="250.5" y="350.3" width="1.0" height="2.3" fill="#cc6e6e"/><rect x="252.3" y="350.3" width="0.6" height="2.3" fill="#7c2626"/>
<rect x="255.6" y="351.0" width="2.4" height="2.4" fill="#ac3c3c"/><rect x="255.6" y="351.0" width="1.0" height="2.4" fill="#cc6e6e"/><rect x="257.4" y="351.0" width="0.6" height="2.4" fill="#7c2626"/>
<rect x="260.8" y="352.7" width="2.4" height="1.3" fill="#ac3c3c"/><rect x="260.8" y="352.7" width="1.0" height="1.3" fill="#cc6e6e"/><rect x="262.6" y="352.7" width="0.6" height="1.3" fill="#7c2626"/>
<rect x="124.3" y="335.6" width="2.4" height="2.7" fill="#ac3c3c"/><rect x="124.3" y="335.6" width="1.0" height="2.7" fill="#cc6e6e"/><rect x="126.1" y="335.6" width="0.6" height="2.7" fill="#7c2626"/>
<rect x="129.5" y="335.0" width="2.4" height="4.0" fill="#ac3c3c"/><rect x="129.5" y="335.0" width="1.0" height="4.0" fill="#cc6e6e"/><rect x="131.3" y="335.0" width="0.6" height="4.0" fill="#7c2626"/>
<rect x="134.7" y="335.5" width="2.4" height="4.2" fill="#ac3c3c"/><rect x="134.7" y="335.5" width="1.0" height="4.2" fill="#cc6e6e"/><rect x="136.5" y="335.5" width="0.6" height="4.2" fill="#7c2626"/>
<rect x="145.0" y="336.5" width="2.4" height="4.6" fill="#ac3c3c"/><rect x="145.0" y="336.5" width="1.0" height="4.6" fill="#cc6e6e"/><rect x="146.8" y="336.5" width="0.6" height="4.6" fill="#7c2626"/>
<rect x="150.2" y="337.7" width="2.4" height="4.1" fill="#ac3c3c"/><rect x="150.2" y="337.7" width="1.0" height="4.1" fill="#cc6e6e"/><rect x="152.0" y="337.7" width="0.6" height="4.1" fill="#7c2626"/>
<rect x="155.4" y="339.5" width="2.4" height="3.1" fill="#ac3c3c"/><rect x="155.4" y="339.5" width="1.0" height="3.1" fill="#cc6e6e"/><rect x="157.2" y="339.5" width="0.6" height="3.1" fill="#7c2626"/>
<rect x="160.6" y="338.7" width="2.4" height="4.6" fill="#ac3c3c"/><rect x="160.6" y="338.7" width="1.0" height="4.6" fill="#cc6e6e"/><rect x="162.4" y="338.7" width="0.6" height="4.6" fill="#7c2626"/>
<rect x="165.8" y="342.1" width="2.4" height="1.9" fill="#ac3c3c"/><rect x="165.8" y="342.1" width="1.0" height="1.9" fill="#cc6e6e"/><rect x="167.6" y="342.1" width="0.6" height="1.9" fill="#7c2626"/>
<rect x="186.6" y="343.9" width="2.4" height="2.9" fill="#ac3c3c"/><rect x="186.6" y="343.9" width="1.0" height="2.9" fill="#cc6e6e"/><rect x="188.4" y="343.9" width="0.6" height="2.9" fill="#7c2626"/>
<rect x="217.8" y="346.8" width="2.4" height="4.3" fill="#ac3c3c"/><rect x="217.8" y="346.8" width="1.0" height="4.3" fill="#cc6e6e"/><rect x="219.6" y="346.8" width="0.6" height="4.3" fill="#7c2626"/>
<rect x="228.2" y="350.6" width="2.4" height="1.9" fill="#ac3c3c"/><rect x="228.2" y="350.6" width="1.0" height="1.9" fill="#cc6e6e"/><rect x="230.0" y="350.6" width="0.6" height="1.9" fill="#7c2626"/>
<rect x="238.6" y="350.8" width="2.4" height="3.1" fill="#ac3c3c"/><rect x="238.6" y="350.8" width="1.0" height="3.1" fill="#cc6e6e"/><rect x="240.4" y="350.8" width="0.6" height="3.1" fill="#7c2626"/>
<rect x="243.8" y="352.9" width="2.4" height="1.7" fill="#ac3c3c"/><rect x="243.8" y="352.9" width="1.0" height="1.7" fill="#cc6e6e"/><rect x="245.6" y="352.9" width="0.6" height="1.7" fill="#7c2626"/>
<rect x="254.2" y="353.1" width="2.4" height="2.9" fill="#ac3c3c"/><rect x="254.2" y="353.1" width="1.0" height="2.9" fill="#cc6e6e"/><rect x="256.0" y="353.1" width="0.6" height="2.9" fill="#7c2626"/>
<rect x="259.4" y="354.5" width="2.4" height="2.2" fill="#ac3c3c"/><rect x="259.4" y="354.5" width="1.0" height="2.2" fill="#cc6e6e"/><rect x="261.2" y="354.5" width="0.6" height="2.2" fill="#7c2626"/>
<rect x="121.2" y="336.5" width="2.4" height="3.9" fill="#ac3c3c"/><rect x="121.2" y="336.5" width="1.0" height="3.9" fill="#cc6e6e"/><rect x="123.0" y="336.5" width="0.6" height="3.9" fill="#7c2626"/>
<rect x="126.4" y="338.8" width="2.4" height="2.3" fill="#ac3c3c"/><rect x="126.4" y="338.8" width="1.0" height="2.3" fill="#cc6e6e"/><rect x="128.2" y="338.8" width="0.6" height="2.3" fill="#7c2626"/>
<rect x="131.7" y="337.7" width="2.4" height="4.1" fill="#ac3c3c"/><rect x="131.7" y="337.7" width="1.0" height="4.1" fill="#cc6e6e"/><rect x="133.5" y="337.7" width="0.6" height="4.1" fill="#7c2626"/>
<rect x="137.0" y="338.3" width="2.4" height="4.3" fill="#ac3c3c"/><rect x="137.0" y="338.3" width="1.0" height="4.3" fill="#cc6e6e"/><rect x="138.8" y="338.3" width="0.6" height="4.3" fill="#7c2626"/>
<rect x="142.2" y="340.7" width="2.4" height="2.7" fill="#ac3c3c"/><rect x="142.2" y="340.7" width="1.0" height="2.7" fill="#cc6e6e"/><rect x="144.0" y="340.7" width="0.6" height="2.7" fill="#7c2626"/>
<rect x="147.5" y="342.0" width="2.4" height="2.1" fill="#ac3c3c"/><rect x="147.5" y="342.0" width="1.0" height="2.1" fill="#cc6e6e"/><rect x="149.3" y="342.0" width="0.6" height="2.1" fill="#7c2626"/>
<rect x="152.8" y="340.9" width="2.4" height="4.0" fill="#ac3c3c"/><rect x="152.8" y="340.9" width="1.0" height="4.0" fill="#cc6e6e"/><rect x="154.6" y="340.9" width="0.6" height="4.0" fill="#7c2626"/>
<rect x="158.0" y="340.7" width="2.4" height="4.8" fill="#ac3c3c"/><rect x="158.0" y="340.7" width="1.0" height="4.8" fill="#cc6e6e"/><rect x="159.8" y="340.7" width="0.6" height="4.8" fill="#7c2626"/>
<rect x="163.3" y="343.9" width="2.4" height="2.4" fill="#ac3c3c"/><rect x="163.3" y="343.9" width="1.0" height="2.4" fill="#cc6e6e"/><rect x="165.1" y="343.9" width="0.6" height="2.4" fill="#7c2626"/>
<rect x="168.5" y="343.5" width="2.4" height="3.5" fill="#ac3c3c"/><rect x="168.5" y="343.5" width="1.0" height="3.5" fill="#cc6e6e"/><rect x="170.3" y="343.5" width="0.6" height="3.5" fill="#7c2626"/>
<rect x="173.8" y="343.3" width="2.4" height="4.4" fill="#ac3c3c"/><rect x="173.8" y="343.3" width="1.0" height="4.4" fill="#cc6e6e"/><rect x="175.6" y="343.3" width="0.6" height="4.4" fill="#7c2626"/>
<rect x="184.3" y="347.8" width="2.4" height="1.4" fill="#ac3c3c"/><rect x="184.3" y="347.8" width="1.0" height="1.4" fill="#cc6e6e"/><rect x="186.1" y="347.8" width="0.6" height="1.4" fill="#7c2626"/>
<rect x="189.6" y="346.1" width="2.4" height="3.8" fill="#ac3c3c"/><rect x="189.6" y="346.1" width="1.0" height="3.8" fill="#cc6e6e"/><rect x="191.4" y="346.1" width="0.6" height="3.8" fill="#7c2626"/>
<rect x="200.1" y="349.6" width="2.4" height="1.8" fill="#ac3c3c"/><rect x="200.1" y="349.6" width="1.0" height="1.8" fill="#cc6e6e"/><rect x="201.9" y="349.6" width="0.6" height="1.8" fill="#7c2626"/>
<rect x="215.9" y="351.3" width="2.4" height="2.3" fill="#ac3c3c"/><rect x="215.9" y="351.3" width="1.0" height="2.3" fill="#cc6e6e"/><rect x="217.7" y="351.3" width="0.6" height="2.3" fill="#7c2626"/>
<rect x="221.2" y="351.5" width="2.4" height="2.8" fill="#ac3c3c"/><rect x="221.2" y="351.5" width="1.0" height="2.8" fill="#cc6e6e"/><rect x="223.0" y="351.5" width="0.6" height="2.8" fill="#7c2626"/>
<rect x="226.5" y="352.7" width="2.4" height="2.4" fill="#ac3c3c"/><rect x="226.5" y="352.7" width="1.0" height="2.4" fill="#cc6e6e"/><rect x="228.3" y="352.7" width="0.6" height="2.4" fill="#7c2626"/>
<rect x="237.0" y="354.3" width="2.4" height="2.2" fill="#ac3c3c"/><rect x="237.0" y="354.3" width="1.0" height="2.2" fill="#cc6e6e"/><rect x="238.8" y="354.3" width="0.6" height="2.2" fill="#7c2626"/>
<rect x="242.3" y="355.1" width="2.4" height="2.2" fill="#ac3c3c"/><rect x="242.3" y="355.1" width="1.0" height="2.2" fill="#cc6e6e"/><rect x="244.1" y="355.1" width="0.6" height="2.2" fill="#7c2626"/>
<rect x="247.5" y="355.0" width="2.4" height="3.0" fill="#ac3c3c"/><rect x="247.5" y="355.0" width="1.0" height="3.0" fill="#cc6e6e"/><rect x="249.3" y="355.0" width="0.6" height="3.0" fill="#7c2626"/>
<rect x="252.8" y="356.8" width="2.4" height="2.0" fill="#ac3c3c"/><rect x="252.8" y="356.8" width="1.0" height="2.0" fill="#cc6e6e"/><rect x="254.6" y="356.8" width="0.6" height="2.0" fill="#7c2626"/>
<rect x="258.1" y="357.6" width="2.4" height="1.9" fill="#ac3c3c"/><rect x="258.1" y="357.6" width="1.0" height="1.9" fill="#cc6e6e"/><rect x="259.9" y="357.6" width="0.6" height="1.9" fill="#7c2626"/>
<rect x="118.1" y="338.3" width="2.4" height="4.2" fill="#ac3c3c"/><rect x="118.1" y="338.3" width="1.0" height="4.2" fill="#cc6e6e"/><rect x="119.9" y="338.3" width="0.6" height="4.2" fill="#7c2626"/>
<rect x="123.4" y="338.3" width="2.4" height="5.0" fill="#ac3c3c"/><rect x="123.4" y="338.3" width="1.0" height="5.0" fill="#cc6e6e"/><rect x="125.2" y="338.3" width="0.6" height="5.0" fill="#7c2626"/>
<rect x="128.7" y="339.9" width="2.4" height="4.1" fill="#ac3c3c"/><rect x="128.7" y="339.9" width="1.0" height="4.1" fill="#cc6e6e"/><rect x="130.5" y="339.9" width="0.6" height="4.1" fill="#7c2626"/>
<rect x="134.1" y="340.8" width="2.4" height="4.0" fill="#ac3c3c"/><rect x="134.1" y="340.8" width="1.0" height="4.0" fill="#cc6e6e"/><rect x="135.9" y="340.8" width="0.6" height="4.0" fill="#7c2626"/>
<rect x="139.4" y="341.7" width="2.4" height="3.8" fill="#ac3c3c"/><rect x="139.4" y="341.7" width="1.0" height="3.8" fill="#cc6e6e"/><rect x="141.2" y="341.7" width="0.6" height="3.8" fill="#7c2626"/>
<rect x="144.7" y="342.7" width="2.4" height="3.6" fill="#ac3c3c"/><rect x="144.7" y="342.7" width="1.0" height="3.6" fill="#cc6e6e"/><rect x="146.5" y="342.7" width="0.6" height="3.6" fill="#7c2626"/>
<rect x="150.1" y="343.4" width="2.4" height="3.7" fill="#ac3c3c"/><rect x="150.1" y="343.4" width="1.0" height="3.7" fill="#cc6e6e"/><rect x="151.9" y="343.4" width="0.6" height="3.7" fill="#7c2626"/>
<rect x="155.4" y="345.7" width="2.4" height="2.1" fill="#ac3c3c"/><rect x="155.4" y="345.7" width="1.0" height="2.1" fill="#cc6e6e"/><rect x="157.2" y="345.7" width="0.6" height="2.1" fill="#7c2626"/>
<rect x="171.4" y="348.1" width="2.4" height="2.0" fill="#ac3c3c"/><rect x="171.4" y="348.1" width="1.0" height="2.0" fill="#cc6e6e"/><rect x="173.2" y="348.1" width="0.6" height="2.0" fill="#7c2626"/>
<rect x="176.7" y="349.4" width="2.4" height="1.4" fill="#ac3c3c"/><rect x="176.7" y="349.4" width="1.0" height="1.4" fill="#cc6e6e"/><rect x="178.5" y="349.4" width="0.6" height="1.4" fill="#7c2626"/>
<rect x="182.1" y="347.7" width="2.4" height="3.9" fill="#ac3c3c"/><rect x="182.1" y="347.7" width="1.0" height="3.9" fill="#cc6e6e"/><rect x="183.9" y="347.7" width="0.6" height="3.9" fill="#7c2626"/>
<rect x="198.1" y="349.8" width="2.4" height="4.1" fill="#ac3c3c"/><rect x="198.1" y="349.8" width="1.0" height="4.1" fill="#cc6e6e"/><rect x="199.9" y="349.8" width="0.6" height="4.1" fill="#7c2626"/>
<rect x="203.4" y="352.3" width="2.4" height="2.4" fill="#ac3c3c"/><rect x="203.4" y="352.3" width="1.0" height="2.4" fill="#cc6e6e"/><rect x="205.2" y="352.3" width="0.6" height="2.4" fill="#7c2626"/>
<rect x="219.4" y="354.7" width="2.4" height="2.2" fill="#ac3c3c"/><rect x="219.4" y="354.7" width="1.0" height="2.2" fill="#cc6e6e"/><rect x="221.2" y="354.7" width="0.6" height="2.2" fill="#7c2626"/>
<rect x="224.7" y="353.7" width="2.4" height="4.0" fill="#ac3c3c"/><rect x="224.7" y="353.7" width="1.0" height="4.0" fill="#cc6e6e"/><rect x="226.5" y="353.7" width="0.6" height="4.0" fill="#7c2626"/>
<rect x="235.4" y="356.9" width="2.4" height="2.3" fill="#ac3c3c"/><rect x="235.4" y="356.9" width="1.0" height="2.3" fill="#cc6e6e"/><rect x="237.2" y="356.9" width="0.6" height="2.3" fill="#7c2626"/>
<rect x="240.7" y="357.9" width="2.4" height="2.1" fill="#ac3c3c"/><rect x="240.7" y="357.9" width="1.0" height="2.1" fill="#cc6e6e"/><rect x="242.5" y="357.9" width="0.6" height="2.1" fill="#7c2626"/>
<rect x="251.4" y="360.1" width="2.4" height="1.4" fill="#ac3c3c"/><rect x="251.4" y="360.1" width="1.0" height="1.4" fill="#cc6e6e"/><rect x="253.2" y="360.1" width="0.6" height="1.4" fill="#7c2626"/>
<rect x="256.7" y="360.2" width="2.4" height="2.1" fill="#ac3c3c"/><rect x="256.7" y="360.2" width="1.0" height="2.1" fill="#cc6e6e"/><rect x="258.5" y="360.2" width="0.6" height="2.1" fill="#7c2626"/>
<rect x="115.0" y="339.5" width="2.4" height="5.0" fill="#ac3c3c"/><rect x="115.0" y="339.5" width="1.0" height="5.0" fill="#cc6e6e"/><rect x="116.8" y="339.5" width="0.6" height="5.0" fill="#7c2626"/>
<rect x="120.4" y="341.5" width="2.4" height="3.9" fill="#ac3c3c"/><rect x="120.4" y="341.5" width="1.0" height="3.9" fill="#cc6e6e"/><rect x="122.2" y="341.5" width="0.6" height="3.9" fill="#7c2626"/>
<rect x="125.8" y="343.0" width="2.4" height="3.2" fill="#ac3c3c"/><rect x="125.8" y="343.0" width="1.0" height="3.2" fill="#cc6e6e"/><rect x="127.6" y="343.0" width="0.6" height="3.2" fill="#7c2626"/>
<rect x="131.2" y="344.4" width="2.4" height="2.5" fill="#ac3c3c"/><rect x="131.2" y="344.4" width="1.0" height="2.5" fill="#cc6e6e"/><rect x="133.0" y="344.4" width="0.6" height="2.5" fill="#7c2626"/>
<rect x="136.6" y="345.2" width="2.4" height="2.5" fill="#ac3c3c"/><rect x="136.6" y="345.2" width="1.0" height="2.5" fill="#cc6e6e"/><rect x="138.4" y="345.2" width="0.6" height="2.5" fill="#7c2626"/>
<rect x="142.0" y="345.0" width="2.4" height="3.5" fill="#ac3c3c"/><rect x="142.0" y="345.0" width="1.0" height="3.5" fill="#cc6e6e"/><rect x="143.8" y="345.0" width="0.6" height="3.5" fill="#7c2626"/>
<rect x="147.4" y="346.1" width="2.4" height="3.2" fill="#ac3c3c"/><rect x="147.4" y="346.1" width="1.0" height="3.2" fill="#cc6e6e"/><rect x="149.2" y="346.1" width="0.6" height="3.2" fill="#7c2626"/>
<rect x="152.8" y="347.1" width="2.4" height="2.9" fill="#ac3c3c"/><rect x="152.8" y="347.1" width="1.0" height="2.9" fill="#cc6e6e"/><rect x="154.6" y="347.1" width="0.6" height="2.9" fill="#7c2626"/>
<rect x="169.0" y="350.9" width="2.4" height="1.5" fill="#ac3c3c"/><rect x="169.0" y="350.9" width="1.0" height="1.5" fill="#cc6e6e"/><rect x="170.8" y="350.9" width="0.6" height="1.5" fill="#7c2626"/>
<rect x="179.8" y="352.1" width="2.4" height="1.9" fill="#ac3c3c"/><rect x="179.8" y="352.1" width="1.0" height="1.9" fill="#cc6e6e"/><rect x="181.6" y="352.1" width="0.6" height="1.9" fill="#7c2626"/>
<rect x="201.4" y="353.7" width="2.4" height="3.4" fill="#ac3c3c"/><rect x="201.4" y="353.7" width="1.0" height="3.4" fill="#cc6e6e"/><rect x="203.2" y="353.7" width="0.6" height="3.4" fill="#7c2626"/>
<rect x="212.2" y="356.9" width="2.4" height="1.8" fill="#ac3c3c"/><rect x="212.2" y="356.9" width="1.0" height="1.8" fill="#cc6e6e"/><rect x="214.0" y="356.9" width="0.6" height="1.8" fill="#7c2626"/>
<rect x="217.6" y="357.2" width="2.4" height="2.3" fill="#ac3c3c"/><rect x="217.6" y="357.2" width="1.0" height="2.3" fill="#cc6e6e"/><rect x="219.4" y="357.2" width="0.6" height="2.3" fill="#7c2626"/>
<rect x="223.0" y="357.2" width="2.4" height="3.1" fill="#ac3c3c"/><rect x="223.0" y="357.2" width="1.0" height="3.1" fill="#cc6e6e"/><rect x="224.8" y="357.2" width="0.6" height="3.1" fill="#7c2626"/>
<rect x="228.4" y="357.4" width="2.4" height="3.7" fill="#ac3c3c"/><rect x="228.4" y="357.4" width="1.0" height="3.7" fill="#cc6e6e"/><rect x="230.2" y="357.4" width="0.6" height="3.7" fill="#7c2626"/>
<rect x="244.6" y="359.7" width="2.4" height="3.8" fill="#ac3c3c"/><rect x="244.6" y="359.7" width="1.0" height="3.8" fill="#cc6e6e"/><rect x="246.4" y="359.7" width="0.6" height="3.8" fill="#7c2626"/>
<rect x="250.0" y="361.8" width="2.4" height="2.4" fill="#ac3c3c"/><rect x="250.0" y="361.8" width="1.0" height="2.4" fill="#cc6e6e"/><rect x="251.8" y="361.8" width="0.6" height="2.4" fill="#7c2626"/>
<rect x="255.4" y="361.9" width="2.4" height="3.1" fill="#ac3c3c"/><rect x="255.4" y="361.9" width="1.0" height="3.1" fill="#cc6e6e"/><rect x="257.2" y="361.9" width="0.6" height="3.1" fill="#7c2626"/>
<text x="104.60" y="271.10" font-size="6.1" font-weight="bold" text-anchor="end" fill="#111" style="stroke-width:0.4px">10</text>
<text x="105.24" y="287.10" font-size="6.1" font-weight="bold" text-anchor="end" fill="#111" style="stroke-width:0.4px">8</text>
<text x="105.88" y="302.90" font-size="6.1" font-weight="bold" text-anchor="end" fill="#111" style="stroke-width:0.4px">6</text>
<text x="106.52" y="317.90" font-size="6.1" font-weight="bold" text-anchor="end" fill="#111" style="stroke-width:0.4px">4</text>
<text x="107.16" y="332.90" font-size="6.1" font-weight="bold" text-anchor="end" fill="#111" style="stroke-width:0.4px">2</text>
<text x="107.80" y="348.30" font-size="6.1" font-weight="bold" text-anchor="end" fill="#111" style="stroke-width:0.4px">0</text>
<text x="97.60" y="308.00" font-size="6.0" font-weight="bold" text-anchor="middle" fill="#111" transform="rotate(-90 97.60 308.00)" style="stroke-width:0.4px" textLength="34.5" lengthAdjust="spacingAndGlyphs">% Frequency</text>
<line x1="235.4" y1="368.7" x2="213.6" y2="364.5" stroke="#111" stroke-width="1.6"/><polygon points="209.7,363.7 215.1,362.0 214.1,367.3" fill="#111"/>
<line x1="265.3" y1="360.5" x2="270.0" y2="350.9" stroke="#111" stroke-width="1.6"/><polygon points="271.7,347.3 271.9,353.0 267.1,350.6" fill="#111"/>
<text x="237.30" y="373.40" font-size="6.0" font-weight="bold" text-anchor="start" fill="#111" transform="rotate(7 237.30 373.40)" style="stroke-width:0.45px" textLength="21.6" lengthAdjust="spacingAndGlyphs">V Family</text>
<text x="260.20" y="367.90" font-size="6.0" font-weight="bold" text-anchor="start" fill="#111" style="stroke-width:0.45px" textLength="16.4" lengthAdjust="spacingAndGlyphs">J Gene</text>
<rect x="285.8" y="245.0" width="197.5" height="137.3" fill="#fff" stroke="#bcbcbc" stroke-width="1.4"/>
<linearGradient id="sw4" x1="0" y1="0" x2="1" y2="0"><stop offset="0" stop-color="#9e9e9e"/><stop offset="1" stop-color="#b0b0b0"/></linearGradient>
<polygon points="305.9,268.7 339.7,257.7 339.9,330.2 309.0,348.7" fill="url(#sw4)"/>
<polygon points="339.7,257.7 478.7,264.6 475.0,344.6 339.9,330.2" fill="#f5e7e7"/>
<line x1="339.9" y1="315.7" x2="475.7" y2="328.6" stroke="#d0c0c0" stroke-width="0.9"/>
<line x1="339.8" y1="301.2" x2="476.5" y2="312.6" stroke="#d0c0c0" stroke-width="0.9"/>
<line x1="339.8" y1="286.7" x2="477.2" y2="296.6" stroke="#d0c0c0" stroke-width="0.9"/>
<line x1="339.7" y1="272.2" x2="478.0" y2="280.6" stroke="#d0c0c0" stroke-width="0.9"/>
<line x1="339.7" y1="257.7" x2="478.7" y2="264.6" stroke="#d0c0c0" stroke-width="0.9"/>
<polygon points="309.0,348.7 460.0,367.5 475.0,344.6 339.9,330.2" fill="#bcb5b6"/>
<path d="M314.6 349.4L344.9 330.7M320.2 350.1L349.9 331.3M325.8 350.8L354.9 331.8M331.4 351.5L359.9 332.3M337.0 352.2L364.9 332.9M342.6 352.9L369.9 333.4M348.1 353.6L374.9 333.9M353.7 354.3L379.9 334.5M359.3 355.0L384.9 335.0M364.9 355.7L389.9 335.5M370.5 356.4L394.9 336.1M376.1 357.1L399.9 336.6M381.7 357.8L404.9 337.1M387.3 358.4L410.0 337.7M392.9 359.1L415.0 338.2M398.5 359.8L420.0 338.7M404.1 360.5L425.0 339.3M409.7 361.2L430.0 339.8M415.3 361.9L435.0 340.3M420.9 362.6L440.0 340.9M426.4 363.3L445.0 341.4M432.0 364.0L450.0 341.9M437.6 364.7L455.0 342.5M443.2 365.4L460.0 343.0M448.8 366.1L465.0 343.5M454.4 366.8L470.0 344.1M460.0 367.5L475.0 344.6" stroke="#cdc5c6" stroke-width="1.3" fill="none"/>
<path d="M340.1 330.6h1.6v1.6h-1.6zM345.1 331.1h1.6v1.6h-1.6zM350.1 331.7h1.6v1.6h-1.6zM355.2 332.2h1.6v1.6h-1.6zM360.2 332.8h1.6v1.6h-1.6zM365.2 333.3h1.6v1.6h-1.6zM370.3 333.8h1.6v1.6h-1.6zM375.3 334.4h1.6v1.6h-1.6zM380.3 334.9h1.6v1.6h-1.6zM385.4 335.5h1.6v1.6h-1.6zM390.4 336.0h1.6v1.6h-1.6zM395.4 336.6h1.6v1.6h-1.6zM400.5 337.1h1.6v1.6h-1.6zM405.5 337.6h1.6v1.6h-1.6zM410.5 338.2h1.6v1.6h-1.6zM415.6 338.7h1.6v1.6h-1.6zM420.6 339.3h1.6v1.6h-1.6zM425.6 339.8h1.6v1.6h-1.6zM430.7 340.3h1.6v1.6h-1.6zM435.7 340.9h1.6v1.6h-1.6zM440.7 341.4h1.6v1.6h-1.6zM445.8 342.0h1.6v1.6h-1.6zM450.8 342.5h1.6v1.6h-1.6zM455.8 343.0h1.6v1.6h-1.6zM460.9 343.6h1.6v1.6h-1.6zM465.9 344.1h1.6v1.6h-1.6zM470.9 344.7h1.6v1.6h-1.6zM337.0 332.5h1.6v1.6h-1.6zM342.1 333.0h1.6v1.6h-1.6zM347.2 333.6h1.6v1.6h-1.6zM352.3 334.1h1.6v1.6h-1.6zM357.4 334.7h1.6v1.6h-1.6zM362.5 335.2h1.6v1.6h-1.6zM367.6 335.8h1.6v1.6h-1.6zM372.7 336.4h1.6v1.6h-1.6zM377.7 336.9h1.6v1.6h-1.6zM382.8 337.5h1.6v1.6h-1.6zM387.9 338.0h1.6v1.6h-1.6zM393.0 338.6h1.6v1.6h-1.6zM398.1 339.1h1.6v1.6h-1.6zM403.2 339.7h1.6v1.6h-1.6zM408.3 340.3h1.6v1.6h-1.6zM413.4 340.8h1.6v1.6h-1.6zM418.5 341.4h1.6v1.6h-1.6zM423.6 341.9h1.6v1.6h-1.6zM428.7 342.5h1.6v1.6h-1.6zM433.8 343.1h1.6v1.6h-1.6zM438.9 343.6h1.6v1.6h-1.6zM443.9 344.2h1.6v1.6h-1.6zM449.0 344.7h1.6v1.6h-1.6zM454.1 345.3h1.6v1.6h-1.6zM459.2 345.8h1.6v1.6h-1.6zM464.3 346.4h1.6v1.6h-1.6zM469.4 347.0h1.6v1.6h-1.6zM334.0 334.3h1.6v1.6h-1.6zM339.1 334.9h1.6v1.6h-1.6zM344.3 335.5h1.6v1.6h-1.6zM349.4 336.0h1.6v1.6h-1.6zM354.6 336.6h1.6v1.6h-1.6zM359.7 337.2h1.6v1.6h-1.6zM364.9 337.8h1.6v1.6h-1.6zM370.0 338.3h1.6v1.6h-1.6zM375.2 338.9h1.6v1.6h-1.6zM380.3 339.5h1.6v1.6h-1.6zM385.5 340.1h1.6v1.6h-1.6zM390.6 340.6h1.6v1.6h-1.6zM395.8 341.2h1.6v1.6h-1.6zM400.9 341.8h1.6v1.6h-1.6zM406.1 342.3h1.6v1.6h-1.6zM411.2 342.9h1.6v1.6h-1.6zM416.4 343.5h1.6v1.6h-1.6zM421.5 344.1h1.6v1.6h-1.6zM426.7 344.6h1.6v1.6h-1.6zM431.8 345.2h1.6v1.6h-1.6zM437.0 345.8h1.6v1.6h-1.6zM442.1 346.4h1.6v1.6h-1.6zM447.3 346.9h1.6v1.6h-1.6zM452.4 347.5h1.6v1.6h-1.6zM457.6 348.1h1.6v1.6h-1.6zM462.7 348.7h1.6v1.6h-1.6zM467.9 349.2h1.6v1.6h-1.6zM330.9 336.2h1.6v1.6h-1.6zM336.1 336.8h1.6v1.6h-1.6zM341.3 337.4h1.6v1.6h-1.6zM346.5 337.9h1.6v1.6h-1.6zM351.7 338.5h1.6v1.6h-1.6zM356.9 339.1h1.6v1.6h-1.6zM362.1 339.7h1.6v1.6h-1.6zM367.4 340.3h1.6v1.6h-1.6zM372.6 340.9h1.6v1.6h-1.6zM377.8 341.5h1.6v1.6h-1.6zM383.0 342.1h1.6v1.6h-1.6zM388.2 342.7h1.6v1.6h-1.6zM393.4 343.3h1.6v1.6h-1.6zM398.6 343.8h1.6v1.6h-1.6zM403.8 344.4h1.6v1.6h-1.6zM409.0 345.0h1.6v1.6h-1.6zM414.2 345.6h1.6v1.6h-1.6zM419.5 346.2h1.6v1.6h-1.6zM424.7 346.8h1.6v1.6h-1.6zM429.9 347.4h1.6v1.6h-1.6zM435.1 348.0h1.6v1.6h-1.6zM440.3 348.6h1.6v1.6h-1.6zM445.5 349.2h1.6v1.6h-1.6zM450.7 349.7h1.6v1.6h-1.6zM455.9 350.3h1.6v1.6h-1.6zM461.1 350.9h1.6v1.6h-1.6zM466.3 351.5h1.6v1.6h-1.6zM327.8 338.0h1.6v1.6h-1.6zM333.1 338.6h1.6v1.6h-1.6zM338.4 339.2h1.6v1.6h-1.6zM343.6 339.8h1.6v1.6h-1.6zM348.9 340.5h1.6v1.6h-1.6zM354.2 341.1h1.6v1.6h-1.6zM359.4 341.7h1.6v1.6h-1.6zM364.7 342.3h1.6v1.6h-1.6zM370.0 342.9h1.6v1.6h-1.6zM375.2 343.5h1.6v1.6h-1.6zM380.5 344.1h1.6v1.6h-1.6zM385.8 344.7h1.6v1.6h-1.6zM391.1 345.3h1.6v1.6h-1.6zM396.3 345.9h1.6v1.6h-1.6zM401.6 346.5h1.6v1.6h-1.6zM406.9 347.1h1.6v1.6h-1.6zM412.1 347.7h1.6v1.6h-1.6zM417.4 348.3h1.6v1.6h-1.6zM422.7 348.9h1.6v1.6h-1.6zM427.9 349.6h1.6v1.6h-1.6zM433.2 350.2h1.6v1.6h-1.6zM438.5 350.8h1.6v1.6h-1.6zM443.7 351.4h1.6v1.6h-1.6zM449.0 352.0h1.6v1.6h-1.6zM454.3 352.6h1.6v1.6h-1.6zM459.5 353.2h1.6v1.6h-1.6zM464.8 353.8h1.6v1.6h-1.6zM324.8 339.9h1.6v1.6h-1.6zM330.1 340.5h1.6v1.6h-1.6zM335.4 341.1h1.6v1.6h-1.6zM340.8 341.8h1.6v1.6h-1.6zM346.1 342.4h1.6v1.6h-1.6zM351.4 343.0h1.6v1.6h-1.6zM356.7 343.6h1.6v1.6h-1.6zM362.1 344.2h1.6v1.6h-1.6zM367.4 344.9h1.6v1.6h-1.6zM372.7 345.5h1.6v1.6h-1.6zM378.0 346.1h1.6v1.6h-1.6zM383.4 346.7h1.6v1.6h-1.6zM388.7 347.4h1.6v1.6h-1.6zM394.0 348.0h1.6v1.6h-1.6zM399.4 348.6h1.6v1.6h-1.6zM404.7 349.2h1.6v1.6h-1.6zM410.0 349.9h1.6v1.6h-1.6zM415.3 350.5h1.6v1.6h-1.6zM420.7 351.1h1.6v1.6h-1.6zM426.0 351.7h1.6v1.6h-1.6zM431.3 352.3h1.6v1.6h-1.6zM436.6 353.0h1.6v1.6h-1.6zM442.0 353.6h1.6v1.6h-1.6zM447.3 354.2h1.6v1.6h-1.6zM452.6 354.8h1.6v1.6h-1.6zM458.0 355.5h1.6v1.6h-1.6zM463.3 356.1h1.6v1.6h-1.6zM321.7 341.7h1.6v1.6h-1.6zM327.1 342.4h1.6v1.6h-1.6zM332.5 343.0h1.6v1.6h-1.6zM337.9 343.7h1.6v1.6h-1.6zM343.3 344.3h1.6v1.6h-1.6zM348.6 344.9h1.6v1.6h-1.6zM354.0 345.6h1.6v1.6h-1.6zM359.4 346.2h1.6v1.6h-1.6zM364.8 346.9h1.6v1.6h-1.6zM370.2 347.5h1.6v1.6h-1.6zM375.6 348.1h1.6v1.6h-1.6zM381.0 348.8h1.6v1.6h-1.6zM386.3 349.4h1.6v1.6h-1.6zM391.7 350.1h1.6v1.6h-1.6zM397.1 350.7h1.6v1.6h-1.6zM402.5 351.3h1.6v1.6h-1.6zM407.9 352.0h1.6v1.6h-1.6zM413.3 352.6h1.6v1.6h-1.6zM418.7 353.3h1.6v1.6h-1.6zM424.1 353.9h1.6v1.6h-1.6zM429.4 354.5h1.6v1.6h-1.6zM434.8 355.2h1.6v1.6h-1.6zM440.2 355.8h1.6v1.6h-1.6zM445.6 356.4h1.6v1.6h-1.6zM451.0 357.1h1.6v1.6h-1.6zM456.4 357.7h1.6v1.6h-1.6zM461.8 358.4h1.6v1.6h-1.6zM318.6 343.6h1.6v1.6h-1.6zM324.1 344.3h1.6v1.6h-1.6zM329.5 344.9h1.6v1.6h-1.6zM335.0 345.6h1.6v1.6h-1.6zM340.4 346.2h1.6v1.6h-1.6zM345.9 346.9h1.6v1.6h-1.6zM351.3 347.5h1.6v1.6h-1.6zM356.8 348.2h1.6v1.6h-1.6zM362.2 348.8h1.6v1.6h-1.6zM367.7 349.5h1.6v1.6h-1.6zM373.1 350.2h1.6v1.6h-1.6zM378.5 350.8h1.6v1.6h-1.6zM384.0 351.5h1.6v1.6h-1.6zM389.4 352.1h1.6v1.6h-1.6zM394.9 352.8h1.6v1.6h-1.6zM400.3 353.4h1.6v1.6h-1.6zM405.8 354.1h1.6v1.6h-1.6zM411.2 354.7h1.6v1.6h-1.6zM416.7 355.4h1.6v1.6h-1.6zM422.1 356.1h1.6v1.6h-1.6zM427.6 356.7h1.6v1.6h-1.6zM433.0 357.4h1.6v1.6h-1.6zM438.4 358.0h1.6v1.6h-1.6zM443.9 358.7h1.6v1.6h-1.6zM449.3 359.3h1.6v1.6h-1.6zM454.8 360.0h1.6v1.6h-1.6zM460.2 360.6h1.6v1.6h-1.6zM315.6 345.5h1.6v1.6h-1.6zM321.1 346.1h1.6v1.6h-1.6zM326.6 346.8h1.6v1.6h-1.6zM332.1 347.5h1.6v1.6h-1.6zM337.6 348.1h1.6v1.6h-1.6zM343.1 348.8h1.6v1.6h-1.6zM348.6 349.5h1.6v1.6h-1.6zM354.1 350.2h1.6v1.6h-1.6zM359.6 350.8h1.6v1.6h-1.6zM365.1 351.5h1.6v1.6h-1.6zM370.6 352.2h1.6v1.6h-1.6zM376.1 352.9h1.6v1.6h-1.6zM381.6 353.5h1.6v1.6h-1.6zM387.1 354.2h1.6v1.6h-1.6zM392.6 354.9h1.6v1.6h-1.6zM398.2 355.5h1.6v1.6h-1.6zM403.7 356.2h1.6v1.6h-1.6zM409.2 356.9h1.6v1.6h-1.6zM414.7 357.6h1.6v1.6h-1.6zM420.2 358.2h1.6v1.6h-1.6zM425.7 358.9h1.6v1.6h-1.6zM431.2 359.6h1.6v1.6h-1.6zM436.7 360.2h1.6v1.6h-1.6zM442.2 360.9h1.6v1.6h-1.6zM447.7 361.6h1.6v1.6h-1.6zM453.2 362.3h1.6v1.6h-1.6zM458.7 362.9h1.6v1.6h-1.6zM312.5 347.3h1.6v1.6h-1.6zM318.1 348.0h1.6v1.6h-1.6zM323.7 348.7h1.6v1.6h-1.6zM329.2 349.4h1.6v1.6h-1.6zM334.8 350.1h1.6v1.6h-1.6zM340.3 350.8h1.6v1.6h-1.6zM345.9 351.4h1.6v1.6h-1.6zM351.5 352.1h1.6v1.6h-1.6zM357.0 352.8h1.6v1.6h-1.6zM362.6 353.5h1.6v1.6h-1.6zM368.2 354.2h1.6v1.6h-1.6zM373.7 354.9h1.6v1.6h-1.6zM379.3 355.6h1.6v1.6h-1.6zM384.8 356.3h1.6v1.6h-1.6zM390.4 357.0h1.6v1.6h-1.6zM396.0 357.6h1.6v1.6h-1.6zM401.5 358.3h1.6v1.6h-1.6zM407.1 359.0h1.6v1.6h-1.6zM412.7 359.7h1.6v1.6h-1.6zM418.2 360.4h1.6v1.6h-1.6zM423.8 361.1h1.6v1.6h-1.6zM429.4 361.8h1.6v1.6h-1.6zM434.9 362.5h1.6v1.6h-1.6zM440.5 363.1h1.6v1.6h-1.6zM446.0 363.8h1.6v1.6h-1.6zM451.6 364.5h1.6v1.6h-1.6zM457.2 365.2h1.6v1.6h-1.6z" fill="#883838"/>
<rect x="368.9" y="260.2" width="2.5" height="71.5" fill="#ac3c3c"/><rect x="368.9" y="260.2" width="1.0" height="71.5" fill="#cc6e6e"/><rect x="370.8" y="260.2" width="0.6" height="71.5" fill="#7c2626"/>
<rect x="433.6" y="263.6" width="2.5" height="75.2" fill="#ac3c3c"/><rect x="433.6" y="263.6" width="1.0" height="75.2" fill="#cc6e6e"/><rect x="435.5" y="263.6" width="0.6" height="75.2" fill="#7c2626"/>
<rect x="350.6" y="321.0" width="2.2" height="8.6" fill="#ac3c3c"/><rect x="350.6" y="321.0" width="0.9" height="8.6" fill="#cc6e6e"/><rect x="352.2" y="321.0" width="0.6" height="8.6" fill="#7c2626"/>
<rect x="355.2" y="327.3" width="2.2" height="3.2" fill="#ac3c3c"/><rect x="355.2" y="327.3" width="0.9" height="3.2" fill="#cc6e6e"/><rect x="356.8" y="327.3" width="0.6" height="3.2" fill="#7c2626"/>
<rect x="359.9" y="329.0" width="2.2" height="2.0" fill="#ac3c3c"/><rect x="359.9" y="329.0" width="0.9" height="2.0" fill="#cc6e6e"/><rect x="361.5" y="329.0" width="0.6" height="2.0" fill="#7c2626"/>
<rect x="364.8" y="328.5" width="2.2" height="2.5" fill="#ac3c3c"/><rect x="364.8" y="328.5" width="0.9" height="2.5" fill="#cc6e6e"/><rect x="366.4" y="328.5" width="0.6" height="2.5" fill="#7c2626"/>
<rect x="443.7" y="338.8" width="1.9" height="5.2" fill="#ac3c3c"/><rect x="443.7" y="338.8" width="0.8" height="5.2" fill="#cc6e6e"/><rect x="444.9" y="338.8" width="0.6" height="5.2" fill="#7c2626"/>
<rect x="470.4" y="338.8" width="1.9" height="3.2" fill="#ac3c3c"/><rect x="470.4" y="338.8" width="0.8" height="3.2" fill="#cc6e6e"/><rect x="471.7" y="338.8" width="0.6" height="3.2" fill="#7c2626"/>
<rect x="341.7" y="326.7" width="2.4" height="7.2" fill="#ac3c3c"/><rect x="341.7" y="326.7" width="1.0" height="7.2" fill="#cc6e6e"/><rect x="343.5" y="326.7" width="0.6" height="7.2" fill="#7c2626"/>
<rect x="346.8" y="327.4" width="2.4" height="6.9" fill="#ac3c3c"/><rect x="346.8" y="327.4" width="1.0" height="6.9" fill="#cc6e6e"/><rect x="348.6" y="327.4" width="0.6" height="6.9" fill="#7c2626"/>
<rect x="448.6" y="342.7" width="2.4" height="2.8" fill="#ac3c3c"/><rect x="448.6" y="342.7" width="1.0" height="2.8" fill="#cc6e6e"/><rect x="450.4" y="342.7" width="0.6" height="2.8" fill="#7c2626"/>
<rect x="354.2" y="334.1" width="2.4" height="3.3" fill="#ac3c3c"/><rect x="354.2" y="334.1" width="1.0" height="3.3" fill="#cc6e6e"/><rect x="356.0" y="334.1" width="0.6" height="3.3" fill="#7c2626"/>
<rect x="426.3" y="340.9" width="2.4" height="4.6" fill="#ac3c3c"/><rect x="426.3" y="340.9" width="1.0" height="4.6" fill="#cc6e6e"/><rect x="428.1" y="340.9" width="0.6" height="4.6" fill="#7c2626"/>
<rect x="446.9" y="342.1" width="2.4" height="5.7" fill="#ac3c3c"/><rect x="446.9" y="342.1" width="1.0" height="5.7" fill="#cc6e6e"/><rect x="448.7" y="342.1" width="0.6" height="5.7" fill="#7c2626"/>
<rect x="452.0" y="344.8" width="2.4" height="3.5" fill="#ac3c3c"/><rect x="452.0" y="344.8" width="1.0" height="3.5" fill="#cc6e6e"/><rect x="453.8" y="344.8" width="0.6" height="3.5" fill="#7c2626"/>
<rect x="335.7" y="334.6" width="2.4" height="3.0" fill="#ac3c3c"/><rect x="335.7" y="334.6" width="1.0" height="3.0" fill="#cc6e6e"/><rect x="337.5" y="334.6" width="0.6" height="3.0" fill="#7c2626"/>
<rect x="340.9" y="336.7" width="2.4" height="1.5" fill="#ac3c3c"/><rect x="340.9" y="336.7" width="1.0" height="1.5" fill="#cc6e6e"/><rect x="342.7" y="336.7" width="0.6" height="1.5" fill="#7c2626"/>
<rect x="382.6" y="337.4" width="2.4" height="5.5" fill="#ac3c3c"/><rect x="382.6" y="337.4" width="1.0" height="5.5" fill="#cc6e6e"/><rect x="384.4" y="337.4" width="0.6" height="5.5" fill="#7c2626"/>
<rect x="387.8" y="342.0" width="2.4" height="1.5" fill="#ac3c3c"/><rect x="387.8" y="342.0" width="1.0" height="1.5" fill="#cc6e6e"/><rect x="389.6" y="342.0" width="0.6" height="1.5" fill="#7c2626"/>
<rect x="465.9" y="343.3" width="2.4" height="9.0" fill="#ac3c3c"/><rect x="465.9" y="343.3" width="1.0" height="9.0" fill="#cc6e6e"/><rect x="467.7" y="343.3" width="0.6" height="9.0" fill="#7c2626"/>
<rect x="390.7" y="342.9" width="2.4" height="3.2" fill="#ac3c3c"/><rect x="390.7" y="342.9" width="1.0" height="3.2" fill="#cc6e6e"/><rect x="392.5" y="342.9" width="0.6" height="3.2" fill="#7c2626"/>
<rect x="392.6" y="333.7" width="1.9" height="12.3" fill="#ac3c3c"/><rect x="392.6" y="333.7" width="0.8" height="12.3" fill="#cc6e6e"/><rect x="393.8" y="333.7" width="0.6" height="12.3" fill="#7c2626"/>
<rect x="393.6" y="341.5" width="2.4" height="7.2" fill="#ac3c3c"/><rect x="393.6" y="341.5" width="1.0" height="7.2" fill="#cc6e6e"/><rect x="395.4" y="341.5" width="0.6" height="7.2" fill="#7c2626"/>
<rect x="415.9" y="344.0" width="1.9" height="8.0" fill="#ac3c3c"/><rect x="415.9" y="344.0" width="0.8" height="8.0" fill="#cc6e6e"/><rect x="417.1" y="344.0" width="0.6" height="8.0" fill="#7c2626"/>
<rect x="448.9" y="342.0" width="1.9" height="9.0" fill="#ac3c3c"/><rect x="448.9" y="342.0" width="0.8" height="9.0" fill="#cc6e6e"/><rect x="450.1" y="342.0" width="0.6" height="9.0" fill="#7c2626"/>
<rect x="375.2" y="345.8" width="2.4" height="3.1" fill="#ac3c3c"/><rect x="375.2" y="345.8" width="1.0" height="3.1" fill="#cc6e6e"/><rect x="377.0" y="345.8" width="0.6" height="3.1" fill="#7c2626"/>
<rect x="323.7" y="343.7" width="2.4" height="1.4" fill="#ac3c3c"/><rect x="323.7" y="343.7" width="1.0" height="1.4" fill="#cc6e6e"/><rect x="325.5" y="343.7" width="0.6" height="1.4" fill="#7c2626"/>
<rect x="367.3" y="345.0" width="2.4" height="5.3" fill="#ac3c3c"/><rect x="367.3" y="345.0" width="1.0" height="5.3" fill="#cc6e6e"/><rect x="369.1" y="345.0" width="0.6" height="5.3" fill="#7c2626"/>
<rect x="375.7" y="343.9" width="2.4" height="9.7" fill="#ac3c3c"/><rect x="375.7" y="343.9" width="1.0" height="9.7" fill="#cc6e6e"/><rect x="377.5" y="343.9" width="0.6" height="9.7" fill="#7c2626"/>
<rect x="334.4" y="346.2" width="2.4" height="4.7" fill="#ac3c3c"/><rect x="334.4" y="346.2" width="1.0" height="4.7" fill="#cc6e6e"/><rect x="336.2" y="346.2" width="0.6" height="4.7" fill="#7c2626"/>
<rect x="367.8" y="351.6" width="2.4" height="3.4" fill="#ac3c3c"/><rect x="367.8" y="351.6" width="1.0" height="3.4" fill="#cc6e6e"/><rect x="369.6" y="351.6" width="0.6" height="3.4" fill="#7c2626"/>
<rect x="406.7" y="353.5" width="2.4" height="6.3" fill="#ac3c3c"/><rect x="406.7" y="353.5" width="1.0" height="6.3" fill="#cc6e6e"/><rect x="408.5" y="353.5" width="0.6" height="6.3" fill="#7c2626"/>
<rect x="440.1" y="361.4" width="2.4" height="2.6" fill="#ac3c3c"/><rect x="440.1" y="361.4" width="1.0" height="2.6" fill="#cc6e6e"/><rect x="441.9" y="361.4" width="0.6" height="2.6" fill="#7c2626"/>
<rect x="451.2" y="357.1" width="2.4" height="8.2" fill="#ac3c3c"/><rect x="451.2" y="357.1" width="1.0" height="8.2" fill="#cc6e6e"/><rect x="453.0" y="357.1" width="0.6" height="8.2" fill="#7c2626"/>
<rect x="456.8" y="357.0" width="2.4" height="9.0" fill="#ac3c3c"/><rect x="456.8" y="357.0" width="1.0" height="9.0" fill="#cc6e6e"/><rect x="458.6" y="357.0" width="0.6" height="9.0" fill="#7c2626"/>
<rect x="336.1" y="306.5" width="2.8" height="45.0" fill="#ac3c3c"/><rect x="336.1" y="306.5" width="1.1" height="45.0" fill="#cc6e6e"/><rect x="338.3" y="306.5" width="0.6" height="45.0" fill="#7c2626"/>
<rect x="339.1" y="323.3" width="2.8" height="27.7" fill="#ac3c3c"/><rect x="339.1" y="323.3" width="1.1" height="27.7" fill="#cc6e6e"/><rect x="341.3" y="323.3" width="0.6" height="27.7" fill="#7c2626"/>
<rect x="342.3" y="336.5" width="2.2" height="13.5" fill="#ac3c3c"/><rect x="342.3" y="336.5" width="0.9" height="13.5" fill="#cc6e6e"/><rect x="343.9" y="336.5" width="0.6" height="13.5" fill="#7c2626"/>
<rect x="332.1" y="341.0" width="2.2" height="9.0" fill="#ac3c3c"/><rect x="332.1" y="341.0" width="0.9" height="9.0" fill="#cc6e6e"/><rect x="333.7" y="341.0" width="0.6" height="9.0" fill="#7c2626"/>
<text x="303.20" y="271.40" font-size="6.1" font-weight="bold" text-anchor="end" fill="#111" style="stroke-width:0.4px">10</text>
<text x="303.80" y="287.30" font-size="6.1" font-weight="bold" text-anchor="end" fill="#111" style="stroke-width:0.4px">8</text>
<text x="304.40" y="303.80" font-size="6.1" font-weight="bold" text-anchor="end" fill="#111" style="stroke-width:0.4px">6</text>
<text x="305.00" y="320.10" font-size="6.1" font-weight="bold" text-anchor="end" fill="#111" style="stroke-width:0.4px">4</text>
<text x="305.60" y="336.00" font-size="6.1" font-weight="bold" text-anchor="end" fill="#111" style="stroke-width:0.4px">2</text>
<text x="306.20" y="351.20" font-size="6.1" font-weight="bold" text-anchor="end" fill="#111" style="stroke-width:0.4px">0</text>
<text x="295.40" y="305.00" font-size="6.0" font-weight="bold" text-anchor="middle" fill="#111" transform="rotate(-90 295.40 305.00)" style="stroke-width:0.4px" textLength="34.5" lengthAdjust="spacingAndGlyphs">% Frequency</text>
<line x1="435.4" y1="368.7" x2="410.5" y2="364.8" stroke="#111" stroke-width="1.6"/><polygon points="406.5,364.2 411.9,362.3 411.0,367.6" fill="#111"/>
<line x1="468.4" y1="361.5" x2="473.0" y2="352.6" stroke="#111" stroke-width="1.6"/><polygon points="474.9,349.1 475.0,354.8 470.2,352.3" fill="#111"/>
<text x="436.20" y="374.30" font-size="6.0" font-weight="bold" text-anchor="start" fill="#111" transform="rotate(7 436.20 374.30)" style="stroke-width:0.45px" textLength="21.6" lengthAdjust="spacingAndGlyphs">V Family</text>
<text x="461.00" y="370.30" font-size="6.0" font-weight="bold" text-anchor="start" fill="#111" style="stroke-width:0.45px" textLength="16.4" lengthAdjust="spacingAndGlyphs">J Gene</text>
<text x="369.90" y="256.40" font-size="5.0" font-weight="bold" text-anchor="middle" fill="#111" style="stroke-width:0.2px" textLength="15.8" lengthAdjust="spacingAndGlyphs">33.64%</text>
<text x="436.00" y="261.60" font-size="5.0" font-weight="bold" text-anchor="middle" fill="#111" style="stroke-width:0.2px" textLength="15.8" lengthAdjust="spacingAndGlyphs">33.94%</text>
<text x="0.60" y="405.00" font-size="11.3" font-weight="bold" text-anchor="start" fill="#111">C</text>
<line x1="31.9" y1="420.9" x2="31.9" y2="502.2" stroke="#111" stroke-width="1.5"/>
<line x1="31.9" y1="501.5" x2="171.7" y2="501.5" stroke="#111" stroke-width="1.4"/>
<line x1="28.8" y1="421.5" x2="31.9" y2="421.5" stroke="#111" stroke-width="1.1"/>
<text x="28.50" y="424.90" font-size="10.6" font-weight="bold" text-anchor="end" fill="#111" textLength="13.1" lengthAdjust="spacingAndGlyphs">0.8</text>
<line x1="28.8" y1="441.5" x2="31.9" y2="441.5" stroke="#111" stroke-width="1.1"/>
<text x="28.50" y="444.90" font-size="10.6" font-weight="bold" text-anchor="end" fill="#111" textLength="13.1" lengthAdjust="spacingAndGlyphs">0.6</text>
<line x1="28.8" y1="461.5" x2="31.9" y2="461.5" stroke="#111" stroke-width="1.1"/>
<text x="28.50" y="464.90" font-size="10.6" font-weight="bold" text-anchor="end" fill="#111" textLength="13.1" lengthAdjust="spacingAndGlyphs">0.4</text>
<line x1="28.8" y1="481.5" x2="31.9" y2="481.5" stroke="#111" stroke-width="1.1"/>
<text x="28.50" y="484.90" font-size="10.6" font-weight="bold" text-anchor="end" fill="#111" textLength="13.1" lengthAdjust="spacingAndGlyphs">0.2</text>
<line x1="28.8" y1="501.5" x2="31.9" y2="501.5" stroke="#111" stroke-width="1.1"/>
<text x="28.50" y="504.90" font-size="10.6" font-weight="bold" text-anchor="end" fill="#111" textLength="13.1" lengthAdjust="spacingAndGlyphs">0.0</text>
<line x1="43.5" y1="501.5" x2="43.5" y2="504.5" stroke="#111" stroke-width="1.1"/>
<line x1="66.7" y1="501.5" x2="66.7" y2="504.5" stroke="#111" stroke-width="1.1"/>
<line x1="89.8" y1="501.5" x2="89.8" y2="504.5" stroke="#111" stroke-width="1.1"/>
<line x1="113.4" y1="501.5" x2="113.4" y2="504.5" stroke="#111" stroke-width="1.1"/>
<line x1="136.9" y1="501.5" x2="136.9" y2="504.5" stroke="#111" stroke-width="1.1"/>
<line x1="160.0" y1="501.5" x2="160.0" y2="504.5" stroke="#111" stroke-width="1.1"/>
<text x="58.80" y="516.80" font-size="10.6" font-weight="bold" text-anchor="middle" fill="#111">PBMC</text>
<text x="105.90" y="516.80" font-size="10.6" font-weight="bold" text-anchor="middle" fill="#111">Naive</text>
<text x="151.70" y="516.80" font-size="10.6" font-weight="bold" text-anchor="middle" fill="#111">TEM</text>
<text x="8.90" y="460.00" font-size="10.2" font-weight="bold" text-anchor="middle" fill="#111" transform="rotate(-90 8.90 460.00)">Clonality</text>
<line x1="43.8" y1="426.5" x2="93.3" y2="426.5" stroke="#111" stroke-width="1.2"/><line x1="43.8" y1="423.7" x2="43.8" y2="429.3" stroke="#111" stroke-width="1.2"/><line x1="93.3" y1="423.7" x2="93.3" y2="429.3" stroke="#111" stroke-width="1.2"/>
<text x="69.30" y="426.17" font-size="10.5" font-weight="bold" text-anchor="middle" fill="#111">*</text>
<line x1="42.9" y1="446.5" x2="66.3" y2="446.5" stroke="#111" stroke-width="1.2"/><line x1="42.9" y1="443.7" x2="42.9" y2="449.3" stroke="#111" stroke-width="1.2"/><line x1="66.3" y1="443.7" x2="66.3" y2="449.3" stroke="#111" stroke-width="1.2"/>
<text x="54.80" y="446.17" font-size="10.5" font-weight="bold" text-anchor="middle" fill="#111">*</text>
<line x1="136.7" y1="426.5" x2="159.6" y2="426.5" stroke="#111" stroke-width="1.2"/><line x1="136.7" y1="423.7" x2="136.7" y2="429.3" stroke="#111" stroke-width="1.2"/><line x1="159.6" y1="423.7" x2="159.6" y2="429.3" stroke="#111" stroke-width="1.2"/>
<text x="149.00" y="426.17" font-size="10.5" font-weight="bold" text-anchor="middle" fill="#111">*</text>
<line x1="37.0" y1="497.0" x2="50.0" y2="497.0" stroke="#222" stroke-width="1.3"/>
<polygon points="39.6,493.4 42.8,496.6 39.6,499.8 36.4,496.6" fill="#1414c8"/>
<polygon points="42.8,493.8 46.0,497.0 42.8,500.2 39.6,497.0" fill="#1414c8"/>
<polygon points="45.6,493.4 48.8,496.6 45.6,499.8 42.4,496.6" fill="#1414c8"/>
<polygon points="47.9,493.4 51.1,496.6 47.9,499.8 44.7,496.6" fill="#1414c8"/>
<line x1="66.8" y1="456.6" x2="66.8" y2="470.4" stroke="#e0505a" stroke-width="1.0"/><line x1="62.6" y1="456.6" x2="71.0" y2="456.6" stroke="#e0505a" stroke-width="1.0"/><line x1="62.6" y1="470.4" x2="71.0" y2="470.4" stroke="#e0505a" stroke-width="1.0"/><line x1="58.9" y1="463.5" x2="74.7" y2="463.5" stroke="#222" stroke-width="1.3"/>
<polygon points="62.1,454.0 65.2,457.1 62.1,460.2 59.0,457.1" fill="#e3141e"/>
<polygon points="66.8,455.2 69.9,458.3 66.8,461.4 63.7,458.3" fill="#e3141e"/>
<polygon points="71.4,452.3 74.5,455.4 71.4,458.5 68.3,455.4" fill="#e3141e"/>
<polygon points="66.8,481.3 69.9,484.4 66.8,487.5 63.7,484.4" fill="#e3141e"/>
<polygon points="86.0,495.5 89.1,500.6 82.9,500.6" fill="#1414c8"/>
<polygon points="89.8,493.5 92.9,498.6 86.7,498.6" fill="#1414c8"/>
<polygon points="93.6,495.5 96.7,500.6 90.5,500.6" fill="#1414c8"/>
<polygon points="88.0,496.5 91.1,501.6 84.9,501.6" fill="#1414c8"/>
<polygon points="91.6,496.5 94.7,501.6 88.5,501.6" fill="#1414c8"/>
<polygon points="89.8,496.7 92.9,501.8 86.7,501.8" fill="#1414c8"/>
<line x1="82.3" y1="498.2" x2="97.9" y2="498.2" stroke="#222" stroke-width="1.3"/>
<line x1="113.4" y1="489.6" x2="113.4" y2="497.0" stroke="#e0505a" stroke-width="1.0"/><line x1="109.4" y1="489.6" x2="117.4" y2="489.6" stroke="#e0505a" stroke-width="1.0"/><line x1="109.4" y1="497.0" x2="117.4" y2="497.0" stroke="#e0505a" stroke-width="1.0"/><line x1="105.6" y1="493.3" x2="121.2" y2="493.3" stroke="#222" stroke-width="1.3"/>
<polygon points="113.4,480.7 116.2,485.3 110.7,485.3" fill="#e3141e"/>
<polygon points="110.0,491.6 112.8,496.2 107.2,496.2" fill="#e3141e"/>
<polygon points="113.4,495.9 116.2,500.5 110.7,500.5" fill="#e3141e"/>
<polygon points="117.5,494.4 120.2,499.0 114.8,499.0" fill="#e3141e"/>
<text x="121.20" y="485.60" font-size="8.8" font-weight="bold" text-anchor="middle" fill="#111">#</text>
<line x1="136.9" y1="470.5" x2="136.9" y2="478.0" stroke="#2a2aa0" stroke-width="1.0"/><line x1="133.3" y1="470.5" x2="140.5" y2="470.5" stroke="#2a2aa0" stroke-width="1.0"/><line x1="133.3" y1="478.0" x2="140.5" y2="478.0" stroke="#2a2aa0" stroke-width="1.0"/><line x1="129.1" y1="474.4" x2="144.7" y2="474.4" stroke="#222" stroke-width="1.3"/>
<circle cx="136.8" cy="458.3" r="2.3" fill="#1414c8"/>
<circle cx="140.5" cy="465.9" r="2.3" fill="#1414c8"/>
<circle cx="132.9" cy="470.5" r="2.3" fill="#1414c8"/>
<circle cx="132.9" cy="477.9" r="2.3" fill="#1414c8"/>
<circle cx="140.5" cy="478.3" r="2.3" fill="#1414c8"/>
<circle cx="140.5" cy="481.8" r="2.3" fill="#1414c8"/>
<circle cx="132.9" cy="489.1" r="2.3" fill="#1414c8"/>
<line x1="129.0" y1="474.4" x2="144.6" y2="474.4" stroke="#222" stroke-width="1.3"/>
<line x1="160.1" y1="450.7" x2="160.1" y2="465.1" stroke="#e0505a" stroke-width="1.0"/><line x1="156.3" y1="450.7" x2="163.9" y2="450.7" stroke="#e0505a" stroke-width="1.0"/><line x1="156.3" y1="465.1" x2="163.9" y2="465.1" stroke="#e0505a" stroke-width="1.0"/><line x1="152.3" y1="457.8" x2="167.9" y2="457.8" stroke="#222" stroke-width="1.3"/>
<circle cx="160.1" cy="434.1" r="2.3" fill="#e3141e"/>
<circle cx="156.3" cy="452.0" r="2.3" fill="#e3141e"/>
<circle cx="163.7" cy="457.1" r="2.3" fill="#e3141e"/>
<circle cx="163.7" cy="470.5" r="2.3" fill="#e3141e"/>
<circle cx="156.3" cy="475.4" r="2.3" fill="#e3141e"/>
<line x1="152.4" y1="457.8" x2="168.2" y2="457.8" stroke="#222" stroke-width="1.3"/>
<polygon points="182.2,441.0 185.2,444.0 182.2,447.0 179.2,444.0" fill="#e3141e"/>
<text x="190.20" y="447.00" font-size="8.2" font-weight="bold" text-anchor="start" fill="#111">PBMC + CMV</text>
<polygon points="182.2,450.5 185.2,453.5 182.2,456.5 179.2,453.5" fill="#1414c8"/>
<text x="190.20" y="456.46" font-size="8.2" font-weight="bold" text-anchor="start" fill="#111">PBMC - CMV</text>
<circle cx="182.2" cy="462.9" r="2.6" fill="#e3141e"/>
<text x="190.20" y="465.92" font-size="8.2" font-weight="bold" text-anchor="start" fill="#111">TEM + CMV</text>
<circle cx="182.2" cy="472.4" r="2.6" fill="#1414c8"/>
<text x="190.20" y="475.38" font-size="8.2" font-weight="bold" text-anchor="start" fill="#111">TEM - CMV</text>
<polygon points="182.2,479.3 185.2,484.3 179.2,484.3" fill="#e3141e"/>
<text x="190.20" y="484.84" font-size="8.2" font-weight="bold" text-anchor="start" fill="#111">Naive + CMV</text>
<polygon points="182.2,488.8 185.2,493.8 179.2,493.8" fill="#1414c8"/>
<text x="190.20" y="494.30" font-size="8.2" font-weight="bold" text-anchor="start" fill="#111">Naive - CMV</text>
<text x="266.10" y="405.20" font-size="11.0" font-weight="bold" text-anchor="start" fill="#111">D</text>
<line x1="288.5" y1="422.9" x2="288.5" y2="496.0" stroke="#111" stroke-width="1.5"/>
<line x1="288.5" y1="495.3" x2="447.6" y2="495.3" stroke="#111" stroke-width="1.4"/>
<line x1="285.9" y1="423.5" x2="288.5" y2="423.5" stroke="#111" stroke-width="1.1"/>
<text x="285.40" y="426.90" font-size="10.6" font-weight="bold" text-anchor="end" fill="#111" textLength="13.1" lengthAdjust="spacingAndGlyphs">0.8</text>
<line x1="285.9" y1="441.4" x2="288.5" y2="441.4" stroke="#111" stroke-width="1.1"/>
<text x="285.40" y="444.83" font-size="10.6" font-weight="bold" text-anchor="end" fill="#111" textLength="13.1" lengthAdjust="spacingAndGlyphs">0.6</text>
<line x1="285.9" y1="459.4" x2="288.5" y2="459.4" stroke="#111" stroke-width="1.1"/>
<text x="285.40" y="462.76" font-size="10.6" font-weight="bold" text-anchor="end" fill="#111" textLength="13.1" lengthAdjust="spacingAndGlyphs">0.4</text>
<line x1="285.9" y1="477.3" x2="288.5" y2="477.3" stroke="#111" stroke-width="1.1"/>
<text x="285.40" y="480.69" font-size="10.6" font-weight="bold" text-anchor="end" fill="#111" textLength="13.1" lengthAdjust="spacingAndGlyphs">0.2</text>
<line x1="285.9" y1="495.2" x2="288.5" y2="495.2" stroke="#111" stroke-width="1.1"/>
<text x="285.40" y="498.62" font-size="10.6" font-weight="bold" text-anchor="end" fill="#111" textLength="13.1" lengthAdjust="spacingAndGlyphs">0.0</text>
<line x1="288.7" y1="495.3" x2="288.7" y2="498.3" stroke="#111" stroke-width="1.1"/>
<text x="288.70" y="507.50" font-size="10.6" font-weight="bold" text-anchor="middle" fill="#111" textLength="5.55" lengthAdjust="spacingAndGlyphs">0</text>
<line x1="320.4" y1="495.3" x2="320.4" y2="498.3" stroke="#111" stroke-width="1.1"/>
<text x="320.40" y="507.50" font-size="10.6" font-weight="bold" text-anchor="middle" fill="#111" textLength="11.1" lengthAdjust="spacingAndGlyphs">20</text>
<line x1="352.1" y1="495.3" x2="352.1" y2="498.3" stroke="#111" stroke-width="1.1"/>
<text x="352.10" y="507.50" font-size="10.6" font-weight="bold" text-anchor="middle" fill="#111" textLength="11.1" lengthAdjust="spacingAndGlyphs">40</text>
<line x1="383.8" y1="495.3" x2="383.8" y2="498.3" stroke="#111" stroke-width="1.1"/>
<text x="383.80" y="507.50" font-size="10.6" font-weight="bold" text-anchor="middle" fill="#111" textLength="11.1" lengthAdjust="spacingAndGlyphs">60</text>
<line x1="415.5" y1="495.3" x2="415.5" y2="498.3" stroke="#111" stroke-width="1.1"/>
<text x="415.50" y="507.50" font-size="10.6" font-weight="bold" text-anchor="middle" fill="#111" textLength="11.1" lengthAdjust="spacingAndGlyphs">80</text>
<line x1="447.2" y1="495.3" x2="447.2" y2="498.3" stroke="#111" stroke-width="1.1"/>
<text x="447.20" y="507.50" font-size="10.6" font-weight="bold" text-anchor="middle" fill="#111" textLength="16.65" lengthAdjust="spacingAndGlyphs">100</text>
<text x="370.00" y="521.80" font-size="9.6" font-weight="bold" text-anchor="middle" fill="#111">TEM: % of Total CD8+ T Cells</text>
<text x="265.80" y="456.50" font-size="10.2" font-weight="bold" text-anchor="middle" fill="#111" transform="rotate(-90 265.80 456.50)">Clonality</text>
<rect x="295.3" y="490.5" width="4.0" height="4.0" fill="#1414c8"/>
<rect x="301.1" y="490.5" width="4.0" height="4.0" fill="#1414c8"/>
<rect x="306.6" y="490.8" width="4.0" height="4.0" fill="#1414c8"/>
<rect x="314.9" y="490.5" width="4.0" height="4.0" fill="#1414c8"/>
<rect x="339.0" y="490.3" width="4.0" height="4.0" fill="#1414c8"/>
<rect x="340.0" y="489.8" width="4.0" height="4.0" fill="#1414c8"/>
<rect x="380.7" y="487.7" width="4.0" height="4.0" fill="#1414c8"/>
<circle cx="297.8" cy="463.5" r="2.2" fill="#1414c8"/>
<circle cx="303.5" cy="474.6" r="2.2" fill="#1414c8"/>
<circle cx="308.5" cy="484.6" r="2.2" fill="#1414c8"/>
<circle cx="317.3" cy="474.3" r="2.2" fill="#1414c8"/>
<circle cx="341.5" cy="467.8" r="2.2" fill="#1414c8"/>
<circle cx="341.5" cy="477.7" r="2.2" fill="#1414c8"/>
<circle cx="382.7" cy="456.5" r="2.2" fill="#1414c8"/>
<rect x="371.2" y="476.9" width="4.0" height="4.0" fill="#e3141e"/>
<rect x="377.2" y="491.4" width="4.0" height="4.0" fill="#e3141e"/>
<rect x="419.2" y="489.6" width="4.0" height="4.0" fill="#e3141e"/>
<rect x="424.5" y="485.7" width="4.0" height="4.0" fill="#e3141e"/>
<circle cx="372.7" cy="455.8" r="2.2" fill="#e3141e"/>
<circle cx="389.6" cy="467.3" r="2.2" fill="#e3141e"/>
<circle cx="379.2" cy="472.0" r="2.2" fill="#e3141e"/>
<circle cx="421.2" cy="435.0" r="2.2" fill="#e3141e"/>
<circle cx="426.5" cy="451.2" r="2.2" fill="#e3141e"/>
<line x1="373.4" y1="466.9" x2="425.8" y2="444.2" stroke="#111" stroke-width="1.6"/>
<text x="372.6" y="443.6" font-size="9.6" font-weight="bold" fill="#111">R<tspan font-size="6" dy="-3.6">2</tspan><tspan dy="3.6">= 0.506</tspan></text>
<text x="367.50" y="482.90" font-size="9.6" font-weight="bold" text-anchor="middle" fill="#111">#</text>
<rect x="454.9" y="447.2" width="4.0" height="4.0" fill="#1414c8"/>
<text x="465.20" y="452.40" font-size="9.0" font-weight="bold" text-anchor="start" fill="#111">- CMV Naive</text>
<circle cx="456.9" cy="458.1" r="2.2" fill="#1414c8"/>
<text x="465.20" y="461.27" font-size="9.0" font-weight="bold" text-anchor="start" fill="#111">- CMV TEM</text>
<rect x="454.9" y="464.9" width="4.0" height="4.0" fill="#e3141e"/>
<text x="465.20" y="470.14" font-size="9.0" font-weight="bold" text-anchor="start" fill="#111">+ CMV Naive</text>
<circle cx="456.9" cy="475.8" r="2.2" fill="#e3141e"/>
<text x="465.20" y="479.01" font-size="9.0" font-weight="bold" text-anchor="start" fill="#111">+ CMV TEM</text>
<text x="0.70" y="543.90" font-size="11.0" font-weight="bold" text-anchor="start" fill="#111">E</text>
<line x1="41.9" y1="558.1" x2="41.9" y2="642.2" stroke="#111" stroke-width="1.5"/>
<line x1="41.9" y1="641.5" x2="155.6" y2="641.5" stroke="#111" stroke-width="1.4"/>
<line x1="39.0" y1="558.7" x2="41.9" y2="558.7" stroke="#111" stroke-width="1.1"/>
<text x="39.00" y="561.40" font-size="8.8" font-weight="bold" text-anchor="end" fill="#111" textLength="10.5" lengthAdjust="spacingAndGlyphs">1.0</text>
<line x1="39.0" y1="586.3" x2="41.9" y2="586.3" stroke="#111" stroke-width="1.1"/>
<text x="39.00" y="588.97" font-size="8.8" font-weight="bold" text-anchor="end" fill="#111" textLength="10.5" lengthAdjust="spacingAndGlyphs">0.8</text>
<line x1="39.0" y1="613.8" x2="41.9" y2="613.8" stroke="#111" stroke-width="1.1"/>
<text x="39.00" y="616.54" font-size="8.8" font-weight="bold" text-anchor="end" fill="#111" textLength="10.5" lengthAdjust="spacingAndGlyphs">0.6</text>
<line x1="39.0" y1="641.4" x2="41.9" y2="641.4" stroke="#111" stroke-width="1.1"/>
<text x="39.00" y="644.11" font-size="8.8" font-weight="bold" text-anchor="end" fill="#111" textLength="10.5" lengthAdjust="spacingAndGlyphs">0.4</text>
<line x1="56.1" y1="641.5" x2="56.1" y2="644.5" stroke="#111" stroke-width="1.1"/>
<line x1="84.8" y1="641.5" x2="84.8" y2="644.5" stroke="#111" stroke-width="1.1"/>
<line x1="113.2" y1="641.5" x2="113.2" y2="644.5" stroke="#111" stroke-width="1.1"/>
<line x1="141.1" y1="641.5" x2="141.1" y2="644.5" stroke="#111" stroke-width="1.1"/>
<text x="69.80" y="655.20" font-size="8.6" font-weight="bold" text-anchor="middle" fill="#111">Naive</text>
<text x="127.00" y="655.20" font-size="8.6" font-weight="bold" text-anchor="middle" fill="#111">TEM</text>
<text x="25.20" y="598.50" font-size="8.6" font-weight="bold" text-anchor="middle" fill="#111" transform="rotate(-90 25.20 598.50)" textLength="16.4" lengthAdjust="spacingAndGlyphs">GINI</text>
<line x1="53.5" y1="591.9" x2="84.2" y2="591.9" stroke="#111" stroke-width="1.2"/><line x1="53.5" y1="589.5" x2="53.5" y2="594.3" stroke="#111" stroke-width="1.2"/><line x1="84.2" y1="589.5" x2="84.2" y2="594.3" stroke="#111" stroke-width="1.2"/>
<text x="69.90" y="590.50" font-size="8.4" font-weight="bold" text-anchor="middle" fill="#111" textLength="10.8" lengthAdjust="spacingAndGlyphs">NS</text>
<line x1="111.9" y1="555.4" x2="140.9" y2="555.4" stroke="#111" stroke-width="1.2"/><line x1="111.9" y1="553.0" x2="111.9" y2="557.8" stroke="#111" stroke-width="1.2"/><line x1="140.9" y1="553.0" x2="140.9" y2="557.8" stroke="#111" stroke-width="1.2"/>
<text x="126.50" y="555.70" font-size="8" font-weight="bold" text-anchor="middle" fill="#111">*</text>
<polygon points="49.2,628.8 51.8,633.2 46.6,633.2" fill="#1414c8"/>
<polygon points="49.2,631.5 51.8,635.9 46.6,635.9" fill="#1414c8"/>
<polygon points="56.1,628.8 58.7,633.2 53.5,633.2" fill="#1414c8"/>
<polygon points="56.1,631.5 58.7,635.9 53.5,635.9" fill="#1414c8"/>
<polygon points="63.1,627.1 65.7,631.5 60.5,631.5" fill="#1414c8"/>
<polygon points="52.7,636.7 55.3,641.1 50.1,641.1" fill="#1414c8"/>
<polygon points="59.6,635.7 62.2,640.1 57.0,640.1" fill="#1414c8"/>
<line x1="47.5" y1="633.0" x2="64.8" y2="633.0" stroke="#222" stroke-width="1.3"/>
<line x1="84.6" y1="615.5" x2="84.6" y2="632.5" stroke="#d8303c" stroke-width="1.0"/><line x1="79.8" y1="615.5" x2="89.4" y2="615.5" stroke="#d8303c" stroke-width="1.0"/><line x1="79.8" y1="632.5" x2="89.4" y2="632.5" stroke="#d8303c" stroke-width="1.0"/><line x1="75.2" y1="623.8" x2="94.0" y2="623.8" stroke="#222" stroke-width="1.3"/>
<polygon points="84.4,597.7 87.0,602.1 81.8,602.1" fill="#e3141e"/>
<polygon points="84.4,619.6 87.0,624.0 81.8,624.0" fill="#e3141e"/>
<polygon points="81.0,635.2 83.6,639.6 78.4,639.6" fill="#e3141e"/>
<polygon points="88.2,634.3 90.8,638.7 85.6,638.7" fill="#e3141e"/>
<text x="91.00" y="602.90" font-size="6.5" font-weight="bold" text-anchor="middle" fill="#111">#</text>
<line x1="113.0" y1="580.2" x2="113.0" y2="589.8" stroke="#2a2aa0" stroke-width="1.0"/><line x1="109.2" y1="580.2" x2="116.8" y2="580.2" stroke="#2a2aa0" stroke-width="1.0"/><line x1="109.2" y1="589.8" x2="116.8" y2="589.8" stroke="#2a2aa0" stroke-width="1.0"/><line x1="103.9" y1="584.8" x2="122.1" y2="584.8" stroke="#222" stroke-width="1.3"/>
<circle cx="112.9" cy="569.0" r="2.2" fill="#1414c8"/>
<circle cx="109.1" cy="576.7" r="2.2" fill="#1414c8"/>
<circle cx="116.7" cy="576.7" r="2.2" fill="#1414c8"/>
<circle cx="120.2" cy="585.8" r="2.2" fill="#1414c8"/>
<circle cx="106.0" cy="589.4" r="2.2" fill="#1414c8"/>
<circle cx="112.9" cy="590.9" r="2.2" fill="#1414c8"/>
<circle cx="112.9" cy="607.7" r="2.2" fill="#1414c8"/>
<line x1="103.7" y1="584.8" x2="122.0" y2="584.8" stroke="#222" stroke-width="1.3"/>
<line x1="141.5" y1="564.9" x2="141.5" y2="570.4" stroke="#d8303c" stroke-width="1.0"/><line x1="137.7" y1="564.9" x2="145.3" y2="564.9" stroke="#d8303c" stroke-width="1.0"/><line x1="137.7" y1="570.4" x2="145.3" y2="570.4" stroke="#d8303c" stroke-width="1.0"/><line x1="132.3" y1="567.5" x2="150.7" y2="567.5" stroke="#222" stroke-width="1.3"/>
<circle cx="134.4" cy="563.2" r="2.2" fill="#e3141e"/>
<circle cx="141.6" cy="563.4" r="2.2" fill="#e3141e"/>
<circle cx="148.7" cy="561.4" r="2.2" fill="#e3141e"/>
<circle cx="138.1" cy="574.7" r="2.2" fill="#e3141e"/>
<circle cx="145.2" cy="574.7" r="2.2" fill="#e3141e"/>
<line x1="132.3" y1="567.5" x2="150.7" y2="567.5" stroke="#222" stroke-width="1.3"/>
<polygon points="190.8,578.5 193.9,583.6 187.7,583.6" fill="#1414c8"/>
<text x="198.80" y="584.10" font-size="8.4" font-weight="bold" text-anchor="start" fill="#111">Naive CMV-</text>
<polygon points="190.8,588.5 193.9,593.7 187.7,593.7" fill="#e3141e"/>
<text x="198.80" y="594.13" font-size="8.4" font-weight="bold" text-anchor="start" fill="#111">Naive CMV+</text>
<circle cx="190.8" cy="601.2" r="2.6" fill="#1414c8"/>
<text x="198.80" y="604.16" font-size="8.4" font-weight="bold" text-anchor="start" fill="#111">TEM CMV-</text>
<circle cx="190.8" cy="611.2" r="2.6" fill="#e3141e"/>
<text x="198.80" y="614.19" font-size="8.4" font-weight="bold" text-anchor="start" fill="#111">TEM CMV+</text>
</svg>
</body></html>
